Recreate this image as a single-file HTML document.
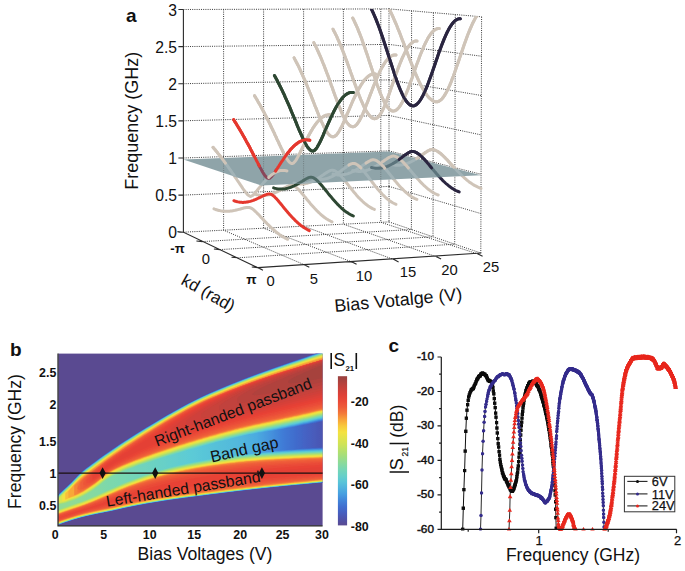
<!DOCTYPE html>
<html><head><meta charset="utf-8"><title>figure</title>
<style>html,body{margin:0;padding:0;background:#fff;}svg{display:block;}text{font-family:"Liberation Sans",sans-serif;}</style>
</head><body>
<svg width="685" height="571" viewBox="0 0 685 571">
<rect width="685" height="571" fill="#fff"/>
<g stroke="#3a3a3a" stroke-width="1.0" stroke-dasharray="1 1.2" fill="none">
<path d="M223.6 9.4L223.6 230.2M263.6 9.3L263.6 228.2M303.6 9.1L303.6 226.2M343.4 9L343.4 224.2M380.8 8.9L380.8 222.3M389 8.9L389 221.9M183.4 9.5L389 8.9M183.4 46.6L389 44.4M183.4 83.7L389 79.9M183.4 120.8L389 115.4M183.4 158L389 150.9M183.4 195.1L389 186.4M183.4 232.2L389 221.9M411.6 10.8L411.4 229.5M433.4 12.7L433 236.8M455.3 14.6L454.7 244.2M481.6 16.8L480.8 253M389 8.9L481.6 16.8M389 44.4L481.5 56.2M389 79.9L481.3 95.5M389 115.4L481.2 134.9M389 150.9L481.1 174.3M389 186.4L480.9 213.6M389 221.9L480.8 253M202.4 241.6L411.4 229.5M219.9 249.6L433 236.8M237.5 257.8L454.7 244.2M304.7 264.9L223.6 230.2M352 262L263.6 228.2M394 259.6L303.6 226.2M436.5 256.8L343.4 224.2M478 254L380.8 222.3"/>
</g>
<defs><clipPath id="cpA"><polygon points="150,400 183.4,9.5 389,8.9 481.6,16.8 520,20 520,400"/></clipPath>
<clipPath id="cpP"><polygon points="183.4,159.4 389,151.6 481,175.3 261.3,185.4"/></clipPath></defs>
<g clip-path="url(#cpA)" fill="none" stroke-width="3.0" stroke-linecap="round" stroke-linejoin="round">
<path d="M391.5 164.5 L392.5 164.7 L393.5 164.9 L394.5 165.1 L395.5 165.2 L396.5 165.2 L397.5 165.3 L398.5 165.2 L399.5 165.2 L400.6 165.1 L401.6 164.9 L402.6 164.8 L403.6 164.6 L404.6 164.3 L405.6 164 L406.6 163.7 L407.6 163.3 L408.6 162.9 L409.6 162.5 L410.6 162 L411.6 161.5 L412.6 161 L413.6 160.4 L414.6 159.8 L415.6 159.2 L416.6 158.6 L417.6 157.9 L418.7 157.3 L419.7 156.6 L420.7 155.9 L421.7 155.2 L422.7 154.4 L423.7 153.7 L424.7 153 L425.7 152.3 L426.7 151.7 L427.7 151 L428.7 150.5 L429.7 150 L430.7 149.7 L431.7 149.5 L432.7 149.5 L433.7 149.7 L434.7 150.1 L435.7 150.5 L436.8 151 L437.8 151.5 L438.8 152.2 L439.8 152.9 L440.8 153.7 L441.8 154.6 L442.8 155.5 L443.8 156.5 L444.8 157.4 L445.8 158.5 L446.8 159.5 L447.8 160.6 L448.8 161.7 L449.8 162.8 L450.8 163.9 L451.8 165 L452.8 166.1 L453.8 167.2 L454.9 168.3 L455.9 169.3 L456.9 170.4 L457.9 171.5 L458.9 172.5 L459.9 173.5 L460.9 174.5 L461.9 175.5 L462.9 176.5 L463.9 177.4 L464.9 178.3 L465.9 179.2 L466.9 180.1 L467.9 180.9 L468.9 181.7 L469.9 182.4 L470.9 183.1 L471.9 183.8 L473 184.5 L474 185.1 L475 185.7 L476 186.2 L477 186.7 L478 187.2 L479 187.6 L480 188 L481 188.4" stroke="#cfc4b8"/>
<path d="M385.5 2 L386.6 4 L387.8 6.1 L388.9 8.3 L390 10.6 L391.1 12.9 L392.3 15.4 L393.4 17.9 L394.5 20.5 L395.7 23.1 L396.8 25.8 L397.9 28.6 L399.1 31.4 L400.2 34.3 L401.3 37.2 L402.4 40.1 L403.6 43 L404.7 46 L405.8 49 L407 51.9 L408.1 54.9 L409.2 57.8 L410.3 60.7 L411.5 63.6 L412.6 66.5 L413.7 69.3 L414.9 72 L416 74.6 L417.1 77.2 L418.2 79.7 L419.4 82.1 L420.5 84.4 L421.6 86.6 L422.8 88.7 L423.9 90.6 L425 92.4 L426.2 94.1 L427.3 95.6 L428.4 97 L429.5 98.2 L430.7 99.2 L431.8 100.1 L432.9 100.8 L434.1 101.3 L435.2 101.7 L436.3 101.8 L437.4 101.8 L438.6 101.4 L439.7 100.8 L440.8 99.9 L442 98.8 L443.1 97.5 L444.2 95.9 L445.3 94.1 L446.5 92.1 L447.6 89.9 L448.7 87.5 L449.9 84.9 L451 82.2 L452.1 79.3 L453.3 76.3 L454.4 73.2 L455.5 70.1 L456.6 66.8 L457.8 63.5 L458.9 60.2 L460 56.9 L461.2 53.6 L462.3 50.2 L463.4 47 L464.5 43.7 L465.7 40.6 L466.8 37.5 L467.9 34.5 L469.1 31.6 L470.2 28.9 L471.3 26.3 L472.4 23.8 L473.6 21.5 L474.7 19.4 L475.8 17.4 L477 15.6 L478.1 14 L479.2 12.7 L480.4 11.5 L481.5 10.6 L482.6 9.8 L483.7 9.3 L484.9 9.1 L486 9" stroke="#cfc4b8"/>
<path d="M352.7 170.5 L353.7 170.7 L354.6 171 L355.6 171.1 L356.5 171.2 L357.5 171.3 L358.5 171.4 L359.4 171.4 L360.4 171.4 L361.3 171.3 L362.3 171.2 L363.3 171.1 L364.2 170.9 L365.2 170.7 L366.1 170.5 L367.1 170.2 L368.1 169.9 L369 169.5 L370 169.1 L371 168.7 L371.9 168.3 L372.9 167.8 L373.8 167.3 L374.8 166.8 L375.8 166.2 L376.7 165.7 L377.7 165.1 L378.6 164.5 L379.6 163.8 L380.6 163.2 L381.5 162.5 L382.5 161.8 L383.4 161.2 L384.4 160.5 L385.4 159.8 L386.3 159.2 L387.3 158.5 L388.2 157.9 L389.2 157.3 L390.2 156.9 L391.1 156.5 L392.1 156.2 L393 156.1 L394 156.1 L395 156.4 L395.9 156.7 L396.9 157.2 L397.9 157.7 L398.8 158.4 L399.8 159.1 L400.7 159.9 L401.7 160.8 L402.7 161.7 L403.6 162.6 L404.6 163.7 L405.5 164.7 L406.5 165.8 L407.5 166.9 L408.4 168 L409.4 169.1 L410.3 170.3 L411.3 171.4 L412.3 172.6 L413.2 173.7 L414.2 174.9 L415.1 176 L416.1 177.1 L417.1 178.2 L418 179.3 L419 180.3 L419.9 181.4 L420.9 182.4 L421.9 183.4 L422.8 184.3 L423.8 185.3 L424.8 186.2 L425.7 187 L426.7 187.9 L427.6 188.7 L428.6 189.4 L429.6 190.2 L430.5 190.9 L431.5 191.5 L432.4 192.1 L433.4 192.7 L434.4 193.3 L435.3 193.8 L436.3 194.2 L437.2 194.6 L438.2 195" stroke="#cfc4b8"/>
<path d="M352.7 18 L353.7 19.9 L354.6 21.9 L355.6 24 L356.6 26.2 L357.6 28.4 L358.5 30.8 L359.5 33.2 L360.5 35.7 L361.5 38.3 L362.4 41 L363.4 43.7 L364.4 46.5 L365.3 49.3 L366.3 52.2 L367.3 55.1 L368.3 58.1 L369.2 61 L370.2 64 L371.2 67 L372.2 70 L373.1 72.9 L374.1 75.8 L375.1 78.7 L376.1 81.6 L377 84.4 L378 87.1 L379 89.7 L379.9 92.2 L380.9 94.6 L381.9 96.9 L382.9 99 L383.8 101.1 L384.8 102.9 L385.8 104.6 L386.8 106.1 L387.7 107.4 L388.7 108.5 L389.7 109.5 L390.6 110.2 L391.6 110.7 L392.6 111 L393.6 111.1 L394.5 110.9 L395.5 110.5 L396.5 109.9 L397.5 109.1 L398.4 108.1 L399.4 106.9 L400.4 105.4 L401.4 103.8 L402.3 102.1 L403.3 100.1 L404.3 98 L405.2 95.8 L406.2 93.5 L407.2 91.1 L408.2 88.6 L409.1 86 L410.1 83.3 L411.1 80.6 L412.1 77.9 L413 75.1 L414 72.3 L415 69.6 L415.9 66.8 L416.9 64.1 L417.9 61.4 L418.9 58.8 L419.8 56.2 L420.8 53.7 L421.8 51.3 L422.8 49 L423.7 46.7 L424.7 44.6 L425.7 42.5 L426.7 40.6 L427.6 38.8 L428.6 37.1 L429.6 35.6 L430.5 34.2 L431.5 33 L432.5 31.8 L433.5 30.9 L434.4 30.1 L435.4 29.5 L436.4 29 L437.4 28.6 L438.3 28.5 L439.3 28.5" stroke="#cfc4b8"/>
<path d="M333 174 L333.9 174.3 L334.9 174.5 L335.8 174.6 L336.8 174.8 L337.7 174.9 L338.7 174.9 L339.6 175 L340.5 175 L341.5 174.9 L342.4 174.8 L343.4 174.7 L344.3 174.5 L345.3 174.3 L346.2 174.1 L347.1 173.9 L348.1 173.6 L349 173.2 L350 172.9 L350.9 172.5 L351.9 172 L352.8 171.6 L353.7 171.1 L354.7 170.6 L355.6 170.1 L356.6 169.5 L357.5 168.9 L358.5 168.3 L359.4 167.7 L360.3 167.1 L361.3 166.4 L362.2 165.8 L363.2 165.1 L364.1 164.5 L365.1 163.8 L366 163.1 L366.9 162.5 L367.9 161.9 L368.8 161.3 L369.8 160.8 L370.7 160.3 L371.7 160 L372.6 159.8 L373.5 159.8 L374.5 159.9 L375.4 160.2 L376.4 160.6 L377.3 161.2 L378.2 161.8 L379.2 162.5 L380.1 163.3 L381.1 164.2 L382 165.1 L383 166.1 L383.9 167.1 L384.8 168.2 L385.8 169.3 L386.7 170.5 L387.7 171.6 L388.6 172.8 L389.6 174 L390.5 175.1 L391.4 176.3 L392.4 177.5 L393.3 178.7 L394.3 179.8 L395.2 181 L396.2 182.1 L397.1 183.2 L398 184.3 L399 185.4 L399.9 186.4 L400.9 187.5 L401.8 188.4 L402.8 189.4 L403.7 190.3 L404.6 191.2 L405.6 192.1 L406.5 192.9 L407.5 193.7 L408.4 194.5 L409.4 195.2 L410.3 195.8 L411.2 196.5 L412.2 197.1 L413.1 197.6 L414.1 198.1 L415 198.6 L416 199 L416.9 199.4" stroke="#cfc4b8"/>
<path d="M333 29.2 L333.9 31 L334.9 32.8 L335.8 34.7 L336.8 36.7 L337.7 38.8 L338.7 40.9 L339.6 43.1 L340.6 45.3 L341.5 47.6 L342.4 50 L343.4 52.4 L344.3 54.8 L345.3 57.3 L346.2 59.9 L347.2 62.4 L348.1 65 L349 67.6 L350 70.3 L350.9 72.9 L351.9 75.6 L352.8 78.2 L353.8 80.9 L354.7 83.5 L355.7 86.1 L356.6 88.7 L357.5 91.2 L358.5 93.7 L359.4 96.1 L360.4 98.5 L361.3 100.7 L362.3 102.9 L363.2 105 L364.1 107 L365.1 108.8 L366 110.5 L367 112.1 L367.9 113.5 L368.9 114.8 L369.8 115.9 L370.8 116.8 L371.7 117.6 L372.6 118.1 L373.6 118.5 L374.5 118.7 L375.5 118.6 L376.4 118.3 L377.4 117.7 L378.3 116.8 L379.2 115.7 L380.2 114.4 L381.1 112.9 L382.1 111.2 L383 109.3 L384 107.3 L384.9 105.1 L385.9 102.8 L386.8 100.4 L387.7 97.8 L388.7 95.2 L389.6 92.6 L390.6 89.9 L391.5 87.1 L392.5 84.4 L393.4 81.7 L394.3 78.9 L395.3 76.2 L396.2 73.6 L397.2 70.9 L398.1 68.4 L399.1 65.9 L400 63.5 L401 61.1 L401.9 58.9 L402.8 56.8 L403.8 54.8 L404.7 52.9 L405.7 51.1 L406.6 49.4 L407.6 47.9 L408.5 46.5 L409.4 45.3 L410.4 44.2 L411.3 43.3 L412.3 42.5 L413.2 41.9 L414.2 41.4 L415.1 41.1 L416.1 41 L417 41" stroke="#cfc4b8"/>
<path d="M313.8 178.5 L314.7 178.8 L315.6 179 L316.6 179.2 L317.5 179.3 L318.4 179.4 L319.3 179.5 L320.3 179.5 L321.2 179.5 L322.1 179.4 L323 179.3 L324 179.2 L324.9 179 L325.8 178.8 L326.7 178.6 L327.7 178.3 L328.6 178 L329.5 177.6 L330.4 177.2 L331.3 176.8 L332.3 176.4 L333.2 175.9 L334.1 175.4 L335 174.9 L336 174.3 L336.9 173.7 L337.8 173.1 L338.7 172.5 L339.7 171.9 L340.6 171.2 L341.5 170.5 L342.4 169.8 L343.4 169.1 L344.3 168.4 L345.2 167.7 L346.1 167 L347 166.3 L348 165.7 L348.9 165.1 L349.8 164.5 L350.7 164 L351.7 163.7 L352.6 163.4 L353.5 163.4 L354.4 163.5 L355.4 163.8 L356.3 164.2 L357.2 164.7 L358.1 165.4 L359.1 166.1 L360 167 L360.9 167.9 L361.8 168.9 L362.8 169.9 L363.7 171 L364.6 172.2 L365.5 173.3 L366.4 174.5 L367.4 175.7 L368.3 176.9 L369.2 178.2 L370.1 179.4 L371.1 180.6 L372 181.8 L372.9 183 L373.8 184.2 L374.8 185.4 L375.7 186.6 L376.6 187.7 L377.5 188.9 L378.5 190 L379.4 191 L380.3 192.1 L381.2 193.1 L382.1 194.1 L383.1 195 L384 195.9 L384.9 196.8 L385.8 197.7 L386.8 198.5 L387.7 199.2 L388.6 200 L389.5 200.7 L390.5 201.3 L391.4 201.9 L392.3 202.5 L393.2 203 L394.2 203.5 L395.1 203.9 L396 204.3" stroke="#cfc4b8"/>
<path d="M313.8 42.6 L314.7 44.4 L315.6 46.2 L316.6 48.1 L317.5 50.1 L318.4 52.1 L319.3 54.2 L320.3 56.3 L321.2 58.5 L322.1 60.7 L323 63 L324 65.3 L324.9 67.7 L325.8 70.1 L326.7 72.6 L327.7 75 L328.6 77.6 L329.5 80.1 L330.4 82.6 L331.3 85.2 L332.3 87.8 L333.2 90.4 L334.1 92.9 L335 95.5 L336 98 L336.9 100.5 L337.8 102.9 L338.7 105.3 L339.7 107.7 L340.6 109.9 L341.5 112.1 L342.4 114.2 L343.4 116.1 L344.3 118 L345.2 119.7 L346.1 121.2 L347 122.6 L348 123.8 L348.9 124.8 L349.8 125.6 L350.7 126.2 L351.7 126.6 L352.6 126.8 L353.5 126.7 L354.4 126.4 L355.4 125.8 L356.3 124.9 L357.2 123.9 L358.1 122.6 L359.1 121.2 L360 119.5 L360.9 117.8 L361.8 115.8 L362.8 113.8 L363.7 111.7 L364.6 109.4 L365.5 107.1 L366.4 104.8 L367.4 102.4 L368.3 100 L369.2 97.5 L370.1 95.1 L371.1 92.7 L372 90.3 L372.9 87.9 L373.8 85.5 L374.8 83.2 L375.7 81 L376.6 78.8 L377.5 76.6 L378.5 74.6 L379.4 72.6 L380.3 70.7 L381.2 68.9 L382.1 67.2 L383.1 65.6 L384 64.1 L384.9 62.7 L385.8 61.4 L386.8 60.2 L387.7 59.1 L388.6 58.1 L389.5 57.3 L390.5 56.6 L391.4 56 L392.3 55.5 L393.2 55.2 L394.2 55 L395.1 54.9 L396 55" stroke="#cfc4b8"/>
<path d="M294 183 L294.9 183.3 L295.8 183.5 L296.7 183.7 L297.6 183.9 L298.5 184 L299.4 184.1 L300.3 184.1 L301.2 184.1 L302.1 184.1 L303 184 L303.9 183.9 L304.8 183.8 L305.7 183.6 L306.6 183.4 L307.6 183.2 L308.5 182.9 L309.4 182.6 L310.3 182.3 L311.2 181.9 L312.1 181.5 L313 181.1 L313.9 180.7 L314.8 180.2 L315.7 179.7 L316.6 179.2 L317.5 178.7 L318.4 178.1 L319.3 177.5 L320.2 176.9 L321.1 176.3 L322 175.7 L322.9 175.1 L323.8 174.5 L324.7 173.8 L325.6 173.2 L326.5 172.6 L327.4 172.1 L328.3 171.5 L329.2 171.1 L330.1 170.7 L331 170.4 L331.9 170.2 L332.8 170.3 L333.7 170.5 L334.7 170.8 L335.6 171.3 L336.5 171.9 L337.4 172.6 L338.3 173.3 L339.2 174.2 L340.1 175.1 L341 176.1 L341.9 177.1 L342.8 178.1 L343.7 179.2 L344.6 180.4 L345.5 181.5 L346.4 182.6 L347.3 183.8 L348.2 184.9 L349.1 186.1 L350 187.2 L350.9 188.4 L351.8 189.5 L352.7 190.6 L353.6 191.7 L354.5 192.8 L355.4 193.8 L356.3 194.9 L357.2 195.9 L358.1 196.9 L359 197.9 L359.9 198.8 L360.8 199.7 L361.8 200.6 L362.7 201.5 L363.6 202.3 L364.5 203.1 L365.4 203.8 L366.3 204.6 L367.2 205.2 L368.1 205.9 L369 206.5 L369.9 207.1 L370.8 207.6 L371.7 208.1 L372.6 208.6 L373.5 209 L374.4 209.4" stroke="#cfc4b8"/>
<path d="M294.1 57.9 L295 59.6 L295.9 61.3 L296.8 63.1 L297.8 64.9 L298.7 66.7 L299.6 68.6 L300.5 70.6 L301.4 72.6 L302.3 74.6 L303.2 76.7 L304.2 78.8 L305.1 80.9 L306 83.1 L306.9 85.3 L307.8 87.5 L308.7 89.8 L309.6 92.1 L310.6 94.4 L311.5 96.7 L312.4 99.1 L313.3 101.4 L314.2 103.7 L315.1 106.1 L316.1 108.4 L317 110.7 L317.9 113 L318.8 115.2 L319.7 117.5 L320.6 119.6 L321.5 121.7 L322.5 123.7 L323.4 125.6 L324.3 127.5 L325.2 129.2 L326.1 130.7 L327 132.1 L327.9 133.4 L328.9 134.5 L329.8 135.4 L330.7 136 L331.6 136.5 L332.5 136.8 L333.4 136.8 L334.3 136.5 L335.3 135.9 L336.2 135.2 L337.1 134.1 L338 132.9 L338.9 131.5 L339.8 130 L340.7 128.3 L341.7 126.5 L342.6 124.6 L343.5 122.6 L344.4 120.5 L345.3 118.5 L346.2 116.3 L347.1 114.2 L348.1 112 L349 109.9 L349.9 107.7 L350.8 105.6 L351.7 103.5 L352.6 101.4 L353.5 99.4 L354.5 97.4 L355.4 95.5 L356.3 93.6 L357.2 91.8 L358.1 90 L359 88.4 L360 86.8 L360.9 85.2 L361.8 83.8 L362.7 82.5 L363.6 81.2 L364.5 80 L365.4 79 L366.4 78 L367.3 77.1 L368.2 76.3 L369.1 75.7 L370 75.1 L370.9 74.7 L371.8 74.3 L372.8 74.1 L373.7 73.9 L374.6 73.9 L375.5 74" stroke="#cfc4b8"/>
<path d="M254.5 194 L255.4 194.3 L256.2 194.5 L257.1 194.8 L258 195 L258.9 195.1 L259.7 195.3 L260.6 195.4 L261.5 195.4 L262.3 195.5 L263.2 195.5 L264.1 195.5 L264.9 195.4 L265.8 195.3 L266.7 195.2 L267.6 195.1 L268.4 194.9 L269.3 194.7 L270.2 194.5 L271 194.2 L271.9 193.9 L272.8 193.6 L273.7 193.3 L274.5 193 L275.4 192.6 L276.3 192.2 L277.1 191.8 L278 191.4 L278.9 191 L279.8 190.5 L280.6 190 L281.5 189.6 L282.4 189.1 L283.2 188.6 L284.1 188.1 L285 187.7 L285.8 187.2 L286.7 186.7 L287.6 186.3 L288.5 186 L289.3 185.6 L290.2 185.4 L291.1 185.3 L291.9 185.3 L292.8 185.4 L293.7 185.8 L294.6 186.2 L295.4 186.8 L296.3 187.4 L297.2 188.2 L298 189 L298.9 189.9 L299.8 190.9 L300.7 191.9 L301.5 192.9 L302.4 193.9 L303.3 194.9 L304.1 196 L305 197.1 L305.9 198.1 L306.7 199.2 L307.6 200.2 L308.5 201.3 L309.4 202.3 L310.2 203.4 L311.1 204.4 L312 205.4 L312.8 206.4 L313.7 207.3 L314.6 208.3 L315.5 209.2 L316.3 210.1 L317.2 211 L318.1 211.9 L318.9 212.7 L319.8 213.5 L320.7 214.3 L321.6 215.1 L322.4 215.8 L323.3 216.5 L324.2 217.2 L325 217.8 L325.9 218.4 L326.8 219 L327.6 219.5 L328.5 220.1 L329.4 220.5 L330.3 221 L331.1 221.4 L332 221.8" stroke="#cfc4b8"/>
<path d="M254.5 95.7 L255.4 97.1 L256.2 98.5 L257.1 99.9 L257.9 101.4 L258.8 102.9 L259.7 104.4 L260.5 105.9 L261.4 107.5 L262.2 109.1 L263.1 110.7 L264 112.3 L264.8 113.9 L265.7 115.6 L266.5 117.3 L267.4 119 L268.3 120.7 L269.1 122.4 L270 124.2 L270.8 126 L271.7 127.8 L272.6 129.6 L273.4 131.4 L274.3 133.2 L275.1 135.1 L276 136.9 L276.8 138.8 L277.7 140.6 L278.6 142.4 L279.4 144.3 L280.3 146.1 L281.1 147.9 L282 149.7 L282.9 151.5 L283.7 153.2 L284.6 154.8 L285.4 156.4 L286.3 157.9 L287.2 159.3 L288 160.5 L288.9 161.6 L289.7 162.4 L290.6 163.1 L291.5 163.5 L292.3 163.6 L293.2 163.2 L294 162.6 L294.9 161.6 L295.8 160.4 L296.6 159.1 L297.5 157.6 L298.3 156 L299.2 154.4 L300.1 152.7 L300.9 150.9 L301.8 149.2 L302.6 147.4 L303.5 145.7 L304.4 144 L305.2 142.2 L306.1 140.5 L306.9 138.8 L307.8 137.2 L308.7 135.6 L309.5 134 L310.4 132.5 L311.2 131 L312.1 129.6 L312.9 128.2 L313.8 126.9 L314.7 125.6 L315.5 124.4 L316.4 123.3 L317.2 122.2 L318.1 121.2 L319 120.2 L319.8 119.4 L320.7 118.6 L321.5 117.8 L322.4 117.2 L323.3 116.6 L324.1 116.1 L325 115.7 L325.8 115.3 L326.7 115.1 L327.6 114.9 L328.4 114.8 L329.3 114.8 L330.1 114.8 L331 115" stroke="#cfc4b8"/>
<path d="M214 208.9 L214.8 209.2 L215.7 209.5 L216.5 209.8 L217.3 210 L218.1 210.3 L219 210.5 L219.8 210.6 L220.6 210.8 L221.4 210.9 L222.3 211.1 L223.1 211.2 L223.9 211.2 L224.8 211.3 L225.6 211.3 L226.4 211.3 L227.2 211.3 L228.1 211.3 L228.9 211.2 L229.7 211.2 L230.5 211.1 L231.4 211 L232.2 210.9 L233 210.7 L233.8 210.6 L234.7 210.4 L235.5 210.2 L236.3 210 L237.2 209.8 L238 209.6 L238.8 209.4 L239.6 209.2 L240.5 209 L241.3 208.7 L242.1 208.5 L242.9 208.3 L243.8 208 L244.6 207.8 L245.4 207.7 L246.3 207.5 L247.1 207.4 L247.9 207.4 L248.7 207.4 L249.6 207.5 L250.4 207.8 L251.2 208.2 L252 208.6 L252.9 209.2 L253.7 209.9 L254.5 210.6 L255.3 211.4 L256.2 212.2 L257 213 L257.8 213.9 L258.7 214.7 L259.5 215.6 L260.3 216.5 L261.1 217.4 L262 218.3 L262.8 219.1 L263.6 220 L264.4 220.9 L265.3 221.8 L266.1 222.6 L266.9 223.5 L267.8 224.3 L268.6 225.1 L269.4 225.9 L270.2 226.7 L271.1 227.5 L271.9 228.3 L272.7 229 L273.5 229.8 L274.4 230.5 L275.2 231.2 L276 231.9 L276.8 232.5 L277.7 233.2 L278.5 233.8 L279.3 234.4 L280.2 235 L281 235.6 L281.8 236.1 L282.6 236.6 L283.5 237.1 L284.3 237.6 L285.1 238.1 L285.9 238.5 L286.8 238.9 L287.6 239.3" stroke="#cfc4b8"/>
<path d="M213 147.3 L213.8 148.3 L214.7 149.3 L215.5 150.3 L216.3 151.3 L217.2 152.3 L218 153.4 L218.8 154.4 L219.7 155.5 L220.5 156.5 L221.3 157.6 L222.1 158.7 L223 159.8 L223.8 160.9 L224.6 162.1 L225.5 163.2 L226.3 164.4 L227.1 165.5 L228 166.7 L228.8 167.8 L229.6 169 L230.5 170.2 L231.3 171.4 L232.1 172.6 L233 173.8 L233.8 175.1 L234.6 176.3 L235.4 177.5 L236.3 178.7 L237.1 180 L237.9 181.2 L238.8 182.5 L239.6 183.7 L240.4 184.9 L241.3 186.2 L242.1 187.4 L242.9 188.6 L243.8 189.8 L244.6 190.9 L245.4 192 L246.3 193.1 L247.1 194.1 L247.9 194.9 L248.8 195.6 L249.6 196.1 L250.4 196.4 L251.2 196.3 L252.1 195.8 L252.9 195.2 L253.7 194.4 L254.6 193.5 L255.4 192.5 L256.2 191.5 L257.1 190.5 L257.9 189.5 L258.7 188.5 L259.6 187.4 L260.4 186.4 L261.2 185.4 L262.1 184.4 L262.9 183.5 L263.7 182.5 L264.6 181.6 L265.4 180.7 L266.2 179.8 L267 179 L267.9 178.2 L268.7 177.4 L269.5 176.6 L270.4 175.9 L271.2 175.2 L272 174.6 L272.9 174 L273.7 173.4 L274.5 172.9 L275.4 172.5 L276.2 172 L277 171.7 L277.9 171.3 L278.7 171 L279.5 170.8 L280.3 170.6 L281.2 170.5 L282 170.4 L282.8 170.4 L283.7 170.4 L284.5 170.5 L285.3 170.6 L286.2 170.8 L287 171" stroke="#cfc4b8"/>
<path d="M371.5 167.5 L372.5 167.7 L373.5 167.9 L374.5 168.1 L375.4 168.2 L376.4 168.3 L377.4 168.3 L378.4 168.3 L379.4 168.2 L380.4 168.1 L381.4 168 L382.3 167.8 L383.3 167.6 L384.3 167.3 L385.3 167.1 L386.3 166.7 L387.3 166.4 L388.3 166 L389.2 165.5 L390.2 165 L391.2 164.5 L392.2 164 L393.2 163.4 L394.2 162.9 L395.1 162.2 L396.1 161.6 L397.1 160.9 L398.1 160.2 L399.1 159.5 L400.1 158.8 L401.1 158.1 L402 157.3 L403 156.6 L404 155.8 L405 155.1 L406 154.4 L407 153.7 L408 153.1 L408.9 152.5 L409.9 152 L410.9 151.6 L411.9 151.4 L412.9 151.4 L413.9 151.6 L414.9 151.9 L415.8 152.3 L416.8 152.9 L417.8 153.5 L418.8 154.2 L419.8 155 L420.8 155.8 L421.8 156.7 L422.7 157.7 L423.7 158.7 L424.7 159.8 L425.7 160.9 L426.7 162 L427.7 163.2 L428.7 164.3 L429.6 165.5 L430.6 166.7 L431.6 167.9 L432.6 169 L433.6 170.2 L434.6 171.4 L435.6 172.5 L436.5 173.7 L437.5 174.8 L438.5 175.9 L439.5 177 L440.5 178.1 L441.5 179.1 L442.4 180.1 L443.4 181.1 L444.4 182 L445.4 183 L446.4 183.9 L447.4 184.7 L448.4 185.5 L449.3 186.3 L450.3 187 L451.3 187.7 L452.3 188.4 L453.3 189 L454.3 189.6 L455.3 190.2 L456.2 190.7 L457.2 191.1 L458.2 191.5 L459.2 191.9" stroke="#2a2540"/>
<path d="M371.5 9.3 L372.5 11.4 L373.5 13.5 L374.5 15.8 L375.5 18.2 L376.5 20.6 L377.5 23.2 L378.5 25.8 L379.5 28.5 L380.5 31.3 L381.5 34.2 L382.5 37.1 L383.5 40.1 L384.5 43.1 L385.5 46.2 L386.5 49.2 L387.5 52.4 L388.5 55.5 L389.5 58.6 L390.5 61.7 L391.5 64.8 L392.5 67.9 L393.5 70.9 L394.4 73.9 L395.4 76.8 L396.4 79.6 L397.4 82.4 L398.4 85 L399.4 87.5 L400.4 90 L401.4 92.2 L402.4 94.4 L403.4 96.4 L404.4 98.2 L405.4 99.8 L406.4 101.3 L407.4 102.5 L408.4 103.6 L409.4 104.5 L410.4 105.1 L411.4 105.6 L412.4 105.8 L413.4 105.9 L414.4 105.7 L415.4 105.2 L416.4 104.6 L417.4 103.7 L418.4 102.7 L419.4 101.4 L420.4 100 L421.4 98.3 L422.4 96.5 L423.4 94.6 L424.4 92.5 L425.4 90.2 L426.4 87.8 L427.4 85.3 L428.4 82.8 L429.4 80.1 L430.4 77.3 L431.4 74.5 L432.4 71.7 L433.4 68.8 L434.4 65.9 L435.4 63 L436.4 60.1 L437.4 57.2 L438.3 54.4 L439.3 51.6 L440.3 48.9 L441.3 46.2 L442.3 43.6 L443.3 41.1 L444.3 38.6 L445.3 36.3 L446.3 34.1 L447.3 32 L448.3 30.1 L449.3 28.3 L450.3 26.6 L451.3 25.1 L452.3 23.7 L453.3 22.5 L454.3 21.4 L455.3 20.5 L456.3 19.8 L457.3 19.3 L458.3 18.9 L459.3 18.7 L460.3 18.7" stroke="#2a2540"/>
<path d="M273.6 187.9 L274.5 188.2 L275.4 188.4 L276.3 188.6 L277.2 188.8 L278.1 188.9 L279 189 L279.9 189.1 L280.8 189.1 L281.7 189.1 L282.6 189.1 L283.5 189 L284.4 188.9 L285.3 188.8 L286.2 188.6 L287 188.4 L287.9 188.2 L288.8 187.9 L289.7 187.6 L290.6 187.3 L291.5 187 L292.4 186.6 L293.3 186.2 L294.2 185.8 L295.1 185.3 L296 184.9 L296.9 184.4 L297.8 183.9 L298.7 183.4 L299.6 182.8 L300.5 182.3 L301.4 181.7 L302.3 181.2 L303.2 180.6 L304.1 180.1 L305 179.5 L305.9 179 L306.8 178.5 L307.7 178.1 L308.6 177.7 L309.5 177.4 L310.4 177.2 L311.3 177.2 L312.2 177.4 L313.1 177.7 L313.9 178.1 L314.8 178.6 L315.7 179.3 L316.6 180 L317.5 180.9 L318.4 181.8 L319.3 182.7 L320.2 183.7 L321.1 184.7 L322 185.8 L322.9 186.9 L323.8 188 L324.7 189.1 L325.6 190.2 L326.5 191.3 L327.4 192.4 L328.3 193.6 L329.2 194.7 L330.1 195.8 L331 196.8 L331.9 197.9 L332.8 199 L333.7 200 L334.6 201 L335.5 202 L336.4 203 L337.3 203.9 L338.2 204.9 L339.1 205.8 L340 206.6 L340.8 207.5 L341.7 208.3 L342.6 209.1 L343.5 209.8 L344.4 210.6 L345.3 211.3 L346.2 211.9 L347.1 212.5 L348 213.1 L348.9 213.7 L349.8 214.2 L350.7 214.7 L351.6 215.2 L352.5 215.6 L353.4 216" stroke="#2d4732"/>
<path d="M274.4 75.5 L275.3 77.1 L276.2 78.7 L277.1 80.3 L277.9 82 L278.8 83.7 L279.7 85.5 L280.6 87.2 L281.5 89.1 L282.4 90.9 L283.3 92.8 L284.2 94.7 L285 96.6 L285.9 98.6 L286.8 100.6 L287.7 102.6 L288.6 104.6 L289.5 106.7 L290.4 108.8 L291.2 110.9 L292.1 113 L293 115.1 L293.9 117.3 L294.8 119.4 L295.7 121.6 L296.6 123.7 L297.4 125.9 L298.3 128 L299.2 130.1 L300.1 132.2 L301 134.2 L301.9 136.2 L302.8 138.2 L303.7 140 L304.5 141.8 L305.4 143.5 L306.3 145.1 L307.2 146.5 L308.1 147.8 L309 148.9 L309.9 149.7 L310.7 150.4 L311.6 150.9 L312.5 151.1 L313.4 151 L314.3 150.5 L315.2 149.8 L316.1 148.8 L317 147.5 L317.8 146.1 L318.7 144.5 L319.6 142.8 L320.5 141 L321.4 139.1 L322.3 137.1 L323.2 135.1 L324 133.1 L324.9 131 L325.8 128.9 L326.7 126.9 L327.6 124.9 L328.5 122.8 L329.4 120.8 L330.3 118.9 L331.1 117 L332 115.1 L332.9 113.3 L333.8 111.5 L334.7 109.8 L335.6 108.1 L336.5 106.6 L337.3 105.1 L338.2 103.6 L339.1 102.3 L340 101 L340.9 99.8 L341.8 98.6 L342.7 97.6 L343.5 96.7 L344.4 95.8 L345.3 95 L346.2 94.4 L347.1 93.8 L348 93.3 L348.9 92.9 L349.8 92.6 L350.6 92.4 L351.5 92.4 L352.4 92.4 L353.3 92.5" stroke="#2d4732"/>
<path d="M233.9 200.7 L234.7 201 L235.6 201.3 L236.4 201.5 L237.3 201.7 L238.1 201.9 L239 202.1 L239.8 202.2 L240.7 202.3 L241.5 202.3 L242.4 202.4 L243.2 202.4 L244.1 202.3 L244.9 202.3 L245.8 202.2 L246.6 202.1 L247.5 202 L248.3 201.8 L249.1 201.6 L250 201.4 L250.8 201.2 L251.7 200.9 L252.5 200.6 L253.4 200.3 L254.2 200 L255.1 199.7 L255.9 199.3 L256.8 198.9 L257.6 198.5 L258.5 198.1 L259.3 197.7 L260.2 197.3 L261 196.9 L261.9 196.5 L262.7 196.1 L263.6 195.7 L264.4 195.3 L265.2 194.9 L266.1 194.6 L266.9 194.3 L267.8 194.1 L268.6 193.9 L269.5 193.9 L270.3 194.1 L271.2 194.4 L272 194.8 L272.9 195.4 L273.7 196.1 L274.6 196.8 L275.4 197.7 L276.3 198.6 L277.1 199.5 L278 200.5 L278.8 201.5 L279.6 202.5 L280.5 203.5 L281.3 204.6 L282.2 205.6 L283 206.6 L283.9 207.7 L284.7 208.7 L285.6 209.7 L286.4 210.7 L287.3 211.7 L288.1 212.7 L289 213.7 L289.8 214.7 L290.7 215.6 L291.5 216.6 L292.4 217.5 L293.2 218.4 L294.1 219.2 L294.9 220.1 L295.7 220.9 L296.6 221.7 L297.4 222.5 L298.3 223.2 L299.1 224 L300 224.7 L300.8 225.4 L301.7 226 L302.5 226.6 L303.4 227.2 L304.2 227.8 L305.1 228.3 L305.9 228.8 L306.8 229.3 L307.6 229.8 L308.5 230.2 L309.3 230.6" stroke="#e5382e"/>
<path d="M233.6 119.7 L234.5 121 L235.3 122.4 L236.2 123.7 L237 125.1 L237.9 126.5 L238.7 127.9 L239.6 129.3 L240.4 130.8 L241.3 132.2 L242.2 133.7 L243 135.2 L243.9 136.7 L244.7 138.2 L245.6 139.8 L246.4 141.4 L247.3 142.9 L248.2 144.5 L249 146.1 L249.9 147.7 L250.7 149.4 L251.6 151 L252.4 152.7 L253.3 154.3 L254.1 156 L255 157.6 L255.9 159.3 L256.7 161 L257.6 162.6 L258.4 164.3 L259.3 165.9 L260.1 167.5 L261 169.1 L261.9 170.7 L262.7 172.2 L263.6 173.6 L264.4 174.9 L265.3 176 L266.1 177 L267 177.8 L267.8 178.2 L268.7 178.4 L269.6 178.2 L270.4 177.6 L271.3 176.9 L272.1 175.9 L273 174.8 L273.8 173.6 L274.7 172.4 L275.6 171.1 L276.4 169.8 L277.3 168.5 L278.1 167.1 L279 165.8 L279.8 164.5 L280.7 163.1 L281.5 161.8 L282.4 160.6 L283.3 159.3 L284.1 158 L285 156.8 L285.8 155.6 L286.7 154.4 L287.5 153.3 L288.4 152.2 L289.3 151.2 L290.1 150.1 L291 149.1 L291.8 148.2 L292.7 147.3 L293.5 146.4 L294.4 145.6 L295.2 144.9 L296.1 144.2 L297 143.5 L297.8 142.9 L298.7 142.3 L299.5 141.8 L300.4 141.4 L301.2 141 L302.1 140.6 L303 140.3 L303.8 140.1 L304.7 139.9 L305.5 139.8 L306.4 139.8 L307.2 139.8 L308.1 139.9 L308.9 140 L309.8 140.2" stroke="#e5382e"/>
</g>
<polygon points="183.4,159.4 389,151.6 481,175.3 261.3,185.4" fill="#8fa4a9"/>
<path d="M223.6 9.4L223.6 230.2M263.6 9.3L263.6 228.2M303.6 9.1L303.6 226.2M343.4 9L343.4 224.2M380.8 8.9L380.8 222.3M183.4 195.1L389 186.4" stroke="#3a3a3a" stroke-width="1.0" stroke-dasharray="1 1.2" fill="none" opacity="0.35" clip-path="url(#cpP)"/>
<g clip-path="url(#cpP)" fill="none" stroke-width="3.0" stroke-linecap="round" stroke-linejoin="round">
<path d="M391.5 164.5 L392.5 164.7 L393.5 164.9 L394.5 165.1 L395.5 165.2 L396.5 165.2 L397.5 165.3 L398.5 165.2 L399.5 165.2 L400.6 165.1 L401.6 164.9 L402.6 164.8 L403.6 164.6 L404.6 164.3 L405.6 164 L406.6 163.7 L407.6 163.3 L408.6 162.9 L409.6 162.5 L410.6 162 L411.6 161.5 L412.6 161 L413.6 160.4 L414.6 159.8 L415.6 159.2 L416.6 158.6 L417.6 157.9" stroke="#a2b3b7"/>
<path d="M452.8 166.1 L453.8 167.2 L454.9 168.3 L455.9 169.3 L456.9 170.4 L457.9 171.5 L458.9 172.5 L459.9 173.5 L460.9 174.5 L461.9 175.5 L462.9 176.5 L463.9 177.4 L464.9 178.3 L465.9 179.2 L466.9 180.1 L467.9 180.9 L468.9 181.7 L469.9 182.4 L470.9 183.1 L471.9 183.8 L473 184.5 L474 185.1 L475 185.7 L476 186.2 L477 186.7 L478 187.2 L479 187.6 L480 188 L481 188.4" stroke="#a2b3b7"/>
<path d="M352.7 170.5 L353.7 170.7 L354.6 171 L355.6 171.1 L356.5 171.2 L357.5 171.3 L358.5 171.4 L359.4 171.4 L360.4 171.4 L361.3 171.3 L362.3 171.2 L363.3 171.1 L364.2 170.9 L365.2 170.7 L366.1 170.5 L367.1 170.2 L368.1 169.9 L369 169.5 L370 169.1 L371 168.7 L371.9 168.3 L372.9 167.8 L373.8 167.3 L374.8 166.8 L375.8 166.2 L376.7 165.7 L377.7 165.1 L378.6 164.5 L379.6 163.8 L380.6 163.2 L381.5 162.5 L382.5 161.8 L383.4 161.2" stroke="#a2b3b7"/>
<path d="M407.5 166.9 L408.4 168 L409.4 169.1 L410.3 170.3 L411.3 171.4 L412.3 172.6 L413.2 173.7 L414.2 174.9 L415.1 176 L416.1 177.1 L417.1 178.2 L418 179.3 L419 180.3 L419.9 181.4 L420.9 182.4 L421.9 183.4 L422.8 184.3 L423.8 185.3 L424.8 186.2 L425.7 187 L426.7 187.9 L427.6 188.7 L428.6 189.4 L429.6 190.2 L430.5 190.9 L431.5 191.5 L432.4 192.1 L433.4 192.7 L434.4 193.3 L435.3 193.8 L436.3 194.2 L437.2 194.6 L438.2 195" stroke="#a2b3b7"/>
<path d="M333 174 L333.9 174.3 L334.9 174.5 L335.8 174.6 L336.8 174.8 L337.7 174.9 L338.7 174.9 L339.6 175 L340.5 175 L341.5 174.9 L342.4 174.8 L343.4 174.7 L344.3 174.5 L345.3 174.3 L346.2 174.1 L347.1 173.9 L348.1 173.6 L349 173.2 L350 172.9 L350.9 172.5 L351.9 172 L352.8 171.6 L353.7 171.1 L354.7 170.6 L355.6 170.1 L356.6 169.5 L357.5 168.9 L358.5 168.3 L359.4 167.7 L360.3 167.1 L361.3 166.4 L362.2 165.8 L363.2 165.1 L364.1 164.5 L365.1 163.8 L366 163.1 L366.9 162.5" stroke="#a2b3b7"/>
<path d="M383.9 167.1 L384.8 168.2 L385.8 169.3 L386.7 170.5 L387.7 171.6 L388.6 172.8 L389.6 174 L390.5 175.1 L391.4 176.3 L392.4 177.5 L393.3 178.7 L394.3 179.8 L395.2 181 L396.2 182.1 L397.1 183.2 L398 184.3 L399 185.4 L399.9 186.4 L400.9 187.5 L401.8 188.4 L402.8 189.4 L403.7 190.3 L404.6 191.2 L405.6 192.1 L406.5 192.9 L407.5 193.7 L408.4 194.5 L409.4 195.2 L410.3 195.8 L411.2 196.5 L412.2 197.1 L413.1 197.6 L414.1 198.1 L415 198.6 L416 199 L416.9 199.4" stroke="#a2b3b7"/>
<path d="M313.8 178.5 L314.7 178.8 L315.6 179 L316.6 179.2 L317.5 179.3 L318.4 179.4 L319.3 179.5 L320.3 179.5 L321.2 179.5 L322.1 179.4 L323 179.3 L324 179.2 L324.9 179 L325.8 178.8 L326.7 178.6 L327.7 178.3 L328.6 178 L329.5 177.6 L330.4 177.2 L331.3 176.8 L332.3 176.4 L333.2 175.9 L334.1 175.4 L335 174.9 L336 174.3 L336.9 173.7 L337.8 173.1 L338.7 172.5 L339.7 171.9 L340.6 171.2 L341.5 170.5 L342.4 169.8 L343.4 169.1 L344.3 168.4 L345.2 167.7 L346.1 167 L347 166.3 L348 165.7 L348.9 165.1 L349.8 164.5" stroke="#a2b3b7"/>
<path d="M360 167 L360.9 167.9 L361.8 168.9 L362.8 169.9 L363.7 171 L364.6 172.2 L365.5 173.3 L366.4 174.5 L367.4 175.7 L368.3 176.9 L369.2 178.2 L370.1 179.4 L371.1 180.6 L372 181.8 L372.9 183 L373.8 184.2 L374.8 185.4 L375.7 186.6 L376.6 187.7 L377.5 188.9 L378.5 190 L379.4 191 L380.3 192.1 L381.2 193.1 L382.1 194.1 L383.1 195 L384 195.9 L384.9 196.8 L385.8 197.7 L386.8 198.5 L387.7 199.2 L388.6 200 L389.5 200.7 L390.5 201.3 L391.4 201.9 L392.3 202.5 L393.2 203 L394.2 203.5 L395.1 203.9 L396 204.3" stroke="#a2b3b7"/>
<path d="M294 183 L294.9 183.3 L295.8 183.5 L296.7 183.7 L297.6 183.9 L298.5 184 L299.4 184.1 L300.3 184.1 L301.2 184.1 L302.1 184.1 L303 184 L303.9 183.9 L304.8 183.8 L305.7 183.6 L306.6 183.4 L307.6 183.2 L308.5 182.9 L309.4 182.6 L310.3 182.3 L311.2 181.9 L312.1 181.5 L313 181.1 L313.9 180.7 L314.8 180.2 L315.7 179.7 L316.6 179.2 L317.5 178.7 L318.4 178.1 L319.3 177.5 L320.2 176.9 L321.1 176.3 L322 175.7 L322.9 175.1 L323.8 174.5 L324.7 173.8 L325.6 173.2 L326.5 172.6 L327.4 172.1 L328.3 171.5 L329.2 171.1 L330.1 170.7 L331 170.4 L331.9 170.2 L332.8 170.3 L333.7 170.5 L334.7 170.8 L335.6 171.3 L336.5 171.9 L337.4 172.6 L338.3 173.3 L339.2 174.2 L340.1 175.1 L341 176.1 L341.9 177.1 L342.8 178.1 L343.7 179.2 L344.6 180.4 L345.5 181.5 L346.4 182.6 L347.3 183.8 L348.2 184.9 L349.1 186.1 L350 187.2 L350.9 188.4 L351.8 189.5 L352.7 190.6 L353.6 191.7 L354.5 192.8 L355.4 193.8 L356.3 194.9 L357.2 195.9 L358.1 196.9 L359 197.9 L359.9 198.8 L360.8 199.7 L361.8 200.6 L362.7 201.5 L363.6 202.3 L364.5 203.1 L365.4 203.8 L366.3 204.6 L367.2 205.2 L368.1 205.9 L369 206.5 L369.9 207.1 L370.8 207.6 L371.7 208.1 L372.6 208.6 L373.5 209 L374.4 209.4" stroke="#a2b3b7"/>
<path d="M254.5 194 L255.4 194.3 L256.2 194.5 L257.1 194.8 L258 195 L258.9 195.1 L259.7 195.3 L260.6 195.4 L261.5 195.4 L262.3 195.5 L263.2 195.5 L264.1 195.5 L264.9 195.4 L265.8 195.3 L266.7 195.2 L267.6 195.1 L268.4 194.9 L269.3 194.7 L270.2 194.5 L271 194.2 L271.9 193.9 L272.8 193.6 L273.7 193.3 L274.5 193 L275.4 192.6 L276.3 192.2 L277.1 191.8 L278 191.4 L278.9 191 L279.8 190.5 L280.6 190 L281.5 189.6 L282.4 189.1 L283.2 188.6 L284.1 188.1 L285 187.7 L285.8 187.2 L286.7 186.7 L287.6 186.3 L288.5 186 L289.3 185.6 L290.2 185.4 L291.1 185.3 L291.9 185.3 L292.8 185.4 L293.7 185.8 L294.6 186.2 L295.4 186.8 L296.3 187.4 L297.2 188.2 L298 189 L298.9 189.9 L299.8 190.9 L300.7 191.9 L301.5 192.9 L302.4 193.9 L303.3 194.9 L304.1 196 L305 197.1 L305.9 198.1 L306.7 199.2 L307.6 200.2 L308.5 201.3 L309.4 202.3 L310.2 203.4 L311.1 204.4 L312 205.4 L312.8 206.4 L313.7 207.3 L314.6 208.3 L315.5 209.2 L316.3 210.1 L317.2 211 L318.1 211.9 L318.9 212.7 L319.8 213.5 L320.7 214.3 L321.6 215.1 L322.4 215.8 L323.3 216.5 L324.2 217.2 L325 217.8 L325.9 218.4 L326.8 219 L327.6 219.5 L328.5 220.1 L329.4 220.5 L330.3 221 L331.1 221.4 L332 221.8" stroke="#a2b3b7"/>
<path d="M214 208.9 L214.8 209.2 L215.7 209.5 L216.5 209.8 L217.3 210 L218.1 210.3 L219 210.5 L219.8 210.6 L220.6 210.8 L221.4 210.9 L222.3 211.1 L223.1 211.2 L223.9 211.2 L224.8 211.3 L225.6 211.3 L226.4 211.3 L227.2 211.3 L228.1 211.3 L228.9 211.2 L229.7 211.2 L230.5 211.1 L231.4 211 L232.2 210.9 L233 210.7 L233.8 210.6 L234.7 210.4 L235.5 210.2 L236.3 210 L237.2 209.8 L238 209.6 L238.8 209.4 L239.6 209.2 L240.5 209 L241.3 208.7 L242.1 208.5 L242.9 208.3 L243.8 208 L244.6 207.8 L245.4 207.7 L246.3 207.5 L247.1 207.4 L247.9 207.4 L248.7 207.4 L249.6 207.5 L250.4 207.8 L251.2 208.2 L252 208.6 L252.9 209.2 L253.7 209.9 L254.5 210.6 L255.3 211.4 L256.2 212.2 L257 213 L257.8 213.9 L258.7 214.7 L259.5 215.6 L260.3 216.5 L261.1 217.4 L262 218.3 L262.8 219.1 L263.6 220 L264.4 220.9 L265.3 221.8 L266.1 222.6 L266.9 223.5 L267.8 224.3 L268.6 225.1 L269.4 225.9 L270.2 226.7 L271.1 227.5 L271.9 228.3 L272.7 229 L273.5 229.8 L274.4 230.5 L275.2 231.2 L276 231.9 L276.8 232.5 L277.7 233.2 L278.5 233.8 L279.3 234.4 L280.2 235 L281 235.6 L281.8 236.1 L282.6 236.6 L283.5 237.1 L284.3 237.6 L285.1 238.1 L285.9 238.5 L286.8 238.9 L287.6 239.3" stroke="#a2b3b7"/>
<path d="M224.6 162.1 L225.5 163.2 L226.3 164.4 L227.1 165.5 L228 166.7 L228.8 167.8 L229.6 169 L230.5 170.2 L231.3 171.4 L232.1 172.6 L233 173.8 L233.8 175.1 L234.6 176.3 L235.4 177.5 L236.3 178.7 L237.1 180 L237.9 181.2 L238.8 182.5 L239.6 183.7 L240.4 184.9 L241.3 186.2 L242.1 187.4 L242.9 188.6 L243.8 189.8 L244.6 190.9 L245.4 192 L246.3 193.1 L247.1 194.1 L247.9 194.9 L248.8 195.6 L249.6 196.1 L250.4 196.4 L251.2 196.3 L252.1 195.8 L252.9 195.2 L253.7 194.4 L254.6 193.5 L255.4 192.5 L256.2 191.5 L257.1 190.5 L257.9 189.5 L258.7 188.5 L259.6 187.4 L260.4 186.4 L261.2 185.4 L262.1 184.4 L262.9 183.5 L263.7 182.5 L264.6 181.6 L265.4 180.7 L266.2 179.8 L267 179 L267.9 178.2 L268.7 177.4 L269.5 176.6" stroke="#a2b3b7"/>
<path d="M371.5 167.5 L372.5 167.7 L373.5 167.9 L374.5 168.1 L375.4 168.2 L376.4 168.3 L377.4 168.3 L378.4 168.3 L379.4 168.2 L380.4 168.1 L381.4 168 L382.3 167.8 L383.3 167.6 L384.3 167.3 L385.3 167.1 L386.3 166.7 L387.3 166.4 L388.3 166 L389.2 165.5 L390.2 165 L391.2 164.5 L392.2 164 L393.2 163.4 L394.2 162.9 L395.1 162.2 L396.1 161.6 L397.1 160.9 L398.1 160.2 L399.1 159.5 L400.1 158.8" stroke="#5c747c"/>
<path d="M430.6 166.7 L431.6 167.9 L432.6 169 L433.6 170.2 L434.6 171.4 L435.6 172.5 L436.5 173.7 L437.5 174.8 L438.5 175.9 L439.5 177 L440.5 178.1 L441.5 179.1 L442.4 180.1 L443.4 181.1 L444.4 182 L445.4 183 L446.4 183.9 L447.4 184.7 L448.4 185.5 L449.3 186.3 L450.3 187 L451.3 187.7 L452.3 188.4 L453.3 189 L454.3 189.6 L455.3 190.2 L456.2 190.7 L457.2 191.1 L458.2 191.5 L459.2 191.9" stroke="#5c747c"/>
<path d="M273.6 187.9 L274.5 188.2 L275.4 188.4 L276.3 188.6 L277.2 188.8 L278.1 188.9 L279 189 L279.9 189.1 L280.8 189.1 L281.7 189.1 L282.6 189.1 L283.5 189 L284.4 188.9 L285.3 188.8 L286.2 188.6 L287 188.4 L287.9 188.2 L288.8 187.9 L289.7 187.6 L290.6 187.3 L291.5 187 L292.4 186.6 L293.3 186.2 L294.2 185.8 L295.1 185.3 L296 184.9 L296.9 184.4 L297.8 183.9 L298.7 183.4 L299.6 182.8 L300.5 182.3 L301.4 181.7 L302.3 181.2 L303.2 180.6 L304.1 180.1 L305 179.5 L305.9 179 L306.8 178.5 L307.7 178.1 L308.6 177.7 L309.5 177.4 L310.4 177.2 L311.3 177.2 L312.2 177.4 L313.1 177.7 L313.9 178.1 L314.8 178.6 L315.7 179.3 L316.6 180 L317.5 180.9 L318.4 181.8 L319.3 182.7 L320.2 183.7 L321.1 184.7 L322 185.8 L322.9 186.9 L323.8 188 L324.7 189.1 L325.6 190.2 L326.5 191.3 L327.4 192.4 L328.3 193.6 L329.2 194.7 L330.1 195.8 L331 196.8 L331.9 197.9 L332.8 199 L333.7 200 L334.6 201 L335.5 202 L336.4 203 L337.3 203.9 L338.2 204.9 L339.1 205.8 L340 206.6 L340.8 207.5 L341.7 208.3 L342.6 209.1 L343.5 209.8 L344.4 210.6 L345.3 211.3 L346.2 211.9 L347.1 212.5 L348 213.1 L348.9 213.7 L349.8 214.2 L350.7 214.7 L351.6 215.2 L352.5 215.6 L353.4 216" stroke="#4e6a66"/>
<path d="M233.9 200.7 L234.7 201 L235.6 201.3 L236.4 201.5 L237.3 201.7 L238.1 201.9 L239 202.1 L239.8 202.2 L240.7 202.3 L241.5 202.3 L242.4 202.4 L243.2 202.4 L244.1 202.3 L244.9 202.3 L245.8 202.2 L246.6 202.1 L247.5 202 L248.3 201.8 L249.1 201.6 L250 201.4 L250.8 201.2 L251.7 200.9 L252.5 200.6 L253.4 200.3 L254.2 200 L255.1 199.7 L255.9 199.3 L256.8 198.9 L257.6 198.5 L258.5 198.1 L259.3 197.7 L260.2 197.3 L261 196.9 L261.9 196.5 L262.7 196.1 L263.6 195.7 L264.4 195.3 L265.2 194.9 L266.1 194.6 L266.9 194.3 L267.8 194.1 L268.6 193.9 L269.5 193.9 L270.3 194.1 L271.2 194.4 L272 194.8 L272.9 195.4 L273.7 196.1 L274.6 196.8 L275.4 197.7 L276.3 198.6 L277.1 199.5 L278 200.5 L278.8 201.5 L279.6 202.5 L280.5 203.5 L281.3 204.6 L282.2 205.6 L283 206.6 L283.9 207.7 L284.7 208.7 L285.6 209.7 L286.4 210.7 L287.3 211.7 L288.1 212.7 L289 213.7 L289.8 214.7 L290.7 215.6 L291.5 216.6 L292.4 217.5 L293.2 218.4 L294.1 219.2 L294.9 220.1 L295.7 220.9 L296.6 221.7 L297.4 222.5 L298.3 223.2 L299.1 224 L300 224.7 L300.8 225.4 L301.7 226 L302.5 226.6 L303.4 227.2 L304.2 227.8 L305.1 228.3 L305.9 228.8 L306.8 229.3 L307.6 229.8 L308.5 230.2 L309.3 230.6" stroke="#8a4558"/>
<path d="M258.4 164.3 L259.3 165.9 L260.1 167.5 L261 169.1 L261.9 170.7 L262.7 172.2 L263.6 173.6 L264.4 174.9 L265.3 176 L266.1 177 L267 177.8 L267.8 178.2 L268.7 178.4 L269.6 178.2 L270.4 177.6 L271.3 176.9 L272.1 175.9 L273 174.8 L273.8 173.6 L274.7 172.4 L275.6 171.1 L276.4 169.8" stroke="#8a4558"/>
</g>
<g clip-path="url(#cpA)" fill="none" stroke-width="3.0" stroke-linecap="round" stroke-linejoin="round">
<path d="M416.6 158.6 L417.6 157.9 L418.7 157.3 L419.7 156.6 L420.7 155.9 L421.7 155.2 L422.7 154.4 L423.7 153.7 L424.7 153 L425.7 152.3 L426.7 151.7 L427.7 151 L428.7 150.5 L429.7 150 L430.7 149.7 L431.7 149.5 L432.7 149.5 L433.7 149.7 L434.7 150.1 L435.7 150.5 L436.8 151 L437.8 151.5 L438.8 152.2 L439.8 152.9 L440.8 153.7 L441.8 154.6 L442.8 155.5 L443.8 156.5 L444.8 157.4 L445.8 158.5 L446.8 159.5 L447.8 160.6 L448.8 161.7 L449.8 162.8 L450.8 163.9 L451.8 165 L452.8 166.1 L453.8 167.2" stroke="#cfc4b8"/>
<path d="M385.5 2 L386.6 4 L387.8 6.1 L388.9 8.3 L390 10.6 L391.1 12.9 L392.3 15.4 L393.4 17.9 L394.5 20.5 L395.7 23.1 L396.8 25.8 L397.9 28.6 L399.1 31.4 L400.2 34.3 L401.3 37.2 L402.4 40.1 L403.6 43 L404.7 46 L405.8 49 L407 51.9 L408.1 54.9 L409.2 57.8 L410.3 60.7 L411.5 63.6 L412.6 66.5 L413.7 69.3 L414.9 72 L416 74.6 L417.1 77.2 L418.2 79.7 L419.4 82.1 L420.5 84.4 L421.6 86.6 L422.8 88.7 L423.9 90.6 L425 92.4 L426.2 94.1 L427.3 95.6 L428.4 97 L429.5 98.2 L430.7 99.2 L431.8 100.1 L432.9 100.8 L434.1 101.3 L435.2 101.7 L436.3 101.8 L437.4 101.8 L438.6 101.4 L439.7 100.8 L440.8 99.9 L442 98.8 L443.1 97.5 L444.2 95.9 L445.3 94.1 L446.5 92.1 L447.6 89.9 L448.7 87.5 L449.9 84.9 L451 82.2 L452.1 79.3 L453.3 76.3 L454.4 73.2 L455.5 70.1 L456.6 66.8 L457.8 63.5 L458.9 60.2 L460 56.9 L461.2 53.6 L462.3 50.2 L463.4 47 L464.5 43.7 L465.7 40.6 L466.8 37.5 L467.9 34.5 L469.1 31.6 L470.2 28.9 L471.3 26.3 L472.4 23.8 L473.6 21.5 L474.7 19.4 L475.8 17.4 L477 15.6 L478.1 14 L479.2 12.7 L480.4 11.5 L481.5 10.6 L482.6 9.8 L483.7 9.3 L484.9 9.1 L486 9" stroke="#cfc4b8"/>
<path d="M382.5 161.8 L383.4 161.2 L384.4 160.5 L385.4 159.8 L386.3 159.2 L387.3 158.5 L388.2 157.9 L389.2 157.3 L390.2 156.9 L391.1 156.5 L392.1 156.2 L393 156.1 L394 156.1 L395 156.4 L395.9 156.7 L396.9 157.2 L397.9 157.7 L398.8 158.4 L399.8 159.1 L400.7 159.9 L401.7 160.8 L402.7 161.7 L403.6 162.6 L404.6 163.7 L405.5 164.7 L406.5 165.8 L407.5 166.9 L408.4 168" stroke="#cfc4b8"/>
<path d="M352.7 18 L353.7 19.9 L354.6 21.9 L355.6 24 L356.6 26.2 L357.6 28.4 L358.5 30.8 L359.5 33.2 L360.5 35.7 L361.5 38.3 L362.4 41 L363.4 43.7 L364.4 46.5 L365.3 49.3 L366.3 52.2 L367.3 55.1 L368.3 58.1 L369.2 61 L370.2 64 L371.2 67 L372.2 70 L373.1 72.9 L374.1 75.8 L375.1 78.7 L376.1 81.6 L377 84.4 L378 87.1 L379 89.7 L379.9 92.2 L380.9 94.6 L381.9 96.9 L382.9 99 L383.8 101.1 L384.8 102.9 L385.8 104.6 L386.8 106.1 L387.7 107.4 L388.7 108.5 L389.7 109.5 L390.6 110.2 L391.6 110.7 L392.6 111 L393.6 111.1 L394.5 110.9 L395.5 110.5 L396.5 109.9 L397.5 109.1 L398.4 108.1 L399.4 106.9 L400.4 105.4 L401.4 103.8 L402.3 102.1 L403.3 100.1 L404.3 98 L405.2 95.8 L406.2 93.5 L407.2 91.1 L408.2 88.6 L409.1 86 L410.1 83.3 L411.1 80.6 L412.1 77.9 L413 75.1 L414 72.3 L415 69.6 L415.9 66.8 L416.9 64.1 L417.9 61.4 L418.9 58.8 L419.8 56.2 L420.8 53.7 L421.8 51.3 L422.8 49 L423.7 46.7 L424.7 44.6 L425.7 42.5 L426.7 40.6 L427.6 38.8 L428.6 37.1 L429.6 35.6 L430.5 34.2 L431.5 33 L432.5 31.8 L433.5 30.9 L434.4 30.1 L435.4 29.5 L436.4 29 L437.4 28.6 L438.3 28.5 L439.3 28.5" stroke="#cfc4b8"/>
<path d="M366 163.1 L366.9 162.5 L367.9 161.9 L368.8 161.3 L369.8 160.8 L370.7 160.3 L371.7 160 L372.6 159.8 L373.5 159.8 L374.5 159.9 L375.4 160.2 L376.4 160.6 L377.3 161.2 L378.2 161.8 L379.2 162.5 L380.1 163.3 L381.1 164.2 L382 165.1 L383 166.1 L383.9 167.1 L384.8 168.2" stroke="#cfc4b8"/>
<path d="M333 29.2 L333.9 31 L334.9 32.8 L335.8 34.7 L336.8 36.7 L337.7 38.8 L338.7 40.9 L339.6 43.1 L340.6 45.3 L341.5 47.6 L342.4 50 L343.4 52.4 L344.3 54.8 L345.3 57.3 L346.2 59.9 L347.2 62.4 L348.1 65 L349 67.6 L350 70.3 L350.9 72.9 L351.9 75.6 L352.8 78.2 L353.8 80.9 L354.7 83.5 L355.7 86.1 L356.6 88.7 L357.5 91.2 L358.5 93.7 L359.4 96.1 L360.4 98.5 L361.3 100.7 L362.3 102.9 L363.2 105 L364.1 107 L365.1 108.8 L366 110.5 L367 112.1 L367.9 113.5 L368.9 114.8 L369.8 115.9 L370.8 116.8 L371.7 117.6 L372.6 118.1 L373.6 118.5 L374.5 118.7 L375.5 118.6 L376.4 118.3 L377.4 117.7 L378.3 116.8 L379.2 115.7 L380.2 114.4 L381.1 112.9 L382.1 111.2 L383 109.3 L384 107.3 L384.9 105.1 L385.9 102.8 L386.8 100.4 L387.7 97.8 L388.7 95.2 L389.6 92.6 L390.6 89.9 L391.5 87.1 L392.5 84.4 L393.4 81.7 L394.3 78.9 L395.3 76.2 L396.2 73.6 L397.2 70.9 L398.1 68.4 L399.1 65.9 L400 63.5 L401 61.1 L401.9 58.9 L402.8 56.8 L403.8 54.8 L404.7 52.9 L405.7 51.1 L406.6 49.4 L407.6 47.9 L408.5 46.5 L409.4 45.3 L410.4 44.2 L411.3 43.3 L412.3 42.5 L413.2 41.9 L414.2 41.4 L415.1 41.1 L416.1 41 L417 41" stroke="#cfc4b8"/>
<path d="M348.9 165.1 L349.8 164.5 L350.7 164 L351.7 163.7 L352.6 163.4 L353.5 163.4 L354.4 163.5 L355.4 163.8 L356.3 164.2 L357.2 164.7 L358.1 165.4 L359.1 166.1 L360 167 L360.9 167.9" stroke="#cfc4b8"/>
<path d="M313.8 42.6 L314.7 44.4 L315.6 46.2 L316.6 48.1 L317.5 50.1 L318.4 52.1 L319.3 54.2 L320.3 56.3 L321.2 58.5 L322.1 60.7 L323 63 L324 65.3 L324.9 67.7 L325.8 70.1 L326.7 72.6 L327.7 75 L328.6 77.6 L329.5 80.1 L330.4 82.6 L331.3 85.2 L332.3 87.8 L333.2 90.4 L334.1 92.9 L335 95.5 L336 98 L336.9 100.5 L337.8 102.9 L338.7 105.3 L339.7 107.7 L340.6 109.9 L341.5 112.1 L342.4 114.2 L343.4 116.1 L344.3 118 L345.2 119.7 L346.1 121.2 L347 122.6 L348 123.8 L348.9 124.8 L349.8 125.6 L350.7 126.2 L351.7 126.6 L352.6 126.8 L353.5 126.7 L354.4 126.4 L355.4 125.8 L356.3 124.9 L357.2 123.9 L358.1 122.6 L359.1 121.2 L360 119.5 L360.9 117.8 L361.8 115.8 L362.8 113.8 L363.7 111.7 L364.6 109.4 L365.5 107.1 L366.4 104.8 L367.4 102.4 L368.3 100 L369.2 97.5 L370.1 95.1 L371.1 92.7 L372 90.3 L372.9 87.9 L373.8 85.5 L374.8 83.2 L375.7 81 L376.6 78.8 L377.5 76.6 L378.5 74.6 L379.4 72.6 L380.3 70.7 L381.2 68.9 L382.1 67.2 L383.1 65.6 L384 64.1 L384.9 62.7 L385.8 61.4 L386.8 60.2 L387.7 59.1 L388.6 58.1 L389.5 57.3 L390.5 56.6 L391.4 56 L392.3 55.5 L393.2 55.2 L394.2 55 L395.1 54.9 L396 55" stroke="#cfc4b8"/>
<path d="M294.1 57.9 L295 59.6 L295.9 61.3 L296.8 63.1 L297.8 64.9 L298.7 66.7 L299.6 68.6 L300.5 70.6 L301.4 72.6 L302.3 74.6 L303.2 76.7 L304.2 78.8 L305.1 80.9 L306 83.1 L306.9 85.3 L307.8 87.5 L308.7 89.8 L309.6 92.1 L310.6 94.4 L311.5 96.7 L312.4 99.1 L313.3 101.4 L314.2 103.7 L315.1 106.1 L316.1 108.4 L317 110.7 L317.9 113 L318.8 115.2 L319.7 117.5 L320.6 119.6 L321.5 121.7 L322.5 123.7 L323.4 125.6 L324.3 127.5 L325.2 129.2 L326.1 130.7 L327 132.1 L327.9 133.4 L328.9 134.5 L329.8 135.4 L330.7 136 L331.6 136.5 L332.5 136.8 L333.4 136.8 L334.3 136.5 L335.3 135.9 L336.2 135.2 L337.1 134.1 L338 132.9 L338.9 131.5 L339.8 130 L340.7 128.3 L341.7 126.5 L342.6 124.6 L343.5 122.6 L344.4 120.5 L345.3 118.5 L346.2 116.3 L347.1 114.2 L348.1 112 L349 109.9 L349.9 107.7 L350.8 105.6 L351.7 103.5 L352.6 101.4 L353.5 99.4 L354.5 97.4 L355.4 95.5 L356.3 93.6 L357.2 91.8 L358.1 90 L359 88.4 L360 86.8 L360.9 85.2 L361.8 83.8 L362.7 82.5 L363.6 81.2 L364.5 80 L365.4 79 L366.4 78 L367.3 77.1 L368.2 76.3 L369.1 75.7 L370 75.1 L370.9 74.7 L371.8 74.3 L372.8 74.1 L373.7 73.9 L374.6 73.9 L375.5 74" stroke="#cfc4b8"/>
<path d="M254.5 95.7 L255.4 97.1 L256.2 98.5 L257.1 99.9 L257.9 101.4 L258.8 102.9 L259.7 104.4 L260.5 105.9 L261.4 107.5 L262.2 109.1 L263.1 110.7 L264 112.3 L264.8 113.9 L265.7 115.6 L266.5 117.3 L267.4 119 L268.3 120.7 L269.1 122.4 L270 124.2 L270.8 126 L271.7 127.8 L272.6 129.6 L273.4 131.4 L274.3 133.2 L275.1 135.1 L276 136.9 L276.8 138.8 L277.7 140.6 L278.6 142.4 L279.4 144.3 L280.3 146.1 L281.1 147.9 L282 149.7 L282.9 151.5 L283.7 153.2 L284.6 154.8 L285.4 156.4 L286.3 157.9 L287.2 159.3 L288 160.5 L288.9 161.6 L289.7 162.4 L290.6 163.1 L291.5 163.5 L292.3 163.6 L293.2 163.2 L294 162.6 L294.9 161.6 L295.8 160.4 L296.6 159.1 L297.5 157.6 L298.3 156 L299.2 154.4 L300.1 152.7 L300.9 150.9 L301.8 149.2 L302.6 147.4 L303.5 145.7 L304.4 144 L305.2 142.2 L306.1 140.5 L306.9 138.8 L307.8 137.2 L308.7 135.6 L309.5 134 L310.4 132.5 L311.2 131 L312.1 129.6 L312.9 128.2 L313.8 126.9 L314.7 125.6 L315.5 124.4 L316.4 123.3 L317.2 122.2 L318.1 121.2 L319 120.2 L319.8 119.4 L320.7 118.6 L321.5 117.8 L322.4 117.2 L323.3 116.6 L324.1 116.1 L325 115.7 L325.8 115.3 L326.7 115.1 L327.6 114.9 L328.4 114.8 L329.3 114.8 L330.1 114.8 L331 115" stroke="#cfc4b8"/>
<path d="M213 147.3 L213.8 148.3 L214.7 149.3 L215.5 150.3 L216.3 151.3 L217.2 152.3 L218 153.4 L218.8 154.4 L219.7 155.5 L220.5 156.5 L221.3 157.6 L222.1 158.7 L223 159.8 L223.8 160.9 L224.6 162.1 L225.5 163.2" stroke="#cfc4b8"/>
<path d="M268.7 177.4 L269.5 176.6 L270.4 175.9 L271.2 175.2 L272 174.6 L272.9 174 L273.7 173.4 L274.5 172.9 L275.4 172.5 L276.2 172 L277 171.7 L277.9 171.3 L278.7 171 L279.5 170.8 L280.3 170.6 L281.2 170.5 L282 170.4 L282.8 170.4 L283.7 170.4 L284.5 170.5 L285.3 170.6 L286.2 170.8 L287 171" stroke="#cfc4b8"/>
<path d="M399.1 159.5 L400.1 158.8 L401.1 158.1 L402 157.3 L403 156.6 L404 155.8 L405 155.1 L406 154.4 L407 153.7 L408 153.1 L408.9 152.5 L409.9 152 L410.9 151.6 L411.9 151.4 L412.9 151.4 L413.9 151.6 L414.9 151.9 L415.8 152.3 L416.8 152.9 L417.8 153.5 L418.8 154.2 L419.8 155 L420.8 155.8 L421.8 156.7 L422.7 157.7 L423.7 158.7 L424.7 159.8 L425.7 160.9 L426.7 162 L427.7 163.2 L428.7 164.3 L429.6 165.5 L430.6 166.7 L431.6 167.9" stroke="#2a2540"/>
<path d="M371.5 9.3 L372.5 11.4 L373.5 13.5 L374.5 15.8 L375.5 18.2 L376.5 20.6 L377.5 23.2 L378.5 25.8 L379.5 28.5 L380.5 31.3 L381.5 34.2 L382.5 37.1 L383.5 40.1 L384.5 43.1 L385.5 46.2 L386.5 49.2 L387.5 52.4 L388.5 55.5 L389.5 58.6 L390.5 61.7 L391.5 64.8 L392.5 67.9 L393.5 70.9 L394.4 73.9 L395.4 76.8 L396.4 79.6 L397.4 82.4 L398.4 85 L399.4 87.5 L400.4 90 L401.4 92.2 L402.4 94.4 L403.4 96.4 L404.4 98.2 L405.4 99.8 L406.4 101.3 L407.4 102.5 L408.4 103.6 L409.4 104.5 L410.4 105.1 L411.4 105.6 L412.4 105.8 L413.4 105.9 L414.4 105.7 L415.4 105.2 L416.4 104.6 L417.4 103.7 L418.4 102.7 L419.4 101.4 L420.4 100 L421.4 98.3 L422.4 96.5 L423.4 94.6 L424.4 92.5 L425.4 90.2 L426.4 87.8 L427.4 85.3 L428.4 82.8 L429.4 80.1 L430.4 77.3 L431.4 74.5 L432.4 71.7 L433.4 68.8 L434.4 65.9 L435.4 63 L436.4 60.1 L437.4 57.2 L438.3 54.4 L439.3 51.6 L440.3 48.9 L441.3 46.2 L442.3 43.6 L443.3 41.1 L444.3 38.6 L445.3 36.3 L446.3 34.1 L447.3 32 L448.3 30.1 L449.3 28.3 L450.3 26.6 L451.3 25.1 L452.3 23.7 L453.3 22.5 L454.3 21.4 L455.3 20.5 L456.3 19.8 L457.3 19.3 L458.3 18.9 L459.3 18.7 L460.3 18.7" stroke="#2a2540"/>
<path d="M274.4 75.5 L275.3 77.1 L276.2 78.7 L277.1 80.3 L277.9 82 L278.8 83.7 L279.7 85.5 L280.6 87.2 L281.5 89.1 L282.4 90.9 L283.3 92.8 L284.2 94.7 L285 96.6 L285.9 98.6 L286.8 100.6 L287.7 102.6 L288.6 104.6 L289.5 106.7 L290.4 108.8 L291.2 110.9 L292.1 113 L293 115.1 L293.9 117.3 L294.8 119.4 L295.7 121.6 L296.6 123.7 L297.4 125.9 L298.3 128 L299.2 130.1 L300.1 132.2 L301 134.2 L301.9 136.2 L302.8 138.2 L303.7 140 L304.5 141.8 L305.4 143.5 L306.3 145.1 L307.2 146.5 L308.1 147.8 L309 148.9 L309.9 149.7 L310.7 150.4 L311.6 150.9 L312.5 151.1 L313.4 151 L314.3 150.5 L315.2 149.8 L316.1 148.8 L317 147.5 L317.8 146.1 L318.7 144.5 L319.6 142.8 L320.5 141 L321.4 139.1 L322.3 137.1 L323.2 135.1 L324 133.1 L324.9 131 L325.8 128.9 L326.7 126.9 L327.6 124.9 L328.5 122.8 L329.4 120.8 L330.3 118.9 L331.1 117 L332 115.1 L332.9 113.3 L333.8 111.5 L334.7 109.8 L335.6 108.1 L336.5 106.6 L337.3 105.1 L338.2 103.6 L339.1 102.3 L340 101 L340.9 99.8 L341.8 98.6 L342.7 97.6 L343.5 96.7 L344.4 95.8 L345.3 95 L346.2 94.4 L347.1 93.8 L348 93.3 L348.9 92.9 L349.8 92.6 L350.6 92.4 L351.5 92.4 L352.4 92.4 L353.3 92.5" stroke="#2d4732"/>
<path d="M233.6 119.7 L234.5 121 L235.3 122.4 L236.2 123.7 L237 125.1 L237.9 126.5 L238.7 127.9 L239.6 129.3 L240.4 130.8 L241.3 132.2 L242.2 133.7 L243 135.2 L243.9 136.7 L244.7 138.2 L245.6 139.8 L246.4 141.4 L247.3 142.9 L248.2 144.5 L249 146.1 L249.9 147.7 L250.7 149.4 L251.6 151 L252.4 152.7 L253.3 154.3 L254.1 156 L255 157.6 L255.9 159.3 L256.7 161 L257.6 162.6 L258.4 164.3 L259.3 165.9" stroke="#e5382e"/>
<path d="M275.6 171.1 L276.4 169.8 L277.3 168.5 L278.1 167.1 L279 165.8 L279.8 164.5 L280.7 163.1 L281.5 161.8 L282.4 160.6 L283.3 159.3 L284.1 158 L285 156.8 L285.8 155.6 L286.7 154.4 L287.5 153.3 L288.4 152.2 L289.3 151.2 L290.1 150.1 L291 149.1 L291.8 148.2 L292.7 147.3 L293.5 146.4 L294.4 145.6 L295.2 144.9 L296.1 144.2 L297 143.5 L297.8 142.9 L298.7 142.3 L299.5 141.8 L300.4 141.4 L301.2 141 L302.1 140.6 L303 140.3 L303.8 140.1 L304.7 139.9 L305.5 139.8 L306.4 139.8 L307.2 139.8 L308.1 139.9 L308.9 140 L309.8 140.2" stroke="#e5382e"/>
</g>
<path d="M183.4 9.5L183.4 232.2L263 270.2M257.8 267.6L481.3 253M178.4 9.5L183.4 9.5M178.4 46.6L183.4 46.6M178.4 83.7L183.4 83.7M178.4 120.9L183.4 120.9M178.4 158L183.4 158M178.4 195.1L183.4 195.1M178.4 232.2L183.4 232.2M177.4 231.6L183.4 232.2M196.4 241L202.4 241.6M213.9 249L219.9 249.6M231.5 257.2L237.5 257.8M251.8 267L257.8 267.6M258 267.6L262.6 269.9M304.7 264.9L309.3 267.2M352 262L356.6 264.3M394 259.6L398.6 261.9M436.5 256.8L441.1 259.1M478 254L482.6 256.3" stroke="#2a2a2a" stroke-width="1.1" fill="none"/>
<text x="126" y="21.6" font-family="Liberation Sans, sans-serif" fill="#111" font-size="19" font-weight="bold">a</text>
<text x="177.0" y="15.7" font-family="Liberation Sans, sans-serif" fill="#111" font-size="15.7" text-anchor="end">3</text>
<text x="177.0" y="52.8" font-family="Liberation Sans, sans-serif" fill="#111" font-size="15.7" text-anchor="end">2.5</text>
<text x="177.0" y="89.9" font-family="Liberation Sans, sans-serif" fill="#111" font-size="15.7" text-anchor="end">2</text>
<text x="177.0" y="127.1" font-family="Liberation Sans, sans-serif" fill="#111" font-size="15.7" text-anchor="end">1.5</text>
<text x="177.0" y="164.2" font-family="Liberation Sans, sans-serif" fill="#111" font-size="15.7" text-anchor="end">1</text>
<text x="177.0" y="201.3" font-family="Liberation Sans, sans-serif" fill="#111" font-size="15.7" text-anchor="end">0.5</text>
<text x="177.0" y="238.4" font-family="Liberation Sans, sans-serif" fill="#111" font-size="15.7" text-anchor="end">0</text>
<text transform="translate(138.0 120.8) rotate(-90)" font-family="Liberation Sans, sans-serif" fill="#111" font-size="18" text-anchor="middle">Frequency (GHz)</text>
<text x="270.7" y="286.3" font-family="Liberation Sans, sans-serif" fill="#111" font-size="14.8" text-anchor="middle">0</text>
<text x="313.9" y="283.9" font-family="Liberation Sans, sans-serif" fill="#111" font-size="14.8" text-anchor="middle">5</text>
<text x="363.9" y="280.7" font-family="Liberation Sans, sans-serif" fill="#111" font-size="14.8" text-anchor="middle">10</text>
<text x="408" y="277.3" font-family="Liberation Sans, sans-serif" fill="#111" font-size="14.8" text-anchor="middle">15</text>
<text x="449.5" y="274.9" font-family="Liberation Sans, sans-serif" fill="#111" font-size="14.8" text-anchor="middle">20</text>
<text x="490.9" y="271.9" font-family="Liberation Sans, sans-serif" fill="#111" font-size="14.8" text-anchor="middle">25</text>
<text x="177.5" y="252.6" font-family="Liberation Sans, sans-serif" fill="#111" font-size="13" font-weight="bold" text-anchor="middle">-π</text>
<text x="205.9" y="264.2" font-family="Liberation Sans, sans-serif" fill="#111" font-size="14.8" text-anchor="middle">0</text>
<text x="251.5" y="283.6" font-family="Liberation Sans, sans-serif" fill="#111" font-size="13.5" font-weight="bold" text-anchor="middle">π</text>
<text transform="translate(205.5 298) rotate(29.4)" font-family="Liberation Sans, sans-serif" fill="#111" font-size="17" text-anchor="middle">kd (rad)</text>
<text transform="translate(398.8 306) rotate(-5.4)" font-family="Liberation Sans, sans-serif" fill="#111" font-size="17.9" text-anchor="middle">Bias Votalge (V)</text>
<defs><clipPath id="cpB"><rect x="58.3" y="353.6" width="264.3" height="172"/></clipPath>
<filter id="blB" x="-2%" y="-2%" width="104%" height="104%"><feGaussianBlur stdDeviation="0.7"/></filter>
<linearGradient id="cbg" x1="0" y1="1" x2="0" y2="0">
<stop offset="0.000" stop-color="#5a4a91"/>
<stop offset="0.042" stop-color="#4f52a9"/>
<stop offset="0.083" stop-color="#465ebf"/>
<stop offset="0.125" stop-color="#406ecf"/>
<stop offset="0.167" stop-color="#4184d9"/>
<stop offset="0.208" stop-color="#469de0"/>
<stop offset="0.250" stop-color="#4fb2de"/>
<stop offset="0.292" stop-color="#59c5d8"/>
<stop offset="0.333" stop-color="#67d0c8"/>
<stop offset="0.375" stop-color="#76d6b5"/>
<stop offset="0.417" stop-color="#8ada9c"/>
<stop offset="0.458" stop-color="#9fdd81"/>
<stop offset="0.500" stop-color="#b6e06b"/>
<stop offset="0.542" stop-color="#cee357"/>
<stop offset="0.583" stop-color="#e1e34b"/>
<stop offset="0.625" stop-color="#f4e240"/>
<stop offset="0.667" stop-color="#f8c83b"/>
<stop offset="0.708" stop-color="#f8a438"/>
<stop offset="0.750" stop-color="#f37a39"/>
<stop offset="0.792" stop-color="#ee5b39"/>
<stop offset="0.833" stop-color="#ea4937"/>
<stop offset="0.875" stop-color="#de4037"/>
<stop offset="0.917" stop-color="#c9413a"/>
<stop offset="0.958" stop-color="#b1423d"/>
<stop offset="1.000" stop-color="#984240"/>
</linearGradient>
<linearGradient id="gapg" gradientUnits="userSpaceOnUse" x1="58.3" y1="0" x2="322.6" y2="0">
<stop offset="0.000" stop-color="#90db95"/>
<stop offset="0.050" stop-color="#90db95"/>
<stop offset="0.100" stop-color="#89da9d"/>
<stop offset="0.150" stop-color="#83d9a4"/>
<stop offset="0.200" stop-color="#7cd8ad"/>
<stop offset="0.250" stop-color="#77d7b4"/>
<stop offset="0.300" stop-color="#72d4bb"/>
<stop offset="0.350" stop-color="#6dd2c1"/>
<stop offset="0.400" stop-color="#67d0c8"/>
<stop offset="0.450" stop-color="#62cdcf"/>
<stop offset="0.500" stop-color="#5ccbd6"/>
<stop offset="0.550" stop-color="#59c6d8"/>
<stop offset="0.600" stop-color="#56c0d9"/>
<stop offset="0.650" stop-color="#53bbdb"/>
<stop offset="0.700" stop-color="#51b5dd"/>
<stop offset="0.750" stop-color="#4babe0"/>
<stop offset="0.800" stop-color="#4594dd"/>
<stop offset="0.850" stop-color="#407bd6"/>
<stop offset="0.900" stop-color="#416bcc"/>
<stop offset="0.950" stop-color="#465fc0"/>
<stop offset="1.000" stop-color="#4c55b1"/>
</linearGradient></defs>
<rect x="58.3" y="353.6" width="264.3" height="172" fill="#5a4a91"/>
<g clip-path="url(#cpB)"><g filter="url(#blB)">
<polygon points="56.3,503.6 59.3,502.1 62.3,500.6 65.3,499.2 68.4,497.8 71.4,496.4 74.4,495.1 77.4,493.7 80.4,492.3 83.4,490.7 86.4,488.9 89.5,486.9 92.5,484.8 95.5,482.7 98.5,480.3 101.5,477.8 104.5,475.4 107.5,473.1 110.6,471.2 113.6,469.5 116.6,468 119.6,466.6 122.6,465.3 125.6,464 128.7,462.7 131.7,461.5 134.7,460.3 137.7,459.2 140.7,458.1 143.7,457 146.7,456 149.8,454.9 152.8,453.8 155.8,452.8 158.8,451.7 161.8,450.7 164.8,449.7 167.8,448.7 170.9,447.7 173.9,446.8 176.9,445.8 179.9,444.8 182.9,443.9 185.9,442.9 188.9,442 192,441.1 195,440.2 198,439.3 201,438.4 204,437.5 207,436.7 210,435.8 213.1,434.9 216.1,434.1 219.1,433.3 222.1,432.5 225.1,431.7 228.1,430.9 231.1,430.1 234.2,429.3 237.2,428.6 240.2,427.8 243.2,427.1 246.2,426.4 249.2,425.7 252.2,425 255.3,424.3 258.3,423.7 261.3,423 264.3,422.4 267.3,421.7 270.3,421.1 273.4,420.5 276.4,419.8 279.4,419.1 282.4,418.5 285.4,417.8 288.4,417.2 291.4,416.5 294.5,415.8 297.5,415.2 300.5,414.5 303.5,413.8 306.5,413.1 309.5,412.5 312.5,411.8 315.6,411.1 318.6,410.4 321.6,409.7 324.6,409 324.6,457.7 321.6,457.8 318.6,457.9 315.6,458 312.5,458.1 309.5,458.2 306.5,458.3 303.5,458.5 300.5,458.6 297.5,458.7 294.5,458.8 291.4,459 288.4,459.1 285.4,459.3 282.4,459.4 279.4,459.6 276.4,459.7 273.4,459.9 270.3,460.1 267.3,460.3 264.3,460.4 261.3,460.6 258.3,460.9 255.3,461.1 252.2,461.3 249.2,461.6 246.2,461.8 243.2,462.1 240.2,462.4 237.2,462.8 234.2,463.1 231.1,463.4 228.1,463.8 225.1,464.2 222.1,464.6 219.1,465 216.1,465.4 213.1,465.8 210,466.3 207,466.8 204,467.2 201,467.7 198,468.2 195,468.8 192,469.3 188.9,469.9 185.9,470.5 182.9,471.1 179.9,471.7 176.9,472.4 173.9,473.1 170.9,473.8 167.8,474.5 164.8,475.3 161.8,476.1 158.8,476.9 155.8,477.8 152.8,478.7 149.8,479.6 146.7,480.5 143.7,481.5 140.7,482.5 137.7,483.5 134.7,484.6 131.7,485.6 128.7,486.8 125.6,487.9 122.6,489.1 119.6,490.4 116.6,491.7 113.6,493 110.6,494.3 107.5,495.6 104.5,496.9 101.5,498.2 98.5,499.5 95.5,500.8 92.5,502 89.5,503.2 86.4,504.4 83.4,505.5 80.4,506.6 77.4,507.6 74.4,508.5 71.4,509.5 68.4,510.6 65.3,511.6 62.3,512.6 59.3,513.7 56.3,514.8" fill="url(#gapg)"/>
<polygon points="56.3,496.3 59.3,493.6 62.3,490.9 65.3,488 68.4,485.2 71.4,482.3 74.4,479.2 77.4,476 80.4,473.1 83.4,470.4 86.4,468 89.5,465.8 92.5,463.5 95.5,461.3 98.5,459 101.5,456.9 104.5,454.7 107.5,452.6 110.6,450.5 113.6,448.5 116.6,446.4 119.6,444.4 122.6,442.4 125.6,440.5 128.7,438.5 131.7,436.6 134.7,434.7 137.7,432.8 140.7,431 143.7,429.1 146.7,427.3 149.8,425.5 152.8,423.7 155.8,421.9 158.8,420.1 161.8,418.3 164.8,416.5 167.8,414.8 170.9,413 173.9,411.3 176.9,409.7 179.9,408 182.9,406.4 185.9,404.8 188.9,403.2 192,401.6 195,400.1 198,398.6 201,397.1 204,395.7 207,394.3 210,393 213.1,391.7 216.1,390.4 219.1,389.1 222.1,387.8 225.1,386.6 228.1,385.3 231.1,384.1 234.2,382.9 237.2,381.6 240.2,380.4 243.2,379.2 246.2,378.1 249.2,376.9 252.2,375.8 255.3,374.6 258.3,373.5 261.3,372.4 264.3,371.3 267.3,370.3 270.3,369.2 273.4,368.1 276.4,367.1 279.4,366 282.4,365 285.4,363.9 288.4,362.9 291.4,361.9 294.5,360.8 297.5,359.8 300.5,358.8 303.5,357.7 306.5,356.7 309.5,355.7 312.5,354.6 315.6,353.6 318.6,352.5 321.6,351.5 324.6,350.4 324.6,420.3 321.6,421 318.6,421.5 315.6,422 312.5,422.5 309.5,423 306.5,423.5 303.5,424 300.5,424.5 297.5,425 294.5,425.5 291.4,426 288.4,426.4 285.4,426.9 282.4,427.3 279.4,427.7 276.4,428.1 273.4,428.5 270.3,428.9 267.3,429.3 264.3,429.6 261.3,430 258.3,430.4 255.3,430.8 252.2,431.2 249.2,431.8 246.2,432.5 243.2,433.1 240.2,433.8 237.2,434.5 234.2,435.2 231.1,435.9 228.1,436.6 225.1,437.3 222.1,438 219.1,438.8 216.1,439.5 213.1,440.3 210,441.1 207,441.9 204,442.7 201,443.5 198,444.3 195,445.1 192,445.9 188.9,446.8 185.9,447.6 182.9,448.4 179.9,449.3 176.9,450.2 173.9,451 170.9,451.9 167.8,452.8 164.8,453.7 161.8,454.6 158.8,455.5 155.8,456.4 152.8,457.4 149.8,458.3 146.7,459.3 143.7,460.3 140.7,461.3 137.7,462.3 134.7,463.3 131.7,464.4 128.7,465.5 125.6,466.7 122.6,467.9 119.6,469.1 116.6,470.4 113.6,471.8 110.6,473.4 107.5,475.2 104.5,477.4 101.5,479.8 98.5,482.2 95.5,484.4 92.5,486.5 89.5,488.5 86.4,490.4 83.4,492.1 80.4,493.7 77.4,495 74.4,496.3 71.4,497.1 68.4,498.3 65.3,499.5 62.3,500.6 59.3,502.1 56.3,503.6" fill="#4f52a9"/>
<polygon points="56.3,513.8 59.3,512.7 62.3,511.7 65.3,510.6 68.4,509.6 71.4,508.5 74.4,507.5 77.4,506.4 80.4,505.4 83.4,504.2 86.4,503 89.5,501.8 92.5,500.5 95.5,499.2 98.5,497.9 101.5,496.5 104.5,495.1 107.5,493.7 110.6,492.3 113.6,491 116.6,489.6 119.6,488.2 122.6,486.9 125.6,485.6 128.7,484.3 131.7,483.1 134.7,482 137.7,480.8 140.7,479.7 143.7,478.6 146.7,477.6 149.8,476.6 152.8,475.6 155.8,474.6 158.8,473.7 161.8,472.8 164.8,471.9 167.8,471 170.9,470.2 173.9,469.4 176.9,468.6 179.9,467.9 182.9,467.1 185.9,466.5 188.9,465.8 192,465.1 195,464.5 198,463.9 201,463.4 204,462.8 207,462.3 210,461.7 213.1,461.2 216.1,460.7 219.1,460.2 222.1,459.8 225.1,459.3 228.1,458.9 231.1,458.5 234.2,458 237.2,457.6 240.2,457.3 243.2,456.9 246.2,456.5 249.2,456.2 252.2,455.9 255.3,455.4 258.3,455 261.3,454.6 264.3,454.1 267.3,453.7 270.3,453.3 273.4,452.9 276.4,452.5 279.4,452.2 282.4,451.8 285.4,451.4 288.4,451.1 291.4,450.8 294.5,450.5 297.5,450.2 300.5,449.9 303.5,449.6 306.5,449.3 309.5,449.1 312.5,448.8 315.6,448.5 318.6,448.3 321.6,448 324.6,447.9 324.6,482.2 321.6,482.5 318.6,482.8 315.6,483.1 312.5,483.4 309.5,483.6 306.5,483.9 303.5,484.2 300.5,484.5 297.5,484.8 294.5,485.1 291.4,485.3 288.4,485.6 285.4,485.9 282.4,486.2 279.4,486.5 276.4,486.8 273.4,487.1 270.3,487.4 267.3,487.7 264.3,488.1 261.3,488.4 258.3,488.7 255.3,489.1 252.2,489.4 249.2,489.7 246.2,490.1 243.2,490.4 240.2,490.8 237.2,491.1 234.2,491.5 231.1,491.9 228.1,492.3 225.1,492.6 222.1,493 219.1,493.4 216.1,493.8 213.1,494.1 210,494.5 207,494.9 204,495.3 201,495.7 198,496.1 195,496.5 192,496.9 188.9,497.3 185.9,497.7 182.9,498.1 179.9,498.5 176.9,498.9 173.9,499.3 170.9,499.7 167.8,500.2 164.8,500.6 161.8,501.1 158.8,501.6 155.8,502.1 152.8,502.6 149.8,503.1 146.7,503.6 143.7,504.2 140.7,504.7 137.7,505.3 134.7,505.9 131.7,506.5 128.7,507.1 125.6,507.7 122.6,508.4 119.6,509.1 116.6,509.8 113.6,510.5 110.6,511.1 107.5,511.7 104.5,512.3 101.5,512.9 98.5,513.5 95.5,514.1 92.5,514.8 89.5,515.4 86.4,516.1 83.4,516.9 80.4,517.7 77.4,518.5 74.4,519.4 71.4,520.3 68.4,521.3 65.3,522.3 62.3,523.3 59.3,524.4 56.3,525.6" fill="#4f52a9"/>
<polygon points="56.3,496.4 59.3,493.8 62.3,491 65.3,488.2 68.4,485.3 71.4,482.4 74.4,479.3 77.4,476.2 80.4,473.2 83.4,470.6 86.4,468.2 89.5,465.9 92.5,463.7 95.5,461.4 98.5,459.2 101.5,457 104.5,454.9 107.5,452.8 110.6,450.7 113.6,448.6 116.6,446.6 119.6,444.6 122.6,442.6 125.6,440.6 128.7,438.6 131.7,436.7 134.7,434.8 137.7,432.9 140.7,431.1 143.7,429.2 146.7,427.4 149.8,425.6 152.8,423.8 155.8,422 158.8,420.2 161.8,418.4 164.8,416.6 167.8,414.9 170.9,413.2 173.9,411.5 176.9,409.8 179.9,408.1 182.9,406.5 185.9,404.9 188.9,403.3 192,401.7 195,400.2 198,398.7 201,397.2 204,395.8 207,394.5 210,393.1 213.1,391.8 216.1,390.5 219.1,389.2 222.1,387.9 225.1,386.7 228.1,385.4 231.1,384.2 234.2,383 237.2,381.8 240.2,380.6 243.2,379.4 246.2,378.2 249.2,377 252.2,375.9 255.3,374.8 258.3,373.7 261.3,372.6 264.3,371.5 267.3,370.4 270.3,369.3 273.4,368.2 276.4,367.2 279.4,366.1 282.4,365.1 285.4,364.1 288.4,363 291.4,362 294.5,361 297.5,360 300.5,358.9 303.5,357.9 306.5,356.9 309.5,355.8 312.5,354.8 315.6,353.7 318.6,352.7 321.6,351.6 324.6,350.6 324.6,421.2 321.6,421.2 318.6,421.7 315.6,422.3 312.5,422.8 309.5,423.3 306.5,423.8 303.5,424.3 300.5,424.8 297.5,425.2 294.5,425.7 291.4,426.2 288.4,426.7 285.4,427.1 282.4,427.5 279.4,427.9 276.4,428.3 273.4,428.7 270.3,429.1 267.3,429.5 264.3,429.9 261.3,430.3 258.3,430.7 255.3,431.1 252.2,431.5 249.2,432.1 246.2,432.7 243.2,433.4 240.2,434.1 237.2,434.7 234.2,435.4 231.1,436.1 228.1,436.8 225.1,437.5 222.1,438.3 219.1,439 216.1,439.8 213.1,440.5 210,441.3 207,442.1 204,442.9 201,443.7 198,444.5 195,445.4 192,446.2 188.9,447 185.9,447.9 182.9,448.7 179.9,449.6 176.9,450.4 173.9,451.3 170.9,452.2 167.8,453.1 164.8,454 161.8,454.9 158.8,455.8 155.8,456.7 152.8,457.6 149.8,458.6 146.7,459.6 143.7,460.5 140.7,461.5 137.7,462.5 134.7,463.6 131.7,464.6 128.7,465.8 125.6,466.9 122.6,468.1 119.6,469.3 116.6,470.7 113.6,472.1 110.6,473.6 107.5,475.5 104.5,477.7 101.5,480 98.5,482.4 95.5,484.7 92.5,486.7 89.5,488.7 86.4,490.6 83.4,492.4 80.4,493.9 77.4,495.2 74.4,496.5 71.4,497.4 68.4,498.5 65.3,499.7 62.3,500.6 59.3,502.1 56.3,503.6" fill="#4858b9"/>
<polygon points="56.3,513.6 59.3,512.5 62.3,511.5 65.3,510.4 68.4,509.4 71.4,508.3 74.4,507.3 77.4,506.2 80.4,505.1 83.4,504 86.4,502.8 89.5,501.6 92.5,500.3 95.5,499 98.5,497.7 101.5,496.3 104.5,494.9 107.5,493.5 110.6,492.1 113.6,490.7 116.6,489.4 119.6,488 122.6,486.7 125.6,485.4 128.7,484.1 131.7,482.9 134.7,481.8 137.7,480.6 140.7,479.5 143.7,478.4 146.7,477.4 149.8,476.4 152.8,475.4 155.8,474.4 158.8,473.5 161.8,472.5 164.8,471.6 167.8,470.8 170.9,469.9 173.9,469.1 176.9,468.4 179.9,467.6 182.9,466.9 185.9,466.2 188.9,465.6 192,464.9 195,464.3 198,463.7 201,463.1 204,462.6 207,462 210,461.5 213.1,461 216.1,460.5 219.1,460 222.1,459.5 225.1,459.1 228.1,458.7 231.1,458.2 234.2,457.8 237.2,457.4 240.2,457 243.2,456.7 246.2,456.3 249.2,456 252.2,455.7 255.3,455.2 258.3,454.8 261.3,454.3 264.3,453.9 267.3,453.5 270.3,453.1 273.4,452.7 276.4,452.3 279.4,451.9 282.4,451.6 285.4,451.2 288.4,450.8 291.4,450.5 294.5,450.2 297.5,450 300.5,449.7 303.5,449.4 306.5,449.1 309.5,448.8 312.5,448.6 315.6,448.3 318.6,448 321.6,447.8 324.6,447.1 324.6,482.2 321.6,482.5 318.6,482.7 315.6,483 312.5,483.3 309.5,483.6 306.5,483.9 303.5,484.2 300.5,484.4 297.5,484.7 294.5,485 291.4,485.3 288.4,485.6 285.4,485.9 282.4,486.2 279.4,486.4 276.4,486.7 273.4,487.1 270.3,487.4 267.3,487.7 264.3,488 261.3,488.3 258.3,488.7 255.3,489 252.2,489.3 249.2,489.7 246.2,490 243.2,490.4 240.2,490.7 237.2,491.1 234.2,491.5 231.1,491.8 228.1,492.2 225.1,492.6 222.1,492.9 219.1,493.3 216.1,493.7 213.1,494.1 210,494.5 207,494.9 204,495.3 201,495.6 198,496 195,496.4 192,496.8 188.9,497.2 185.9,497.6 182.9,498 179.9,498.4 176.9,498.8 173.9,499.2 170.9,499.7 167.8,500.1 164.8,500.6 161.8,501 158.8,501.5 155.8,502 152.8,502.5 149.8,503 146.7,503.5 143.7,504.1 140.7,504.7 137.7,505.2 134.7,505.8 131.7,506.4 128.7,507 125.6,507.7 122.6,508.3 119.6,509 116.6,509.7 113.6,510.4 110.6,511.1 107.5,511.7 104.5,512.3 101.5,512.9 98.5,513.4 95.5,514.1 92.5,514.7 89.5,515.4 86.4,516.1 83.4,516.8 80.4,517.6 77.4,518.4 74.4,519.3 71.4,520.2 68.4,521.2 65.3,522.2 62.3,523.3 59.3,524.4 56.3,525.5" fill="#4858b9"/>
<polygon points="56.3,496.6 59.3,493.9 62.3,491.1 65.3,488.3 68.4,485.5 71.4,482.6 74.4,479.5 77.4,476.3 80.4,473.4 83.4,470.7 86.4,468.3 89.5,466 92.5,463.8 95.5,461.6 98.5,459.3 101.5,457.2 104.5,455 107.5,452.9 110.6,450.8 113.6,448.8 116.6,446.7 119.6,444.7 122.6,442.7 125.6,440.7 128.7,438.8 131.7,436.9 134.7,435 137.7,433.1 140.7,431.2 143.7,429.4 146.7,427.5 149.8,425.7 152.8,423.9 155.8,422.1 158.8,420.3 161.8,418.5 164.8,416.7 167.8,415 170.9,413.3 173.9,411.6 176.9,409.9 179.9,408.3 182.9,406.6 185.9,405 188.9,403.4 192,401.8 195,400.3 198,398.8 201,397.4 204,396 207,394.6 210,393.2 213.1,391.9 216.1,390.6 219.1,389.3 222.1,388.1 225.1,386.8 228.1,385.6 231.1,384.3 234.2,383.1 237.2,381.9 240.2,380.7 243.2,379.5 246.2,378.3 249.2,377.2 252.2,376 255.3,374.9 258.3,373.8 261.3,372.7 264.3,371.6 267.3,370.5 270.3,369.4 273.4,368.4 276.4,367.3 279.4,366.3 282.4,365.2 285.4,364.2 288.4,363.2 291.4,362.2 294.5,361.1 297.5,360.1 300.5,359.1 303.5,358.1 306.5,357 309.5,356 312.5,354.9 315.6,353.9 318.6,352.8 321.6,351.8 324.6,350.7 324.6,420.7 321.6,421.4 318.6,422.1 315.6,422.9 312.5,423.6 309.5,423.5 306.5,424 303.5,424.5 300.5,425 297.5,425.5 294.5,426 291.4,426.5 288.4,426.9 285.4,427.4 282.4,427.8 279.4,428.2 276.4,428.6 273.4,429 270.3,429.4 267.3,429.8 264.3,430.2 261.3,430.5 258.3,430.9 255.3,431.3 252.2,431.7 249.2,432.4 246.2,433 243.2,433.7 240.2,434.3 237.2,435 234.2,435.7 231.1,436.4 228.1,437.1 225.1,437.8 222.1,438.5 219.1,439.3 216.1,440 213.1,440.8 210,441.6 207,442.4 204,443.2 201,444 198,444.8 195,445.6 192,446.5 188.9,447.3 185.9,448.1 182.9,449 179.9,449.8 176.9,450.7 173.9,451.6 170.9,452.4 167.8,453.3 164.8,454.2 161.8,455.1 158.8,456 155.8,457 152.8,457.9 149.8,458.9 146.7,459.8 143.7,460.8 140.7,461.8 137.7,462.8 134.7,463.8 131.7,464.9 128.7,466 125.6,467.2 122.6,468.4 119.6,469.6 116.6,470.9 113.6,472.3 110.6,473.9 107.5,475.7 104.5,477.9 101.5,480.3 98.5,482.7 95.5,484.9 92.5,487 89.5,489 86.4,490.9 83.4,492.6 80.4,494.1 77.4,495.5 74.4,496.7 71.4,497.6 68.4,498.7 65.3,499.9 62.3,500.6 59.3,502.1 56.3,503.6" fill="#4463c4"/>
<polygon points="56.3,513.4 59.3,512.3 62.3,511.3 65.3,510.2 68.4,509.2 71.4,508.1 74.4,507.1 77.4,506 80.4,504.9 83.4,503.8 86.4,502.6 89.5,501.4 92.5,500.1 95.5,498.8 98.5,497.5 101.5,496.1 104.5,494.7 107.5,493.3 110.6,491.9 113.6,490.5 116.6,489.1 119.6,487.8 122.6,486.4 125.6,485.1 128.7,483.9 131.7,482.7 134.7,481.5 137.7,480.4 140.7,479.3 143.7,478.2 146.7,477.2 149.8,476.1 152.8,475.2 155.8,474.2 158.8,473.2 161.8,472.3 164.8,471.4 167.8,470.5 170.9,469.7 173.9,468.9 176.9,468.2 179.9,467.4 182.9,466.7 185.9,466 188.9,465.3 192,464.7 195,464.1 198,463.5 201,462.9 204,462.4 207,461.8 210,461.3 213.1,460.8 216.1,460.3 219.1,459.8 222.1,459.3 225.1,458.9 228.1,458.4 231.1,458 234.2,457.6 237.2,457.2 240.2,456.8 243.2,456.4 246.2,456.1 249.2,455.8 252.2,455.5 255.3,455 258.3,454.6 261.3,454.1 264.3,453.7 267.3,453.3 270.3,452.9 273.4,452.5 276.4,452.1 279.4,451.7 282.4,451.3 285.4,451 288.4,450.6 291.4,450.3 294.5,450 297.5,449.7 300.5,449.4 303.5,449.2 306.5,448.9 309.5,448.6 312.5,447.9 315.6,447.8 318.6,447.7 321.6,447.6 324.6,447.5 324.6,482.1 321.6,482.4 318.6,482.7 315.6,483 312.5,483.2 309.5,483.5 306.5,483.8 303.5,484.1 300.5,484.4 297.5,484.7 294.5,484.9 291.4,485.2 288.4,485.5 285.4,485.8 282.4,486.1 279.4,486.4 276.4,486.7 273.4,487 270.3,487.3 267.3,487.6 264.3,487.9 261.3,488.3 258.3,488.6 255.3,488.9 252.2,489.3 249.2,489.6 246.2,490 243.2,490.3 240.2,490.7 237.2,491 234.2,491.4 231.1,491.8 228.1,492.1 225.1,492.5 222.1,492.9 219.1,493.3 216.1,493.6 213.1,494 210,494.4 207,494.8 204,495.2 201,495.6 198,496 195,496.4 192,496.8 188.9,497.1 185.9,497.5 182.9,497.9 179.9,498.3 176.9,498.7 173.9,499.2 170.9,499.6 167.8,500 164.8,500.5 161.8,501 158.8,501.4 155.8,501.9 152.8,502.4 149.8,503 146.7,503.5 143.7,504 140.7,504.6 137.7,505.2 134.7,505.8 131.7,506.4 128.7,507 125.6,507.6 122.6,508.3 119.6,509 116.6,509.6 113.6,510.3 110.6,511 107.5,511.6 104.5,512.2 101.5,512.8 98.5,513.4 95.5,514 92.5,514.7 89.5,515.3 86.4,516 83.4,516.7 80.4,517.5 77.4,518.4 74.4,519.3 71.4,520.2 68.4,521.1 65.3,522.1 62.3,523.2 59.3,524.3 56.3,525.4" fill="#4463c4"/>
<polygon points="56.3,496.8 59.3,494.1 62.3,491.3 65.3,488.5 68.4,485.6 71.4,482.7 74.4,479.6 77.4,476.5 80.4,473.5 83.4,470.9 86.4,468.5 89.5,466.2 92.5,464 95.5,461.7 98.5,459.5 101.5,457.3 104.5,455.2 107.5,453.1 110.6,451 113.6,448.9 116.6,446.9 119.6,444.8 122.6,442.8 125.6,440.9 128.7,438.9 131.7,437 134.7,435.1 137.7,433.2 140.7,431.4 143.7,429.5 146.7,427.7 149.8,425.9 152.8,424 155.8,422.2 158.8,420.4 161.8,418.6 164.8,416.9 167.8,415.1 170.9,413.4 173.9,411.7 176.9,410 179.9,408.4 182.9,406.7 185.9,405.1 188.9,403.5 192,401.9 195,400.4 198,398.9 201,397.5 204,396.1 207,394.7 210,393.3 213.1,392 216.1,390.7 219.1,389.4 222.1,388.2 225.1,386.9 228.1,385.7 231.1,384.4 234.2,383.2 237.2,382 240.2,380.8 243.2,379.6 246.2,378.5 249.2,377.3 252.2,376.2 255.3,375 258.3,373.9 261.3,372.8 264.3,371.7 267.3,370.7 270.3,369.6 273.4,368.5 276.4,367.5 279.4,366.4 282.4,365.4 285.4,364.4 288.4,363.3 291.4,362.3 294.5,361.3 297.5,360.3 300.5,359.2 303.5,358.2 306.5,357.2 309.5,356.1 312.5,355.1 315.6,354.1 318.6,353 321.6,352 324.6,350.9 324.6,420.2 321.6,420.9 318.6,421.6 315.6,422.4 312.5,423.1 309.5,423.7 306.5,424.4 303.5,425.1 300.5,425.8 297.5,425.7 294.5,426.2 291.4,426.7 288.4,427.2 285.4,427.6 282.4,428 279.4,428.4 276.4,428.8 273.4,429.3 270.3,429.6 267.3,430 264.3,430.4 261.3,430.8 258.3,431.2 255.3,431.6 252.2,432 249.2,432.6 246.2,433.3 243.2,433.9 240.2,434.6 237.2,435.2 234.2,435.9 231.1,436.6 228.1,437.3 225.1,438.1 222.1,438.8 219.1,439.5 216.1,440.3 213.1,441.1 210,441.8 207,442.6 204,443.4 201,444.2 198,445.1 195,445.9 192,446.7 188.9,447.6 185.9,448.4 182.9,449.2 179.9,450.1 176.9,450.9 173.9,451.8 170.9,452.7 167.8,453.6 164.8,454.5 161.8,455.4 158.8,456.3 155.8,457.2 152.8,458.2 149.8,459.1 146.7,460.1 143.7,461.1 140.7,462 137.7,463 134.7,464.1 131.7,465.2 128.7,466.3 125.6,467.4 122.6,468.6 119.6,469.9 116.6,471.2 113.6,472.6 110.6,474.1 107.5,476 104.5,478.2 101.5,480.5 98.5,482.9 95.5,485.2 92.5,487.2 89.5,489.2 86.4,491.1 83.4,492.9 80.4,494.4 77.4,495.7 74.4,496.9 71.4,497.8 68.4,499 65.3,500.2 62.3,500.8 59.3,502.1 56.3,503.6" fill="#406ecf"/>
<polygon points="56.3,513.2 59.3,512.1 62.3,511.1 65.3,510 68.4,509 71.4,507.9 74.4,506.9 77.4,505.8 80.4,504.7 83.4,503.6 86.4,502.4 89.5,501.2 92.5,499.9 95.5,498.6 98.5,497.3 101.5,495.9 104.5,494.5 107.5,493.1 110.6,491.7 113.6,490.3 116.6,488.9 119.6,487.6 122.6,486.2 125.6,484.9 128.7,483.7 131.7,482.5 134.7,481.3 137.7,480.2 140.7,479.1 143.7,478 146.7,476.9 149.8,475.9 152.8,474.9 155.8,474 158.8,473 161.8,472.1 164.8,471.2 167.8,470.3 170.9,469.5 173.9,468.7 176.9,467.9 179.9,467.2 182.9,466.5 185.9,465.8 188.9,465.1 192,464.5 195,463.9 198,463.3 201,462.7 204,462.1 207,461.6 210,461.1 213.1,460.5 216.1,460 219.1,459.6 222.1,459.1 225.1,458.7 228.1,458.2 231.1,457.8 234.2,457.4 237.2,457 240.2,456.6 243.2,456.2 246.2,455.9 249.2,455.5 252.2,455.2 255.3,454.8 258.3,454.3 261.3,453.9 264.3,453.5 267.3,453.1 270.3,452.7 273.4,452.3 276.4,451.9 279.4,451.5 282.4,451.1 285.4,450.7 288.4,450.4 291.4,450.1 294.5,449.8 297.5,449.5 300.5,448.7 303.5,448.6 306.5,448.5 309.5,448.4 312.5,448.3 315.6,448.2 318.6,448.1 321.6,448 324.6,448 324.6,482.1 321.6,482.3 318.6,482.6 315.6,482.9 312.5,483.2 309.5,483.5 306.5,483.7 303.5,484 300.5,484.3 297.5,484.6 294.5,484.9 291.4,485.2 288.4,485.5 285.4,485.7 282.4,486 279.4,486.3 276.4,486.6 273.4,486.9 270.3,487.2 267.3,487.6 264.3,487.9 261.3,488.2 258.3,488.5 255.3,488.9 252.2,489.2 249.2,489.6 246.2,489.9 243.2,490.2 240.2,490.6 237.2,491 234.2,491.3 231.1,491.7 228.1,492.1 225.1,492.4 222.1,492.8 219.1,493.2 216.1,493.6 213.1,494 210,494.3 207,494.7 204,495.1 201,495.5 198,495.9 195,496.3 192,496.7 188.9,497.1 185.9,497.5 182.9,497.9 179.9,498.3 176.9,498.7 173.9,499.1 170.9,499.5 167.8,500 164.8,500.4 161.8,500.9 158.8,501.4 155.8,501.9 152.8,502.4 149.8,502.9 146.7,503.4 143.7,504 140.7,504.5 137.7,505.1 134.7,505.7 131.7,506.3 128.7,506.9 125.6,507.5 122.6,508.2 119.6,508.9 116.6,509.6 113.6,510.3 110.6,510.9 107.5,511.5 104.5,512.1 101.5,512.7 98.5,513.3 95.5,513.9 92.5,514.6 89.5,515.3 86.4,515.9 83.4,516.7 80.4,517.5 77.4,518.3 74.4,519.2 71.4,520.1 68.4,521.1 65.3,522.1 62.3,523.1 59.3,524.2 56.3,525.4" fill="#406ecf"/>
<polygon points="56.3,496.9 59.3,494.3 62.3,491.5 65.3,488.6 68.4,485.8 71.4,482.9 74.4,479.8 77.4,476.6 80.4,473.7 83.4,471 86.4,468.6 89.5,466.4 92.5,464.1 95.5,461.9 98.5,459.6 101.5,457.5 104.5,455.3 107.5,453.2 110.6,451.1 113.6,449.1 116.6,447 119.6,445 122.6,443 125.6,441 128.7,439.1 131.7,437.1 134.7,435.2 137.7,433.4 140.7,431.5 143.7,429.6 146.7,427.8 149.8,426 152.8,424.2 155.8,422.4 158.8,420.6 161.8,418.8 164.8,417 167.8,415.2 170.9,413.5 173.9,411.8 176.9,410.2 179.9,408.5 182.9,406.9 185.9,405.2 188.9,403.6 192,402.1 195,400.5 198,399 201,397.6 204,396.2 207,394.8 210,393.5 213.1,392.1 216.1,390.8 219.1,389.6 222.1,388.3 225.1,387 228.1,385.8 231.1,384.6 234.2,383.3 237.2,382.1 240.2,380.9 243.2,379.8 246.2,378.6 249.2,377.4 252.2,376.3 255.3,375.2 258.3,374.1 261.3,373 264.3,371.9 267.3,370.8 270.3,369.7 273.4,368.7 276.4,367.6 279.4,366.6 282.4,365.5 285.4,364.5 288.4,363.5 291.4,362.5 294.5,361.5 297.5,360.4 300.5,359.4 303.5,358.4 306.5,357.3 309.5,356.3 312.5,355.3 315.6,354.2 318.6,353.2 321.6,352.2 324.6,351.1 324.6,419.7 321.6,420.4 318.6,421.1 315.6,421.8 312.5,422.5 309.5,423.2 306.5,423.9 303.5,424.6 300.5,425.3 297.5,426 294.5,426.7 291.4,427.4 288.4,428 285.4,427.9 282.4,428.3 279.4,428.7 276.4,429.1 273.4,429.5 270.3,429.9 267.3,430.3 264.3,430.7 261.3,431.1 258.3,431.4 255.3,431.8 252.2,432.3 249.2,432.9 246.2,433.5 243.2,434.2 240.2,434.8 237.2,435.5 234.2,436.2 231.1,436.9 228.1,437.6 225.1,438.3 222.1,439 219.1,439.8 216.1,440.5 213.1,441.3 210,442.1 207,442.9 204,443.7 201,444.5 198,445.3 195,446.1 192,447 188.9,447.8 185.9,448.6 182.9,449.5 179.9,450.3 176.9,451.2 173.9,452.1 170.9,453 167.8,453.9 164.8,454.8 161.8,455.7 158.8,456.6 155.8,457.5 152.8,458.4 149.8,459.4 146.7,460.3 143.7,461.3 140.7,462.3 137.7,463.3 134.7,464.3 131.7,465.4 128.7,466.5 125.6,467.7 122.6,468.9 119.6,470.1 116.6,471.4 113.6,472.8 110.6,474.4 107.5,476.2 104.5,478.4 101.5,480.8 98.5,483.2 95.5,485.4 92.5,487.4 89.5,489.4 86.4,491.3 83.4,493.1 80.4,494.6 77.4,495.9 74.4,497.2 71.4,498.1 68.4,499.2 65.3,500.4 62.3,501 59.3,502.1 56.3,503.6" fill="#407bd6"/>
<polygon points="56.3,513 59.3,511.9 62.3,510.9 65.3,509.8 68.4,508.7 71.4,507.7 74.4,506.7 77.4,505.6 80.4,504.5 83.4,503.4 86.4,502.2 89.5,501 92.5,499.7 95.5,498.4 98.5,497 101.5,495.7 104.5,494.2 107.5,492.8 110.6,491.5 113.6,490.1 116.6,488.7 119.6,487.3 122.6,486 125.6,484.7 128.7,483.5 131.7,482.3 134.7,481.1 137.7,479.9 140.7,478.8 143.7,477.7 146.7,476.7 149.8,475.7 152.8,474.7 155.8,473.7 158.8,472.8 161.8,471.9 164.8,471 167.8,470.1 170.9,469.3 173.9,468.5 176.9,467.7 179.9,467 182.9,466.2 185.9,465.6 188.9,464.9 192,464.2 195,463.6 198,463 201,462.5 204,461.9 207,461.4 210,460.8 213.1,460.3 216.1,459.8 219.1,459.3 222.1,458.9 225.1,458.4 228.1,458 231.1,457.6 234.2,457.2 237.2,456.8 240.2,456.4 243.2,456 246.2,455.7 249.2,455.3 252.2,455 255.3,454.6 258.3,454.1 261.3,453.7 264.3,453.3 267.3,452.8 270.3,452.4 273.4,452 276.4,451.7 279.4,451.3 282.4,450.9 285.4,450.5 288.4,449.7 291.4,449.5 294.5,449.4 297.5,449.3 300.5,449.2 303.5,449.1 306.5,449 309.5,448.8 312.5,448.7 315.6,448.7 318.6,448.6 321.6,448.5 324.6,448.4 324.6,482 321.6,482.3 318.6,482.6 315.6,482.8 312.5,483.1 309.5,483.4 306.5,483.7 303.5,484 300.5,484.3 297.5,484.5 294.5,484.8 291.4,485.1 288.4,485.4 285.4,485.7 282.4,486 279.4,486.3 276.4,486.6 273.4,486.9 270.3,487.2 267.3,487.5 264.3,487.8 261.3,488.2 258.3,488.5 255.3,488.8 252.2,489.2 249.2,489.5 246.2,489.8 243.2,490.2 240.2,490.5 237.2,490.9 234.2,491.3 231.1,491.6 228.1,492 225.1,492.4 222.1,492.8 219.1,493.1 216.1,493.5 213.1,493.9 210,494.3 207,494.7 204,495.1 201,495.5 198,495.8 195,496.2 192,496.6 188.9,497 185.9,497.4 182.9,497.8 179.9,498.2 176.9,498.6 173.9,499 170.9,499.5 167.8,499.9 164.8,500.4 161.8,500.8 158.8,501.3 155.8,501.8 152.8,502.3 149.8,502.8 146.7,503.3 143.7,503.9 140.7,504.5 137.7,505 134.7,505.6 131.7,506.2 128.7,506.8 125.6,507.5 122.6,508.1 119.6,508.8 116.6,509.5 113.6,510.2 110.6,510.9 107.5,511.5 104.5,512.1 101.5,512.7 98.5,513.2 95.5,513.9 92.5,514.5 89.5,515.2 86.4,515.9 83.4,516.6 80.4,517.4 77.4,518.2 74.4,519.1 71.4,520 68.4,521 65.3,522 62.3,523.1 59.3,524.2 56.3,525.3" fill="#407bd6"/>
<polygon points="56.3,497.1 59.3,494.4 62.3,491.6 65.3,488.8 68.4,485.9 71.4,483 74.4,479.9 77.4,476.8 80.4,473.8 83.4,471.2 86.4,468.8 89.5,466.5 92.5,464.3 95.5,462 98.5,459.8 101.5,457.6 104.5,455.5 107.5,453.4 110.6,451.3 113.6,449.2 116.6,447.2 119.6,445.1 122.6,443.1 125.6,441.2 128.7,439.2 131.7,437.3 134.7,435.4 137.7,433.5 140.7,431.6 143.7,429.8 146.7,427.9 149.8,426.1 152.8,424.3 155.8,422.5 158.8,420.7 161.8,418.9 164.8,417.1 167.8,415.4 170.9,413.7 173.9,412 176.9,410.3 179.9,408.6 182.9,407 185.9,405.4 188.9,403.8 192,402.2 195,400.7 198,399.2 201,397.7 204,396.3 207,394.9 210,393.6 213.1,392.3 216.1,391 219.1,389.7 222.1,388.4 225.1,387.2 228.1,385.9 231.1,384.7 234.2,383.5 237.2,382.3 240.2,381.1 243.2,379.9 246.2,378.7 249.2,377.6 252.2,376.4 255.3,375.3 258.3,374.2 261.3,373.1 264.3,372 267.3,370.9 270.3,369.9 273.4,368.8 276.4,367.8 279.4,366.7 282.4,365.7 285.4,364.7 288.4,363.7 291.4,362.6 294.5,361.6 297.5,360.6 300.5,359.6 303.5,358.5 306.5,357.5 309.5,356.5 312.5,355.4 315.6,354.4 318.6,353.4 321.6,352.3 324.6,351.3 324.6,419.2 321.6,419.9 318.6,420.6 315.6,421.3 312.5,422 309.5,422.7 306.5,423.4 303.5,424.1 300.5,424.8 297.5,425.5 294.5,426.2 291.4,426.9 288.4,427.5 285.4,428.2 282.4,428.9 279.4,429.5 276.4,429.4 273.4,429.8 270.3,430.2 267.3,430.5 264.3,430.9 261.3,431.3 258.3,431.7 255.3,432.1 252.2,432.5 249.2,433.1 246.2,433.8 243.2,434.4 240.2,435.1 237.2,435.8 234.2,436.4 231.1,437.1 228.1,437.9 225.1,438.6 222.1,439.3 219.1,440 216.1,440.8 213.1,441.6 210,442.4 207,443.1 204,443.9 201,444.8 198,445.6 195,446.4 192,447.2 188.9,448.1 185.9,448.9 182.9,449.8 179.9,450.6 176.9,451.5 173.9,452.3 170.9,453.2 167.8,454.1 164.8,455 161.8,455.9 158.8,456.8 155.8,457.7 152.8,458.7 149.8,459.6 146.7,460.6 143.7,461.6 140.7,462.6 137.7,463.6 134.7,464.6 131.7,465.7 128.7,466.8 125.6,467.9 122.6,469.1 119.6,470.4 116.6,471.7 113.6,473.1 110.6,474.7 107.5,476.5 104.5,478.7 101.5,481 98.5,483.4 95.5,485.6 92.5,487.7 89.5,489.7 86.4,491.6 83.4,493.3 80.4,494.9 77.4,496.2 74.4,497.4 71.4,498.3 68.4,499.4 65.3,500.6 62.3,501.3 59.3,502.1 56.3,503.6" fill="#438cdb"/>
<polygon points="56.3,512.8 59.3,511.7 62.3,510.7 65.3,509.6 68.4,508.5 71.4,507.5 74.4,506.5 77.4,505.4 80.4,504.3 83.4,503.2 86.4,502 89.5,500.7 92.5,499.5 95.5,498.2 98.5,496.8 101.5,495.4 104.5,494 107.5,492.6 110.6,491.2 113.6,489.9 116.6,488.5 119.6,487.1 122.6,485.8 125.6,484.5 128.7,483.2 131.7,482 134.7,480.9 137.7,479.7 140.7,478.6 143.7,477.5 146.7,476.5 149.8,475.5 152.8,474.5 155.8,473.5 158.8,472.6 161.8,471.6 164.8,470.7 167.8,469.9 170.9,469 173.9,468.2 176.9,467.5 179.9,466.7 182.9,466 185.9,465.3 188.9,464.7 192,464 195,463.4 198,462.8 201,462.2 204,461.7 207,461.1 210,460.6 213.1,460.1 216.1,459.6 219.1,459.1 222.1,458.7 225.1,458.2 228.1,457.8 231.1,457.3 234.2,456.9 237.2,456.5 240.2,456.2 243.2,455.8 246.2,455.4 249.2,455.1 252.2,454.8 255.3,454.3 258.3,453.9 261.3,453.5 264.3,453 267.3,452.6 270.3,452.2 273.4,451.8 276.4,451.4 279.4,450.5 282.4,450.4 285.4,450.2 288.4,450.1 291.4,450 294.5,449.9 297.5,449.7 300.5,449.6 303.5,449.5 306.5,449.4 309.5,449.3 312.5,449.2 315.6,449.1 318.6,449 321.6,448.9 324.6,448.8 324.6,481.9 321.6,482.2 318.6,482.5 315.6,482.8 312.5,483.1 309.5,483.3 306.5,483.6 303.5,483.9 300.5,484.2 297.5,484.5 294.5,484.8 291.4,485 288.4,485.3 285.4,485.6 282.4,485.9 279.4,486.2 276.4,486.5 273.4,486.8 270.3,487.1 267.3,487.4 264.3,487.8 261.3,488.1 258.3,488.4 255.3,488.8 252.2,489.1 249.2,489.4 246.2,489.8 243.2,490.1 240.2,490.5 237.2,490.8 234.2,491.2 231.1,491.6 228.1,491.9 225.1,492.3 222.1,492.7 219.1,493.1 216.1,493.4 213.1,493.8 210,494.2 207,494.6 204,495 201,495.4 198,495.8 195,496.2 192,496.5 188.9,496.9 185.9,497.3 182.9,497.7 179.9,498.1 176.9,498.5 173.9,499 170.9,499.4 167.8,499.8 164.8,500.3 161.8,500.8 158.8,501.2 155.8,501.7 152.8,502.2 149.8,502.7 146.7,503.3 143.7,503.8 140.7,504.4 137.7,505 134.7,505.6 131.7,506.2 128.7,506.8 125.6,507.4 122.6,508.1 119.6,508.8 116.6,509.4 113.6,510.1 110.6,510.8 107.5,511.4 104.5,512 101.5,512.6 98.5,513.2 95.5,513.8 92.5,514.4 89.5,515.1 86.4,515.8 83.4,516.5 80.4,517.3 77.4,518.2 74.4,519 71.4,520 68.4,520.9 65.3,521.9 62.3,523 59.3,524.1 56.3,525.2" fill="#438cdb"/>
<polygon points="56.3,497.3 59.3,494.6 62.3,491.8 65.3,488.9 68.4,486.1 71.4,483.2 74.4,480.1 77.4,476.9 80.4,474 83.4,471.4 86.4,469 89.5,466.7 92.5,464.4 95.5,462.2 98.5,460 101.5,457.8 104.5,455.6 107.5,453.5 110.6,451.4 113.6,449.4 116.6,447.3 119.6,445.3 122.6,443.3 125.6,441.3 128.7,439.4 131.7,437.4 134.7,435.5 137.7,433.6 140.7,431.8 143.7,429.9 146.7,428.1 149.8,426.3 152.8,424.4 155.8,422.6 158.8,420.8 161.8,419 164.8,417.3 167.8,415.5 170.9,413.8 173.9,412.1 176.9,410.4 179.9,408.7 182.9,407.1 185.9,405.5 188.9,403.9 192,402.3 195,400.8 198,399.3 201,397.8 204,396.4 207,395.1 210,393.7 213.1,392.4 216.1,391.1 219.1,389.8 222.1,388.6 225.1,387.3 228.1,386.1 231.1,384.8 234.2,383.6 237.2,382.4 240.2,381.2 243.2,380 246.2,378.9 249.2,377.7 252.2,376.6 255.3,375.5 258.3,374.3 261.3,373.3 264.3,372.2 267.3,371.1 270.3,370 273.4,369 276.4,367.9 279.4,366.9 282.4,365.9 285.4,364.8 288.4,363.8 291.4,362.8 294.5,361.8 297.5,360.8 300.5,359.7 303.5,358.7 306.5,357.7 309.5,356.7 312.5,355.6 315.6,354.6 318.6,353.6 321.6,352.5 324.6,351.5 324.6,418.7 321.6,419.4 318.6,420.1 315.6,420.8 312.5,421.5 309.5,422.2 306.5,422.9 303.5,423.6 300.5,424.3 297.5,425 294.5,425.7 291.4,426.3 288.4,427 285.4,427.7 282.4,428.4 279.4,429 276.4,429.7 273.4,430.4 270.3,431 267.3,430.8 264.3,431.2 261.3,431.6 258.3,432 255.3,432.4 252.2,432.8 249.2,433.4 246.2,434 243.2,434.7 240.2,435.3 237.2,436 234.2,436.7 231.1,437.4 228.1,438.1 225.1,438.8 222.1,439.6 219.1,440.3 216.1,441.1 213.1,441.8 210,442.6 207,443.4 204,444.2 201,445 198,445.8 195,446.7 192,447.5 188.9,448.3 185.9,449.2 182.9,450 179.9,450.9 176.9,451.7 173.9,452.6 170.9,453.5 167.8,454.4 164.8,455.3 161.8,456.2 158.8,457.1 155.8,458 152.8,458.9 149.8,459.9 146.7,460.9 143.7,461.8 140.7,462.8 137.7,463.8 134.7,464.8 131.7,465.9 128.7,467 125.6,468.2 122.6,469.4 119.6,470.6 116.6,471.9 113.6,473.3 110.6,474.9 107.5,476.7 104.5,478.9 101.5,481.3 98.5,483.7 95.5,485.9 92.5,487.9 89.5,489.9 86.4,491.8 83.4,493.6 80.4,495.1 77.4,496.4 74.4,497.6 71.4,498.5 68.4,499.7 65.3,500.8 62.3,501.5 59.3,502.1 56.3,503.6" fill="#469de0"/>
<polygon points="56.3,512.6 59.3,511.5 62.3,510.5 65.3,509.4 68.4,508.3 71.4,507.3 74.4,506.2 77.4,505.2 80.4,504.1 83.4,503 86.4,501.8 89.5,500.5 92.5,499.3 95.5,498 98.5,496.6 101.5,495.2 104.5,493.8 107.5,492.4 110.6,491 113.6,489.6 116.6,488.3 119.6,486.9 122.6,485.6 125.6,484.3 128.7,483 131.7,481.8 134.7,480.6 137.7,479.5 140.7,478.4 143.7,477.3 146.7,476.3 149.8,475.2 152.8,474.3 155.8,473.3 158.8,472.3 161.8,471.4 164.8,470.5 167.8,469.6 170.9,468.8 173.9,468 176.9,467.2 179.9,466.5 182.9,465.8 185.9,465.1 188.9,464.4 192,463.8 195,463.2 198,462.6 201,462 204,461.5 207,460.9 210,460.4 213.1,459.9 216.1,459.4 219.1,458.9 222.1,458.4 225.1,458 228.1,457.5 231.1,457.1 234.2,456.7 237.2,456.3 240.2,455.9 243.2,455.6 246.2,455.2 249.2,454.9 252.2,454.6 255.3,454.1 258.3,453.7 261.3,453.2 264.3,452.8 267.3,452.4 270.3,451.5 273.4,451.3 276.4,451.1 279.4,451 282.4,450.8 285.4,450.7 288.4,450.5 291.4,450.4 294.5,450.3 297.5,450.2 300.5,450.1 303.5,449.9 306.5,449.8 309.5,449.7 312.5,449.6 315.6,449.5 318.6,449.4 321.6,449.3 324.6,449.3 324.6,481.9 321.6,482.1 318.6,482.4 315.6,482.7 312.5,483 309.5,483.3 306.5,483.6 303.5,483.8 300.5,484.1 297.5,484.4 294.5,484.7 291.4,485 288.4,485.3 285.4,485.6 282.4,485.8 279.4,486.1 276.4,486.4 273.4,486.7 270.3,487.1 267.3,487.4 264.3,487.7 261.3,488 258.3,488.4 255.3,488.7 252.2,489 249.2,489.4 246.2,489.7 243.2,490.1 240.2,490.4 237.2,490.8 234.2,491.1 231.1,491.5 228.1,491.9 225.1,492.2 222.1,492.6 219.1,493 216.1,493.4 213.1,493.8 210,494.1 207,494.5 204,494.9 201,495.3 198,495.7 195,496.1 192,496.5 188.9,496.9 185.9,497.3 182.9,497.7 179.9,498.1 176.9,498.5 173.9,498.9 170.9,499.3 167.8,499.8 164.8,500.2 161.8,500.7 158.8,501.2 155.8,501.7 152.8,502.2 149.8,502.7 146.7,503.2 143.7,503.7 140.7,504.3 137.7,504.9 134.7,505.5 131.7,506.1 128.7,506.7 125.6,507.3 122.6,508 119.6,508.7 116.6,509.4 113.6,510.1 110.6,510.7 107.5,511.3 104.5,511.9 101.5,512.5 98.5,513.1 95.5,513.7 92.5,514.4 89.5,515 86.4,515.7 83.4,516.5 80.4,517.2 77.4,518.1 74.4,519 71.4,519.9 68.4,520.9 65.3,521.9 62.3,522.9 59.3,524 56.3,525.1" fill="#469de0"/>
<polygon points="56.3,497.4 59.3,494.8 62.3,491.9 65.3,489.1 68.4,486.3 71.4,483.4 74.4,480.2 77.4,477.1 80.4,474.1 83.4,471.5 86.4,469.1 89.5,466.8 92.5,464.6 95.5,462.4 98.5,460.1 101.5,458 104.5,455.8 107.5,453.7 110.6,451.6 113.6,449.5 116.6,447.5 119.6,445.4 122.6,443.4 125.6,441.5 128.7,439.5 131.7,437.6 134.7,435.7 137.7,433.8 140.7,431.9 143.7,430.1 146.7,428.2 149.8,426.4 152.8,424.6 155.8,422.8 158.8,421 161.8,419.2 164.8,417.4 167.8,415.6 170.9,413.9 173.9,412.2 176.9,410.5 179.9,408.9 182.9,407.2 185.9,405.6 188.9,404 192,402.4 195,400.9 198,399.4 201,398 204,396.6 207,395.2 210,393.9 213.1,392.5 216.1,391.2 219.1,390 222.1,388.7 225.1,387.4 228.1,386.2 231.1,385 234.2,383.7 237.2,382.5 240.2,381.4 243.2,380.2 246.2,379 249.2,377.9 252.2,376.7 255.3,375.6 258.3,374.5 261.3,373.4 264.3,372.3 267.3,371.2 270.3,370.2 273.4,369.1 276.4,368.1 279.4,367 282.4,366 285.4,365 288.4,364 291.4,363 294.5,362 297.5,360.9 300.5,359.9 303.5,358.9 306.5,357.9 309.5,356.8 312.5,355.8 315.6,354.8 318.6,353.8 321.6,352.7 324.6,351.7 324.6,418.2 321.6,418.9 318.6,419.6 315.6,420.3 312.5,421 309.5,421.7 306.5,422.4 303.5,423.1 300.5,423.8 297.5,424.5 294.5,425.2 291.4,425.8 288.4,426.5 285.4,427.2 282.4,427.9 279.4,428.5 276.4,429.2 273.4,429.9 270.3,430.5 267.3,431.2 264.3,431.8 261.3,432.4 258.3,432.2 255.3,432.6 252.2,433 249.2,433.6 246.2,434.3 243.2,434.9 240.2,435.6 237.2,436.3 234.2,437 231.1,437.7 228.1,438.4 225.1,439.1 222.1,439.8 219.1,440.6 216.1,441.3 213.1,442.1 210,442.9 207,443.7 204,444.5 201,445.3 198,446.1 195,446.9 192,447.8 188.9,448.6 185.9,449.4 182.9,450.3 179.9,451.1 176.9,452 173.9,452.9 170.9,453.8 167.8,454.6 164.8,455.5 161.8,456.4 158.8,457.3 155.8,458.3 152.8,459.2 149.8,460.2 146.7,461.1 143.7,462.1 140.7,463.1 137.7,464.1 134.7,465.1 131.7,466.2 128.7,467.3 125.6,468.5 122.6,469.6 119.6,470.9 116.6,472.2 113.6,473.6 110.6,475.2 107.5,477 104.5,479.2 101.5,481.5 98.5,483.9 95.5,486.1 92.5,488.2 89.5,490.2 86.4,492.1 83.4,493.8 80.4,495.3 77.4,496.6 74.4,497.9 71.4,498.7 68.4,499.9 65.3,501.1 62.3,501.7 59.3,502.2 56.3,503.6" fill="#4babe0"/>
<polygon points="56.3,512.4 59.3,511.3 62.3,510.3 65.3,509.2 68.4,508.1 71.4,507.1 74.4,506 77.4,505 80.4,503.9 83.4,502.7 86.4,501.6 89.5,500.3 92.5,499 95.5,497.7 98.5,496.4 101.5,495 104.5,493.6 107.5,492.2 110.6,490.8 113.6,489.4 116.6,488 119.6,486.7 122.6,485.3 125.6,484 128.7,482.8 131.7,481.6 134.7,480.4 137.7,479.3 140.7,478.2 143.7,477.1 146.7,476 149.8,475 152.8,474 155.8,473.1 158.8,472.1 161.8,471.2 164.8,470.3 167.8,469.4 170.9,468.6 173.9,467.8 176.9,467 179.9,466.3 182.9,465.6 185.9,464.9 188.9,464.2 192,463.6 195,463 198,462.4 201,461.8 204,461.2 207,460.7 210,460.2 213.1,459.6 216.1,459.1 219.1,458.7 222.1,458.2 225.1,457.8 228.1,457.3 231.1,456.9 234.2,456.5 237.2,456.1 240.2,455.7 243.2,455.3 246.2,455 249.2,454.7 252.2,454.3 255.3,453.9 258.3,453.4 261.3,452.5 264.3,452.3 267.3,452.1 270.3,451.9 273.4,451.7 276.4,451.6 279.4,451.4 282.4,451.3 285.4,451.1 288.4,451 291.4,450.9 294.5,450.7 297.5,450.6 300.5,450.5 303.5,450.4 306.5,450.3 309.5,450.2 312.5,450.1 315.6,450 318.6,449.9 321.6,449.8 324.6,449.7 324.6,481.8 321.6,482.1 318.6,482.4 315.6,482.6 312.5,482.9 309.5,483.2 306.5,483.5 303.5,483.8 300.5,484.1 297.5,484.3 294.5,484.6 291.4,484.9 288.4,485.2 285.4,485.5 282.4,485.8 279.4,486.1 276.4,486.4 273.4,486.7 270.3,487 267.3,487.3 264.3,487.6 261.3,488 258.3,488.3 255.3,488.6 252.2,489 249.2,489.3 246.2,489.6 243.2,490 240.2,490.3 237.2,490.7 234.2,491.1 231.1,491.4 228.1,491.8 225.1,492.2 222.1,492.5 219.1,492.9 216.1,493.3 213.1,493.7 210,494.1 207,494.5 204,494.9 201,495.2 198,495.6 195,496 192,496.4 188.9,496.8 185.9,497.2 182.9,497.6 179.9,498 176.9,498.4 173.9,498.8 170.9,499.3 167.8,499.7 164.8,500.1 161.8,500.6 158.8,501.1 155.8,501.6 152.8,502.1 149.8,502.6 146.7,503.1 143.7,503.7 140.7,504.2 137.7,504.8 134.7,505.4 131.7,506 128.7,506.6 125.6,507.3 122.6,507.9 119.6,508.6 116.6,509.3 113.6,510 110.6,510.6 107.5,511.3 104.5,511.9 101.5,512.4 98.5,513 95.5,513.7 92.5,514.3 89.5,515 86.4,515.7 83.4,516.4 80.4,517.2 77.4,518 74.4,518.9 71.4,519.8 68.4,520.8 65.3,521.8 62.3,522.8 59.3,523.9 56.3,525.1" fill="#4babe0"/>
<polygon points="56.3,497.6 59.3,495 62.3,492.1 65.3,489.3 68.4,486.4 71.4,483.5 74.4,480.4 77.4,477.3 80.4,474.3 83.4,471.7 86.4,469.3 89.5,467 92.5,464.8 95.5,462.5 98.5,460.3 101.5,458.1 104.5,456 107.5,453.9 110.6,451.8 113.6,449.7 116.6,447.6 119.6,445.6 122.6,443.6 125.6,441.6 128.7,439.7 131.7,437.7 134.7,435.8 137.7,433.9 140.7,432.1 143.7,430.2 146.7,428.4 149.8,426.5 152.8,424.7 155.8,422.9 158.8,421.1 161.8,419.3 164.8,417.5 167.8,415.8 170.9,414.1 173.9,412.4 176.9,410.7 179.9,409 182.9,407.4 185.9,405.7 188.9,404.1 192,402.6 195,401 198,399.6 201,398.1 204,396.7 207,395.3 210,394 213.1,392.7 216.1,391.4 219.1,390.1 222.1,388.8 225.1,387.6 228.1,386.3 231.1,385.1 234.2,383.9 237.2,382.7 240.2,381.5 243.2,380.3 246.2,379.2 249.2,378 252.2,376.9 255.3,375.8 258.3,374.6 261.3,373.6 264.3,372.5 267.3,371.4 270.3,370.3 273.4,369.3 276.4,368.2 279.4,367.2 282.4,366.2 285.4,365.2 288.4,364.1 291.4,363.1 294.5,362.1 297.5,361.1 300.5,360.1 303.5,359.1 306.5,358.1 309.5,357 312.5,356 315.6,355 318.6,354 321.6,352.9 324.6,351.9 324.6,417.7 321.6,418.4 318.6,419.1 315.6,419.8 312.5,420.5 309.5,421.2 306.5,421.9 303.5,422.6 300.5,423.3 297.5,424 294.5,424.7 291.4,425.3 288.4,426 285.4,426.7 282.4,427.3 279.4,428 276.4,428.7 273.4,429.3 270.3,430 267.3,430.6 264.3,431.3 261.3,431.9 258.3,432.6 255.3,433.3 252.2,433.9 249.2,433.9 246.2,434.5 243.2,435.2 240.2,435.9 237.2,436.5 234.2,437.2 231.1,437.9 228.1,438.6 225.1,439.3 222.1,440.1 219.1,440.8 216.1,441.6 213.1,442.4 210,443.1 207,443.9 204,444.7 201,445.5 198,446.4 195,447.2 192,448 188.9,448.9 185.9,449.7 182.9,450.5 179.9,451.4 176.9,452.3 173.9,453.1 170.9,454 167.8,454.9 164.8,455.8 161.8,456.7 158.8,457.6 155.8,458.5 152.8,459.5 149.8,460.4 146.7,461.4 143.7,462.3 140.7,463.3 137.7,464.3 134.7,465.4 131.7,466.4 128.7,467.6 125.6,468.7 122.6,469.9 119.6,471.1 116.6,472.4 113.6,473.8 110.6,475.4 107.5,477.2 104.5,479.4 101.5,481.8 98.5,484.2 95.5,486.4 92.5,488.4 89.5,490.4 86.4,492.3 83.4,494 80.4,495.6 77.4,496.9 74.4,498.1 71.4,499 68.4,500.1 65.3,501.3 62.3,501.9 59.3,502.4 56.3,503.6" fill="#52b8dc"/>
<polygon points="56.3,512.2 59.3,511.1 62.3,510.1 65.3,509 68.4,507.9 71.4,506.9 74.4,505.8 77.4,504.8 80.4,503.7 83.4,502.5 86.4,501.3 89.5,500.1 92.5,498.8 95.5,497.5 98.5,496.2 101.5,494.8 104.5,493.4 107.5,492 110.6,490.6 113.6,489.2 116.6,487.8 119.6,486.5 122.6,485.1 125.6,483.8 128.7,482.6 131.7,481.4 134.7,480.2 137.7,479.1 140.7,477.9 143.7,476.9 146.7,475.8 149.8,474.8 152.8,473.8 155.8,472.8 158.8,471.9 161.8,470.9 164.8,470 167.8,469.2 170.9,468.4 173.9,467.6 176.9,466.8 179.9,466.1 182.9,465.3 185.9,464.6 188.9,464 192,463.3 195,462.7 198,462.1 201,461.6 204,461 207,460.5 210,459.9 213.1,459.4 216.1,458.9 219.1,458.4 222.1,458 225.1,457.5 228.1,457.1 231.1,456.7 234.2,456.3 237.2,455.9 240.2,455.5 243.2,455.1 246.2,454.8 249.2,454.4 252.2,453.6 255.3,453.3 258.3,453.1 261.3,452.9 264.3,452.7 267.3,452.5 270.3,452.4 273.4,452.2 276.4,452 279.4,451.9 282.4,451.7 285.4,451.6 288.4,451.4 291.4,451.3 294.5,451.2 297.5,451 300.5,450.9 303.5,450.8 306.5,450.7 309.5,450.6 312.5,450.5 315.6,450.4 318.6,450.3 321.6,450.2 324.6,450.1 324.6,481.7 321.6,482 318.6,482.3 315.6,482.6 312.5,482.9 309.5,483.1 306.5,483.4 303.5,483.7 300.5,484 297.5,484.3 294.5,484.6 291.4,484.8 288.4,485.1 285.4,485.4 282.4,485.7 279.4,486 276.4,486.3 273.4,486.6 270.3,486.9 267.3,487.2 264.3,487.6 261.3,487.9 258.3,488.2 255.3,488.6 252.2,488.9 249.2,489.2 246.2,489.6 243.2,489.9 240.2,490.3 237.2,490.6 234.2,491 231.1,491.4 228.1,491.7 225.1,492.1 222.1,492.5 219.1,492.9 216.1,493.2 213.1,493.6 210,494 207,494.4 204,494.8 201,495.2 198,495.6 195,495.9 192,496.3 188.9,496.7 185.9,497.1 182.9,497.5 179.9,497.9 176.9,498.3 173.9,498.7 170.9,499.2 167.8,499.6 164.8,500.1 161.8,500.5 158.8,501 155.8,501.5 152.8,502 149.8,502.5 146.7,503.1 143.7,503.6 140.7,504.2 137.7,504.7 134.7,505.3 131.7,505.9 128.7,506.5 125.6,507.2 122.6,507.8 119.6,508.5 116.6,509.2 113.6,509.9 110.6,510.6 107.5,511.2 104.5,511.8 101.5,512.4 98.5,513 95.5,513.6 92.5,514.2 89.5,514.9 86.4,515.6 83.4,516.3 80.4,517.1 77.4,517.9 74.4,518.8 71.4,519.8 68.4,520.7 65.3,521.7 62.3,522.8 59.3,523.9 56.3,525" fill="#52b8dc"/>
<polygon points="56.3,497.8 59.3,495.2 62.3,492.3 65.3,489.4 68.4,486.6 71.4,483.7 74.4,480.6 77.4,477.5 80.4,474.5 83.4,471.9 86.4,469.5 89.5,467.2 92.5,465 95.5,462.7 98.5,460.5 101.5,458.3 104.5,456.1 107.5,454 110.6,451.9 113.6,449.9 116.6,447.8 119.6,445.8 122.6,443.8 125.6,441.8 128.7,439.8 131.7,437.9 134.7,436 137.7,434.1 140.7,432.2 143.7,430.4 146.7,428.5 149.8,426.7 152.8,424.9 155.8,423.1 158.8,421.3 161.8,419.5 164.8,417.7 167.8,415.9 170.9,414.2 173.9,412.5 176.9,410.8 179.9,409.2 182.9,407.5 185.9,405.9 188.9,404.3 192,402.7 195,401.2 198,399.7 201,398.2 204,396.8 207,395.5 210,394.1 213.1,392.8 216.1,391.5 219.1,390.2 222.1,389 225.1,387.7 228.1,386.5 231.1,385.2 234.2,384 237.2,382.8 240.2,381.6 243.2,380.5 246.2,379.3 249.2,378.2 252.2,377 255.3,375.9 258.3,374.8 261.3,373.7 264.3,372.6 267.3,371.6 270.3,370.5 273.4,369.4 276.4,368.4 279.4,367.4 282.4,366.3 285.4,365.3 288.4,364.3 291.4,363.3 294.5,362.3 297.5,361.3 300.5,360.3 303.5,359.3 306.5,358.2 309.5,357.2 312.5,356.2 315.6,355.2 318.6,354.2 321.6,353.1 324.6,352.1 324.6,417.2 321.6,417.9 318.6,418.6 315.6,419.3 312.5,420 309.5,420.7 306.5,421.4 303.5,422.1 300.5,422.8 297.5,423.5 294.5,424.2 291.4,424.8 288.4,425.5 285.4,426.2 282.4,426.8 279.4,427.5 276.4,428.2 273.4,428.8 270.3,429.5 267.3,430.1 264.3,430.8 261.3,431.4 258.3,432.1 255.3,432.7 252.2,433.4 249.2,434.1 246.2,434.8 243.2,435.6 240.2,436.3 237.2,437.1 234.2,437.8 231.1,438.6 228.1,439.4 225.1,440.2 222.1,441 219.1,441.1 216.1,441.8 213.1,442.6 210,443.4 207,444.2 204,445 201,445.8 198,446.6 195,447.4 192,448.3 188.9,449.1 185.9,450 182.9,450.8 179.9,451.7 176.9,452.5 173.9,453.4 170.9,454.3 167.8,455.2 164.8,456.1 161.8,457 158.8,457.9 155.8,458.8 152.8,459.7 149.8,460.7 146.7,461.6 143.7,462.6 140.7,463.6 137.7,464.6 134.7,465.6 131.7,466.7 128.7,467.8 125.6,469 122.6,470.1 119.6,471.4 116.6,472.7 113.6,474.1 110.6,475.7 107.5,477.5 104.5,479.7 101.5,482 98.5,484.4 95.5,486.6 92.5,488.7 89.5,490.6 86.4,492.5 83.4,494.3 80.4,495.8 77.4,497.1 74.4,498.3 71.4,499.2 68.4,500.3 65.3,501.5 62.3,502.2 59.3,502.6 56.3,503.8" fill="#59c5d8"/>
<polygon points="56.3,512 59.3,510.9 62.3,509.8 65.3,508.8 68.4,507.7 71.4,506.7 74.4,505.6 77.4,504.6 80.4,503.5 83.4,502.3 86.4,501.1 89.5,499.9 92.5,498.6 95.5,497.3 98.5,496 101.5,494.6 104.5,493.2 107.5,491.7 110.6,490.4 113.6,489 116.6,487.6 119.6,486.2 122.6,484.9 125.6,483.6 128.7,482.4 131.7,481.2 134.7,480 137.7,478.8 140.7,477.7 143.7,476.6 146.7,475.6 149.8,474.6 152.8,473.6 155.8,472.6 158.8,471.6 161.8,470.7 164.8,469.8 167.8,469 170.9,468.1 173.9,467.3 176.9,466.6 179.9,465.8 182.9,465.1 185.9,464.4 188.9,463.8 192,463.1 195,462.5 198,461.9 201,461.3 204,460.8 207,460.2 210,459.7 213.1,459.2 216.1,458.7 219.1,458.2 222.1,457.2 225.1,456.8 228.1,456.4 231.1,456.1 234.2,455.7 237.2,455.4 240.2,455.1 243.2,454.8 246.2,454.5 249.2,454.2 252.2,454 255.3,453.8 258.3,453.6 261.3,453.4 264.3,453.2 267.3,453 270.3,452.8 273.4,452.6 276.4,452.5 279.4,452.3 282.4,452.1 285.4,452 288.4,451.9 291.4,451.7 294.5,451.6 297.5,451.5 300.5,451.4 303.5,451.2 306.5,451.1 309.5,451 312.5,450.9 315.6,450.8 318.6,450.7 321.6,450.6 324.6,450.6 324.6,481.7 321.6,481.9 318.6,482.2 315.6,482.5 312.5,482.8 309.5,483.1 306.5,483.4 303.5,483.6 300.5,483.9 297.5,484.2 294.5,484.5 291.4,484.8 288.4,485.1 285.4,485.3 282.4,485.6 279.4,485.9 276.4,486.2 273.4,486.5 270.3,486.8 267.3,487.2 264.3,487.5 261.3,487.8 258.3,488.1 255.3,488.5 252.2,488.8 249.2,489.2 246.2,489.5 243.2,489.8 240.2,490.2 237.2,490.6 234.2,490.9 231.1,491.3 228.1,491.7 225.1,492 222.1,492.4 219.1,492.8 216.1,493.2 213.1,493.5 210,493.9 207,494.3 204,494.7 201,495.1 198,495.5 195,495.9 192,496.3 188.9,496.6 185.9,497 182.9,497.4 179.9,497.8 176.9,498.2 173.9,498.7 170.9,499.1 167.8,499.5 164.8,500 161.8,500.5 158.8,500.9 155.8,501.4 152.8,501.9 149.8,502.4 146.7,503 143.7,503.5 140.7,504.1 137.7,504.7 134.7,505.3 131.7,505.9 128.7,506.5 125.6,507.1 122.6,507.8 119.6,508.5 116.6,509.1 113.6,509.8 110.6,510.5 107.5,511.1 104.5,511.7 101.5,512.3 98.5,512.9 95.5,513.5 92.5,514.1 89.5,514.8 86.4,515.5 83.4,516.2 80.4,517 77.4,517.9 74.4,518.8 71.4,519.7 68.4,520.6 65.3,521.6 62.3,522.7 59.3,523.8 56.3,524.9" fill="#59c5d8"/>
<polygon points="56.3,498 59.3,495.4 62.3,492.5 65.3,489.6 68.4,486.8 71.4,483.9 74.4,480.8 77.4,477.6 80.4,474.7 83.4,472.1 86.4,469.7 89.5,467.4 92.5,465.1 95.5,462.9 98.5,460.7 101.5,458.5 104.5,456.3 107.5,454.2 110.6,452.1 113.6,450 116.6,448 119.6,445.9 122.6,443.9 125.6,442 128.7,440 131.7,438.1 134.7,436.2 137.7,434.3 140.7,432.4 143.7,430.5 146.7,428.7 149.8,426.9 152.8,425 155.8,423.2 158.8,421.4 161.8,419.6 164.8,417.8 167.8,416.1 170.9,414.3 173.9,412.6 176.9,411 179.9,409.3 182.9,407.7 185.9,406 188.9,404.4 192,402.9 195,401.3 198,399.8 201,398.4 204,397 207,395.6 210,394.3 213.1,392.9 216.1,391.7 219.1,390.4 222.1,389.1 225.1,387.9 228.1,386.6 231.1,385.4 234.2,384.2 237.2,383 240.2,381.8 243.2,380.6 246.2,379.5 249.2,378.3 252.2,377.2 255.3,376.1 258.3,375 261.3,373.9 264.3,372.8 267.3,371.7 270.3,370.7 273.4,369.6 276.4,368.6 279.4,367.5 282.4,366.5 285.4,365.5 288.4,364.5 291.4,363.5 294.5,362.5 297.5,361.5 300.5,360.5 303.5,359.5 306.5,358.4 309.5,357.4 312.5,356.4 315.6,355.4 318.6,354.4 321.6,353.3 324.6,352.3 324.6,416.7 321.6,417.4 318.6,418.1 315.6,418.8 312.5,419.5 309.5,420.2 306.5,420.9 303.5,421.6 300.5,422.3 297.5,423 294.5,423.7 291.4,424.3 288.4,425 285.4,425.7 282.4,426.3 279.4,427 276.4,427.7 273.4,428.3 270.3,429 267.3,429.6 264.3,430.3 261.3,430.9 258.3,431.6 255.3,432.2 252.2,432.9 249.2,433.6 246.2,434.3 243.2,435.1 240.2,435.8 237.2,436.5 234.2,437.3 231.1,438.1 228.1,438.9 225.1,439.7 222.1,440.5 219.1,441.3 216.1,442.1 213.1,443 210,443.8 207,444.7 204,445.6 201,446.5 198,447.4 195,448.3 192,449.2 188.9,449.4 185.9,450.2 182.9,451.1 179.9,451.9 176.9,452.8 173.9,453.7 170.9,454.5 167.8,455.4 164.8,456.3 161.8,457.2 158.8,458.1 155.8,459 152.8,460 149.8,460.9 146.7,461.9 143.7,462.9 140.7,463.8 137.7,464.8 134.7,465.9 131.7,466.9 128.7,468.1 125.6,469.2 122.6,470.4 119.6,471.6 116.6,472.9 113.6,474.3 110.6,475.9 107.5,477.7 104.5,479.9 101.5,482.3 98.5,484.7 95.5,486.9 92.5,488.9 89.5,490.9 86.4,492.8 83.4,494.5 80.4,496 77.4,497.3 74.4,498.6 71.4,499.4 68.4,500.6 65.3,501.7 62.3,502.4 59.3,502.9 56.3,504" fill="#61cdd0"/>
<polygon points="56.3,511.8 59.3,510.7 62.3,509.6 65.3,508.6 68.4,507.5 71.4,506.5 74.4,505.4 77.4,504.4 80.4,503.3 83.4,502.1 86.4,500.9 89.5,499.7 92.5,498.4 95.5,497.1 98.5,495.7 101.5,494.3 104.5,492.9 107.5,491.5 110.6,490.1 113.6,488.8 116.6,487.4 119.6,486 122.6,484.7 125.6,483.4 128.7,482.1 131.7,480.9 134.7,479.8 137.7,478.6 140.7,477.5 143.7,476.4 146.7,475.4 149.8,474.3 152.8,473.4 155.8,472.4 158.8,471.4 161.8,470.5 164.8,469.6 167.8,468.7 170.9,467.9 173.9,467.1 176.9,466.3 179.9,465.6 182.9,464.9 185.9,464.2 188.9,463.5 192,462.3 195,461.8 198,461.3 201,460.8 204,460.3 207,459.8 210,459.3 213.1,458.9 216.1,458.5 219.1,458 222.1,457.6 225.1,457.3 228.1,456.9 231.1,456.5 234.2,456.2 237.2,455.9 240.2,455.5 243.2,455.2 246.2,454.9 249.2,454.7 252.2,454.4 255.3,454.2 258.3,454 261.3,453.8 264.3,453.6 267.3,453.4 270.3,453.2 273.4,453.1 276.4,452.9 279.4,452.7 282.4,452.6 285.4,452.4 288.4,452.3 291.4,452.2 294.5,452 297.5,451.9 300.5,451.8 303.5,451.7 306.5,451.6 309.5,451.5 312.5,451.4 315.6,451.3 318.6,451.2 321.6,451.1 324.6,451 324.6,481.6 321.6,481.9 318.6,482.1 315.6,482.4 312.5,482.7 309.5,483 306.5,483.3 303.5,483.6 300.5,483.8 297.5,484.1 294.5,484.4 291.4,484.7 288.4,485 285.4,485.3 282.4,485.6 279.4,485.9 276.4,486.2 273.4,486.5 270.3,486.8 267.3,487.1 264.3,487.4 261.3,487.7 258.3,488.1 255.3,488.4 252.2,488.7 249.2,489.1 246.2,489.4 243.2,489.8 240.2,490.1 237.2,490.5 234.2,490.9 231.1,491.2 228.1,491.6 225.1,492 222.1,492.3 219.1,492.7 216.1,493.1 213.1,493.5 210,493.9 207,494.2 204,494.6 201,495 198,495.4 195,495.8 192,496.2 188.9,496.6 185.9,497 182.9,497.3 179.9,497.7 176.9,498.2 173.9,498.6 170.9,499 167.8,499.5 164.8,499.9 161.8,500.4 158.8,500.9 155.8,501.4 152.8,501.9 149.8,502.4 146.7,502.9 143.7,503.4 140.7,504 137.7,504.6 134.7,505.2 131.7,505.8 128.7,506.4 125.6,507 122.6,507.7 119.6,508.4 116.6,509.1 113.6,509.7 110.6,510.4 107.5,511 104.5,511.6 101.5,512.2 98.5,512.8 95.5,513.4 92.5,514.1 89.5,514.7 86.4,515.4 83.4,516.2 80.4,516.9 77.4,517.8 74.4,518.7 71.4,519.6 68.4,520.5 65.3,521.6 62.3,522.6 59.3,523.7 56.3,524.8" fill="#61cdd0"/>
<polygon points="56.3,498.3 59.3,495.6 62.3,492.7 65.3,489.8 68.4,487 71.4,484.1 74.4,480.9 77.4,477.8 80.4,474.9 83.4,472.3 86.4,469.8 89.5,467.6 92.5,465.3 95.5,463.1 98.5,460.9 101.5,458.7 104.5,456.5 107.5,454.4 110.6,452.3 113.6,450.2 116.6,448.2 119.6,446.1 122.6,444.1 125.6,442.1 128.7,440.2 131.7,438.2 134.7,436.3 137.7,434.4 140.7,432.6 143.7,430.7 146.7,428.8 149.8,427 152.8,425.2 155.8,423.4 158.8,421.6 161.8,419.8 164.8,418 167.8,416.2 170.9,414.5 173.9,412.8 176.9,411.1 179.9,409.5 182.9,407.8 185.9,406.2 188.9,404.6 192,403 195,401.5 198,400 201,398.5 204,397.1 207,395.8 210,394.4 213.1,393.1 216.1,391.8 219.1,390.5 222.1,389.3 225.1,388 228.1,386.8 231.1,385.6 234.2,384.3 237.2,383.1 240.2,382 243.2,380.8 246.2,379.6 249.2,378.5 252.2,377.4 255.3,376.2 258.3,375.1 261.3,374 264.3,373 267.3,371.9 270.3,370.8 273.4,369.8 276.4,368.8 279.4,367.7 282.4,366.7 285.4,365.7 288.4,364.7 291.4,363.7 294.5,362.7 297.5,361.7 300.5,360.7 303.5,359.7 306.5,358.6 309.5,357.6 312.5,356.6 315.6,355.6 318.6,354.6 321.6,353.6 324.6,352.5 324.6,416.2 321.6,416.9 318.6,417.6 315.6,418.3 312.5,419 309.5,419.7 306.5,420.4 303.5,421.1 300.5,421.8 297.5,422.5 294.5,423.1 291.4,423.8 288.4,424.5 285.4,425.2 282.4,425.8 279.4,426.5 276.4,427.2 273.4,427.8 270.3,428.5 267.3,429.1 264.3,429.8 261.3,430.4 258.3,431.1 255.3,431.7 252.2,432.4 249.2,433.1 246.2,433.8 243.2,434.5 240.2,435.3 237.2,436 234.2,436.8 231.1,437.6 228.1,438.4 225.1,439.1 222.1,440 219.1,440.8 216.1,441.6 213.1,442.5 210,443.3 207,444.2 204,445.1 201,445.9 198,446.8 195,447.7 192,448.7 188.9,449.6 185.9,450.5 182.9,451.5 179.9,452.4 176.9,453.4 173.9,454.4 170.9,455.4 167.8,456.3 164.8,456.6 161.8,457.5 158.8,458.4 155.8,459.3 152.8,460.2 149.8,461.2 146.7,462.2 143.7,463.1 140.7,464.1 137.7,465.1 134.7,466.1 131.7,467.2 128.7,468.3 125.6,469.5 122.6,470.7 119.6,471.9 116.6,473.2 113.6,474.6 110.6,476.2 107.5,478 104.5,480.2 101.5,482.5 98.5,484.9 95.5,487.1 92.5,489.1 89.5,491.1 86.4,493 83.4,494.8 80.4,496.3 77.4,497.6 74.4,498.8 71.4,499.7 68.4,500.8 65.3,502 62.3,502.6 59.3,503.1 56.3,504.2" fill="#6bd2c3"/>
<polygon points="56.3,511.6 59.3,510.5 62.3,509.4 65.3,508.4 68.4,507.3 71.4,506.3 74.4,505.2 77.4,504.2 80.4,503.1 83.4,501.9 86.4,500.7 89.5,499.5 92.5,498.2 95.5,496.9 98.5,495.5 101.5,494.1 104.5,492.7 107.5,491.3 110.6,489.9 113.6,488.5 116.6,487.2 119.6,485.8 122.6,484.4 125.6,483.1 128.7,481.9 131.7,480.7 134.7,479.5 137.7,478.4 140.7,477.3 143.7,476.2 146.7,475.1 149.8,474.1 152.8,473.1 155.8,472.2 158.8,471.2 161.8,470.3 164.8,469.4 167.8,467.9 170.9,467.2 173.9,466.5 176.9,465.8 179.9,465.2 182.9,464.5 185.9,463.9 188.9,463.3 192,462.8 195,462.2 198,461.7 201,461.2 204,460.7 207,460.2 210,459.8 213.1,459.3 216.1,458.9 219.1,458.5 222.1,458.1 225.1,457.7 228.1,457.3 231.1,457 234.2,456.6 237.2,456.3 240.2,456 243.2,455.7 246.2,455.4 249.2,455.1 252.2,454.9 255.3,454.7 258.3,454.4 261.3,454.2 264.3,454 267.3,453.9 270.3,453.7 273.4,453.5 276.4,453.3 279.4,453.2 282.4,453 285.4,452.9 288.4,452.7 291.4,452.6 294.5,452.5 297.5,452.4 300.5,452.2 303.5,452.1 306.5,452 309.5,451.9 312.5,451.8 315.6,451.7 318.6,451.6 321.6,451.5 324.6,451.4 324.6,481.5 321.6,481.8 318.6,482.1 315.6,482.4 312.5,482.6 309.5,482.9 306.5,483.2 303.5,483.5 300.5,483.8 297.5,484.1 294.5,484.3 291.4,484.6 288.4,484.9 285.4,485.2 282.4,485.5 279.4,485.8 276.4,486.1 273.4,486.4 270.3,486.7 267.3,487 264.3,487.3 261.3,487.7 258.3,488 255.3,488.3 252.2,488.7 249.2,489 246.2,489.3 243.2,489.7 240.2,490.1 237.2,490.4 234.2,490.8 231.1,491.1 228.1,491.5 225.1,491.9 222.1,492.3 219.1,492.6 216.1,493 213.1,493.4 210,493.8 207,494.2 204,494.5 201,494.9 198,495.3 195,495.7 192,496.1 188.9,496.5 185.9,496.9 182.9,497.3 179.9,497.7 176.9,498.1 173.9,498.5 170.9,498.9 167.8,499.4 164.8,499.8 161.8,500.3 158.8,500.8 155.8,501.3 152.8,501.8 149.8,502.3 146.7,502.8 143.7,503.4 140.7,503.9 137.7,504.5 134.7,505.1 131.7,505.7 128.7,506.3 125.6,506.9 122.6,507.6 119.6,508.3 116.6,509 113.6,509.7 110.6,510.3 107.5,510.9 104.5,511.5 101.5,512.1 98.5,512.7 95.5,513.3 92.5,514 89.5,514.7 86.4,515.3 83.4,516.1 80.4,516.9 77.4,517.7 74.4,518.6 71.4,519.5 68.4,520.5 65.3,521.5 62.3,522.5 59.3,523.6 56.3,524.7" fill="#6bd2c3"/>
<polygon points="56.3,498.5 59.3,495.8 62.3,492.9 65.3,490 68.4,487.2 71.4,484.3 74.4,481.1 77.4,478 80.4,475.1 83.4,472.4 86.4,470 89.5,467.8 92.5,465.5 95.5,463.3 98.5,461 101.5,458.9 104.5,456.7 107.5,454.6 110.6,452.5 113.6,450.4 116.6,448.3 119.6,446.3 122.6,444.3 125.6,442.3 128.7,440.4 131.7,438.4 134.7,436.5 137.7,434.6 140.7,432.7 143.7,430.9 146.7,429 149.8,427.2 152.8,425.4 155.8,423.5 158.8,421.7 161.8,419.9 164.8,418.1 167.8,416.4 170.9,414.7 173.9,412.9 176.9,411.3 179.9,409.6 182.9,408 185.9,406.3 188.9,404.7 192,403.2 195,401.6 198,400.1 201,398.7 204,397.3 207,395.9 210,394.6 213.1,393.2 216.1,392 219.1,390.7 222.1,389.4 225.1,388.2 228.1,386.9 231.1,385.7 234.2,384.5 237.2,383.3 240.2,382.1 243.2,380.9 246.2,379.8 249.2,378.6 252.2,377.5 255.3,376.4 258.3,375.3 261.3,374.2 264.3,373.1 267.3,372.1 270.3,371 273.4,370 276.4,368.9 279.4,367.9 282.4,366.9 285.4,365.9 288.4,364.9 291.4,363.9 294.5,362.9 297.5,361.9 300.5,360.9 303.5,359.9 306.5,358.9 309.5,357.8 312.5,356.8 315.6,355.8 318.6,354.8 321.6,353.8 324.6,352.8 324.6,415.7 321.6,416.4 318.6,417.1 315.6,417.8 312.5,418.5 309.5,419.2 306.5,419.9 303.5,420.6 300.5,421.3 297.5,422 294.5,422.6 291.4,423.3 288.4,424 285.4,424.7 282.4,425.3 279.4,426 276.4,426.7 273.4,427.3 270.3,428 267.3,428.6 264.3,429.3 261.3,429.9 258.3,430.6 255.3,431.2 252.2,431.9 249.2,432.6 246.2,433.3 243.2,434 240.2,434.8 237.2,435.5 234.2,436.3 231.1,437.1 228.1,437.8 225.1,438.6 222.1,439.4 219.1,440.3 216.1,441.1 213.1,441.9 210,442.8 207,443.7 204,444.5 201,445.4 198,446.3 195,447.2 192,448.1 188.9,449.1 185.9,450 182.9,450.9 179.9,451.9 176.9,452.9 173.9,453.8 170.9,454.8 167.8,455.8 164.8,456.8 161.8,457.8 158.8,458.8 155.8,459.8 152.8,460.9 149.8,461.9 146.7,463 143.7,464 140.7,464.4 137.7,465.4 134.7,466.4 131.7,467.5 128.7,468.6 125.6,469.7 122.6,470.9 119.6,472.1 116.6,473.4 113.6,474.9 110.6,476.4 107.5,478.2 104.5,480.4 101.5,482.8 98.5,485.2 95.5,487.4 92.5,489.4 89.5,491.4 86.4,493.3 83.4,495 80.4,496.5 77.4,497.8 74.4,499 71.4,499.9 68.4,501 65.3,502.2 62.3,502.8 59.3,503.3 56.3,504.4" fill="#75d6b6"/>
<polygon points="56.3,511.4 59.3,510.3 62.3,509.2 65.3,508.2 68.4,507.1 71.4,506.1 74.4,505 77.4,503.9 80.4,502.9 83.4,501.7 86.4,500.5 89.5,499.3 92.5,498 95.5,496.7 98.5,495.3 101.5,493.9 104.5,492.5 107.5,491.1 110.6,489.7 113.6,488.3 116.6,486.9 119.6,485.6 122.6,484.2 125.6,482.9 128.7,481.7 131.7,480.5 134.7,479.3 137.7,478.2 140.7,477 143.7,475.4 146.7,474.4 149.8,473.5 152.8,472.6 155.8,471.7 158.8,470.8 161.8,470 164.8,469.2 167.8,468.4 170.9,467.6 173.9,466.9 176.9,466.3 179.9,465.6 182.9,465 185.9,464.4 188.9,463.8 192,463.2 195,462.7 198,462.2 201,461.7 204,461.2 207,460.7 210,460.2 213.1,459.8 216.1,459.3 219.1,458.9 222.1,458.5 225.1,458.2 228.1,457.8 231.1,457.4 234.2,457.1 237.2,456.7 240.2,456.4 243.2,456.1 246.2,455.8 249.2,455.6 252.2,455.3 255.3,455.1 258.3,454.9 261.3,454.7 264.3,454.5 267.3,454.3 270.3,454.1 273.4,453.9 276.4,453.8 279.4,453.6 282.4,453.5 285.4,453.3 288.4,453.2 291.4,453 294.5,452.9 297.5,452.8 300.5,452.7 303.5,452.6 306.5,452.4 309.5,452.3 312.5,452.2 315.6,452.1 318.6,452 321.6,452 324.6,451.9 324.6,481.4 321.6,481.7 318.6,482 315.6,482.3 312.5,482.6 309.5,482.8 306.5,483.1 303.5,483.4 300.5,483.7 297.5,484 294.5,484.3 291.4,484.5 288.4,484.8 285.4,485.1 282.4,485.4 279.4,485.7 276.4,486 273.4,486.3 270.3,486.6 267.3,486.9 264.3,487.3 261.3,487.6 258.3,487.9 255.3,488.3 252.2,488.6 249.2,488.9 246.2,489.3 243.2,489.6 240.2,490 237.2,490.3 234.2,490.7 231.1,491.1 228.1,491.4 225.1,491.8 222.1,492.2 219.1,492.5 216.1,492.9 213.1,493.3 210,493.7 207,494.1 204,494.5 201,494.9 198,495.2 195,495.6 192,496 188.9,496.4 185.9,496.8 182.9,497.2 179.9,497.6 176.9,498 173.9,498.4 170.9,498.8 167.8,499.3 164.8,499.7 161.8,500.2 158.8,500.7 155.8,501.2 152.8,501.7 149.8,502.2 146.7,502.7 143.7,503.3 140.7,503.8 137.7,504.4 134.7,505 131.7,505.6 128.7,506.2 125.6,506.9 122.6,507.5 119.6,508.2 116.6,508.9 113.6,509.6 110.6,510.2 107.5,510.9 104.5,511.5 101.5,512 98.5,512.6 95.5,513.3 92.5,513.9 89.5,514.6 86.4,515.3 83.4,516 80.4,516.8 77.4,517.6 74.4,518.5 71.4,519.4 68.4,520.4 65.3,521.4 62.3,522.4 59.3,523.5 56.3,524.7" fill="#75d6b6"/>
<polygon points="56.3,498.8 59.3,496.1 62.3,493.1 65.3,490.2 68.4,487.4 71.4,484.5 74.4,481.3 77.4,478.2 80.4,475.3 83.4,472.6 86.4,470.2 89.5,468 92.5,465.7 95.5,463.5 98.5,461.2 101.5,459.1 104.5,456.9 107.5,454.8 110.6,452.7 113.6,450.6 116.6,448.5 119.6,446.5 122.6,444.5 125.6,442.5 128.7,440.5 131.7,438.6 134.7,436.7 137.7,434.8 140.7,432.9 143.7,431 146.7,429.2 149.8,427.4 152.8,425.5 155.8,423.7 158.8,421.9 161.8,420.1 164.8,418.3 167.8,416.6 170.9,414.8 173.9,413.1 176.9,411.4 179.9,409.8 182.9,408.1 185.9,406.5 188.9,404.9 192,403.3 195,401.8 198,400.3 201,398.8 204,397.4 207,396.1 210,394.7 213.1,393.4 216.1,392.1 219.1,390.8 222.1,389.6 225.1,388.3 228.1,387.1 231.1,385.9 234.2,384.7 237.2,383.5 240.2,382.3 243.2,381.1 246.2,380 249.2,378.8 252.2,377.7 255.3,376.6 258.3,375.5 261.3,374.4 264.3,373.3 267.3,372.3 270.3,371.2 273.4,370.2 276.4,369.1 279.4,368.1 282.4,367.1 285.4,366.1 288.4,365.1 291.4,364.1 294.5,363.1 297.5,362.1 300.5,361.1 303.5,360.1 306.5,359.1 309.5,358.1 312.5,357.1 315.6,356 318.6,355 321.6,354 324.6,353 324.6,415.2 321.6,415.9 318.6,416.6 315.6,417.3 312.5,418 309.5,418.7 306.5,419.4 303.5,420.1 300.5,420.8 297.5,421.5 294.5,422.1 291.4,422.8 288.4,423.5 285.4,424.2 282.4,424.8 279.4,425.5 276.4,426.1 273.4,426.8 270.3,427.5 267.3,428.1 264.3,428.7 261.3,429.4 258.3,430 255.3,430.7 252.2,431.4 249.2,432.1 246.2,432.8 243.2,433.5 240.2,434.3 237.2,435 234.2,435.8 231.1,436.5 228.1,437.3 225.1,438.1 222.1,438.9 219.1,439.7 216.1,440.6 213.1,441.4 210,442.3 207,443.1 204,444 201,444.9 198,445.8 195,446.7 192,447.6 188.9,448.5 185.9,449.5 182.9,450.4 179.9,451.4 176.9,452.3 173.9,453.3 170.9,454.3 167.8,455.3 164.8,456.3 161.8,457.3 158.8,458.3 155.8,459.3 152.8,460.3 149.8,461.4 146.7,462.4 143.7,463.5 140.7,464.6 137.7,465.6 134.7,466.8 131.7,467.9 128.7,469.1 125.6,470.4 122.6,471.6 119.6,472.9 116.6,474.3 113.6,475.1 110.6,476.7 107.5,478.5 104.5,480.7 101.5,483 98.5,485.4 95.5,487.6 92.5,489.6 89.5,491.6 86.4,493.5 83.4,495.2 80.4,496.7 77.4,498 74.4,499.3 71.4,500.1 68.4,501.3 65.3,502.4 62.3,503.1 59.3,503.5 56.3,504.7" fill="#81d9a7"/>
<polygon points="56.3,511.2 59.3,510.1 62.3,509 65.3,508 68.4,506.9 71.4,505.9 74.4,504.8 77.4,503.7 80.4,502.6 83.4,501.5 86.4,500.3 89.5,499 92.5,497.8 95.5,496.5 98.5,495.1 101.5,493.7 104.5,492.3 107.5,490.9 110.6,489.5 113.6,488.1 116.6,486.2 119.6,484.9 122.6,483.6 125.6,482.4 128.7,481.2 131.7,480.1 134.7,479 137.7,477.9 140.7,476.9 143.7,475.9 146.7,474.9 149.8,474 152.8,473 155.8,472.1 158.8,471.3 161.8,470.4 164.8,469.6 167.8,468.8 170.9,468.1 173.9,467.4 176.9,466.7 179.9,466.1 182.9,465.4 185.9,464.8 188.9,464.2 192,463.7 195,463.1 198,462.6 201,462.1 204,461.6 207,461.1 210,460.7 213.1,460.2 216.1,459.8 219.1,459.4 222.1,459 225.1,458.6 228.1,458.2 231.1,457.9 234.2,457.5 237.2,457.2 240.2,456.9 243.2,456.6 246.2,456.3 249.2,456 252.2,455.8 255.3,455.5 258.3,455.3 261.3,455.1 264.3,454.9 267.3,454.7 270.3,454.6 273.4,454.4 276.4,454.2 279.4,454.1 282.4,453.9 285.4,453.8 288.4,453.6 291.4,453.5 294.5,453.4 297.5,453.2 300.5,453.1 303.5,453 306.5,452.9 309.5,452.8 312.5,452.7 315.6,452.6 318.6,452.5 321.6,452.4 324.6,452.3 324.6,481.4 321.6,481.6 318.6,481.9 315.6,482.2 312.5,482.5 309.5,482.8 306.5,483 303.5,483.3 300.5,483.6 297.5,483.9 294.5,484.2 291.4,484.5 288.4,484.8 285.4,485 282.4,485.3 279.4,485.6 276.4,485.9 273.4,486.2 270.3,486.5 267.3,486.9 264.3,487.2 261.3,487.5 258.3,487.8 255.3,488.2 252.2,488.5 249.2,488.8 246.2,489.2 243.2,489.5 240.2,489.9 237.2,490.2 234.2,490.6 231.1,491 228.1,491.3 225.1,491.7 222.1,492.1 219.1,492.5 216.1,492.8 213.1,493.2 210,493.6 207,494 204,494.4 201,494.8 198,495.2 195,495.5 192,495.9 188.9,496.3 185.9,496.7 182.9,497.1 179.9,497.5 176.9,497.9 173.9,498.3 170.9,498.8 167.8,499.2 164.8,499.7 161.8,500.1 158.8,500.6 155.8,501.1 152.8,501.6 149.8,502.1 146.7,502.6 143.7,503.2 140.7,503.7 137.7,504.3 134.7,504.9 131.7,505.5 128.7,506.1 125.6,506.8 122.6,507.4 119.6,508.1 116.6,508.8 113.6,509.5 110.6,510.1 107.5,510.8 104.5,511.4 101.5,511.9 98.5,512.5 95.5,513.2 92.5,513.8 89.5,514.5 86.4,515.2 83.4,515.9 80.4,516.7 77.4,517.5 74.4,518.4 71.4,519.3 68.4,520.3 65.3,521.3 62.3,522.3 59.3,523.4 56.3,524.6" fill="#81d9a7"/>
<polygon points="56.3,499 59.3,496.4 62.3,493.3 65.3,490.4 68.4,487.6 71.4,484.7 74.4,481.5 77.4,478.4 80.4,475.5 83.4,472.9 86.4,470.5 89.5,468.2 92.5,465.9 95.5,463.7 98.5,461.5 101.5,459.3 104.5,457.1 107.5,455 110.6,452.9 113.6,450.8 116.6,448.7 119.6,446.7 122.6,444.7 125.6,442.7 128.7,440.7 131.7,438.8 134.7,436.9 137.7,435 140.7,433.1 143.7,431.2 146.7,429.4 149.8,427.5 152.8,425.7 155.8,423.9 158.8,422.1 161.8,420.3 164.8,418.5 167.8,416.7 170.9,415 173.9,413.3 176.9,411.6 179.9,409.9 182.9,408.3 185.9,406.7 188.9,405 192,403.5 195,401.9 198,400.5 201,399 204,397.6 207,396.2 210,394.9 213.1,393.6 216.1,392.3 219.1,391 222.1,389.7 225.1,388.5 228.1,387.3 231.1,386 234.2,384.8 237.2,383.6 240.2,382.5 243.2,381.3 246.2,380.1 249.2,379 252.2,377.9 255.3,376.8 258.3,375.7 261.3,374.6 264.3,373.5 267.3,372.5 270.3,371.4 273.4,370.4 276.4,369.3 279.4,368.3 282.4,367.3 285.4,366.3 288.4,365.3 291.4,364.3 294.5,363.3 297.5,362.3 300.5,361.3 303.5,360.3 306.5,359.3 309.5,358.3 312.5,357.3 315.6,356.3 318.6,355.3 321.6,354.3 324.6,353.3 324.6,414.7 321.6,415.4 318.6,416.1 315.6,416.8 312.5,417.5 309.5,418.2 306.5,418.9 303.5,419.6 300.5,420.3 297.5,421 294.5,421.6 291.4,422.3 288.4,423 285.4,423.6 282.4,424.3 279.4,425 276.4,425.6 273.4,426.3 270.3,426.9 267.3,427.6 264.3,428.2 261.3,428.9 258.3,429.5 255.3,430.2 252.2,430.9 249.2,431.6 246.2,432.3 243.2,433 240.2,433.7 237.2,434.5 234.2,435.3 231.1,436 228.1,436.8 225.1,437.6 222.1,438.4 219.1,439.2 216.1,440.1 213.1,440.9 210,441.8 207,442.6 204,443.5 201,444.4 198,445.3 195,446.2 192,447.1 188.9,448 185.9,449 182.9,449.9 179.9,450.9 176.9,451.8 173.9,452.8 170.9,453.8 167.8,454.8 164.8,455.8 161.8,456.8 158.8,457.8 155.8,458.8 152.8,459.8 149.8,460.9 146.7,461.9 143.7,463 140.7,464 137.7,465.1 134.7,466.2 131.7,467.4 128.7,468.6 125.6,469.8 122.6,471.1 119.6,472.4 116.6,473.8 113.6,475.3 110.6,477 107.5,478.9 104.5,481.1 101.5,483.6 98.5,486 95.5,488.3 92.5,490.4 89.5,492.4 86.4,493.7 83.4,495.5 80.4,497 77.4,498.3 74.4,499.5 71.4,500.4 68.4,501.5 65.3,502.6 62.3,503.3 59.3,503.7 56.3,504.9" fill="#90db95"/>
<polygon points="56.3,511 59.3,509.9 62.3,508.8 65.3,507.8 68.4,506.7 71.4,505.7 74.4,504.6 77.4,503.5 80.4,502.4 83.4,501.3 86.4,500.1 89.5,498.3 92.5,497.1 95.5,495.9 98.5,494.6 101.5,493.2 104.5,491.9 107.5,490.5 110.6,489.2 113.6,487.9 116.6,486.6 119.6,485.3 122.6,484.1 125.6,482.8 128.7,481.7 131.7,480.5 134.7,479.4 137.7,478.4 140.7,477.3 143.7,476.3 146.7,475.3 149.8,474.4 152.8,473.5 155.8,472.6 158.8,471.7 161.8,470.9 164.8,470.1 167.8,469.3 170.9,468.6 173.9,467.8 176.9,467.2 179.9,466.5 182.9,465.9 185.9,465.3 188.9,464.7 192,464.1 195,463.6 198,463.1 201,462.6 204,462.1 207,461.6 210,461.1 213.1,460.7 216.1,460.2 219.1,459.8 222.1,459.4 225.1,459 228.1,458.7 231.1,458.3 234.2,458 237.2,457.6 240.2,457.3 243.2,457 246.2,456.7 249.2,456.5 252.2,456.2 255.3,456 258.3,455.8 261.3,455.6 264.3,455.4 267.3,455.2 270.3,455 273.4,454.8 276.4,454.7 279.4,454.5 282.4,454.3 285.4,454.2 288.4,454.1 291.4,453.9 294.5,453.8 297.5,453.7 300.5,453.5 303.5,453.4 306.5,453.3 309.5,453.2 312.5,453.1 315.6,453 318.6,452.9 321.6,452.8 324.6,452.7 324.6,481.3 321.6,481.6 318.6,481.8 315.6,482.1 312.5,482.4 309.5,482.7 306.5,483 303.5,483.2 300.5,483.5 297.5,483.8 294.5,484.1 291.4,484.4 288.4,484.7 285.4,485 282.4,485.2 279.4,485.5 276.4,485.8 273.4,486.1 270.3,486.5 267.3,486.8 264.3,487.1 261.3,487.4 258.3,487.8 255.3,488.1 252.2,488.4 249.2,488.8 246.2,489.1 243.2,489.5 240.2,489.8 237.2,490.2 234.2,490.5 231.1,490.9 228.1,491.3 225.1,491.6 222.1,492 219.1,492.4 216.1,492.8 213.1,493.1 210,493.5 207,493.9 204,494.3 201,494.7 198,495.1 195,495.5 192,495.8 188.9,496.2 185.9,496.6 182.9,497 179.9,497.4 176.9,497.8 173.9,498.2 170.9,498.7 167.8,499.1 164.8,499.6 161.8,500 158.8,500.5 155.8,501 152.8,501.5 149.8,502 146.7,502.5 143.7,503.1 140.7,503.7 137.7,504.2 134.7,504.8 131.7,505.4 128.7,506 125.6,506.7 122.6,507.3 119.6,508 116.6,508.7 113.6,509.4 110.6,510.1 107.5,510.7 104.5,511.3 101.5,511.9 98.5,512.4 95.5,513.1 92.5,513.7 89.5,514.4 86.4,515.1 83.4,515.8 80.4,516.6 77.4,517.4 74.4,518.3 71.4,519.2 68.4,520.2 65.3,521.2 62.3,522.2 59.3,523.3 56.3,524.5" fill="#90db95"/>
<polygon points="56.3,499.3 59.3,496.6 62.3,493.6 65.3,490.6 68.4,487.8 71.4,484.9 74.4,481.7 77.4,478.6 80.4,475.7 83.4,473.1 86.4,470.7 89.5,468.4 92.5,466.2 95.5,463.9 98.5,461.7 101.5,459.5 104.5,457.3 107.5,455.2 110.6,453.1 113.6,451 116.6,448.9 119.6,446.9 122.6,444.9 125.6,442.9 128.7,440.9 131.7,439 134.7,437.1 137.7,435.2 140.7,433.3 143.7,431.4 146.7,429.6 149.8,427.7 152.8,425.9 155.8,424.1 158.8,422.2 161.8,420.4 164.8,418.7 167.8,416.9 170.9,415.2 173.9,413.5 176.9,411.8 179.9,410.1 182.9,408.5 185.9,406.8 188.9,405.2 192,403.6 195,402.1 198,400.6 201,399.2 204,397.8 207,396.4 210,395.1 213.1,393.7 216.1,392.4 219.1,391.2 222.1,389.9 225.1,388.7 228.1,387.4 231.1,386.2 234.2,385 237.2,383.8 240.2,382.6 243.2,381.5 246.2,380.3 249.2,379.2 252.2,378.1 255.3,377 258.3,375.9 261.3,374.8 264.3,373.7 267.3,372.7 270.3,371.6 273.4,370.6 276.4,369.5 279.4,368.5 282.4,367.5 285.4,366.5 288.4,365.5 291.4,364.5 294.5,363.5 297.5,362.5 300.5,361.5 303.5,360.5 306.5,359.5 309.5,358.5 312.5,357.5 315.6,356.5 318.6,355.5 321.6,354.5 324.6,353.5 324.6,414.2 321.6,414.9 318.6,415.6 315.6,416.3 312.5,417 309.5,417.7 306.5,418.4 303.5,419.1 300.5,419.8 297.5,420.5 294.5,421.1 291.4,421.8 288.4,422.5 285.4,423.1 282.4,423.8 279.4,424.5 276.4,425.1 273.4,425.8 270.3,426.4 267.3,427.1 264.3,427.7 261.3,428.4 258.3,429 255.3,429.7 252.2,430.4 249.2,431.1 246.2,431.8 243.2,432.5 240.2,433.2 237.2,434 234.2,434.7 231.1,435.5 228.1,436.3 225.1,437.1 222.1,437.9 219.1,438.7 216.1,439.5 213.1,440.4 210,441.2 207,442.1 204,443 201,443.9 198,444.8 195,445.7 192,446.6 188.9,447.5 185.9,448.4 182.9,449.4 179.9,450.3 176.9,451.3 173.9,452.3 170.9,453.3 167.8,454.2 164.8,455.2 161.8,456.2 158.8,457.3 155.8,458.3 152.8,459.3 149.8,460.3 146.7,461.4 143.7,462.5 140.7,463.5 137.7,464.6 134.7,465.7 131.7,466.9 128.7,468.1 125.6,469.3 122.6,470.6 119.6,471.9 116.6,473.3 113.6,474.8 110.6,476.5 107.5,478.4 104.5,480.6 101.5,483.1 98.5,485.5 95.5,487.8 92.5,489.9 89.5,491.9 86.4,493.9 83.4,495.7 80.4,497.3 77.4,498.6 74.4,499.9 71.4,500.8 68.4,502 65.3,503.1 62.3,503.8 59.3,504.2 56.3,505.4" fill="#9edd83"/>
<polygon points="56.3,510.6 59.3,509.5 62.3,508.4 65.3,507.3 68.4,506.3 71.4,505.2 74.4,504.2 77.4,503.2 80.4,502.2 83.4,501.1 86.4,499.9 89.5,498.8 92.5,497.5 95.5,496.3 98.5,495 101.5,493.7 104.5,492.3 107.5,491 110.6,489.7 113.6,488.4 116.6,487.1 119.6,485.8 122.6,484.5 125.6,483.3 128.7,482.1 131.7,481 134.7,479.9 137.7,478.8 140.7,477.8 143.7,476.8 146.7,475.8 149.8,474.9 152.8,473.9 155.8,473.1 158.8,472.2 161.8,471.3 164.8,470.5 167.8,469.8 170.9,469 173.9,468.3 176.9,467.6 179.9,467 182.9,466.3 185.9,465.7 188.9,465.2 192,464.6 195,464 198,463.5 201,463 204,462.5 207,462 210,461.6 213.1,461.1 216.1,460.7 219.1,460.3 222.1,459.9 225.1,459.5 228.1,459.1 231.1,458.8 234.2,458.4 237.2,458.1 240.2,457.8 243.2,457.5 246.2,457.2 249.2,456.9 252.2,456.7 255.3,456.4 258.3,456.2 261.3,456 264.3,455.8 267.3,455.6 270.3,455.4 273.4,455.3 276.4,455.1 279.4,454.9 282.4,454.8 285.4,454.6 288.4,454.5 291.4,454.4 294.5,454.2 297.5,454.1 300.5,454 303.5,453.9 306.5,453.8 309.5,453.6 312.5,453.5 315.6,453.4 318.6,453.3 321.6,453.3 324.6,453.2 324.6,481.2 321.6,481.5 318.6,481.7 315.6,482 312.5,482.3 309.5,482.6 306.5,482.9 303.5,483.2 300.5,483.4 297.5,483.7 294.5,484 291.4,484.3 288.4,484.6 285.4,484.9 282.4,485.2 279.4,485.5 276.4,485.8 273.4,486.1 270.3,486.4 267.3,486.7 264.3,487 261.3,487.3 258.3,487.7 255.3,488 252.2,488.3 249.2,488.7 246.2,489 243.2,489.4 240.2,489.7 237.2,490.1 234.2,490.4 231.1,490.8 228.1,491.2 225.1,491.5 222.1,491.9 219.1,492.3 216.1,492.7 213.1,493 210,493.4 207,493.8 204,494.2 201,494.6 198,495 195,495.4 192,495.7 188.9,496.1 185.9,496.5 182.9,496.9 179.9,497.3 176.9,497.7 173.9,498.1 170.9,498.6 167.8,499 164.8,499.5 161.8,499.9 158.8,500.4 155.8,500.9 152.8,501.4 149.8,501.9 146.7,502.4 143.7,503 140.7,503.6 137.7,504.1 134.7,504.7 131.7,505.3 128.7,505.9 125.6,506.6 122.6,507.2 119.6,507.9 116.6,508.6 113.6,509.3 110.6,510 107.5,510.6 104.5,511.2 101.5,511.8 98.5,512.4 95.5,513 92.5,513.6 89.5,514.3 86.4,515 83.4,515.7 80.4,516.5 77.4,517.3 74.4,518.2 71.4,519.1 68.4,520.1 65.3,521.1 62.3,522.2 59.3,523.2 56.3,524.4" fill="#9edd83"/>
<polygon points="56.3,499.7 59.3,497 62.3,493.9 65.3,490.9 68.4,488 71.4,485.1 74.4,482 77.4,478.9 80.4,475.9 83.4,473.3 86.4,470.9 89.5,468.6 92.5,466.4 95.5,464.1 98.5,461.9 101.5,459.7 104.5,457.5 107.5,455.4 110.6,453.3 113.6,451.2 116.6,449.2 119.6,447.1 122.6,445.1 125.6,443.1 128.7,441.1 131.7,439.2 134.7,437.3 137.7,435.4 140.7,433.5 143.7,431.6 146.7,429.8 149.8,427.9 152.8,426.1 155.8,424.3 158.8,422.4 161.8,420.6 164.8,418.9 167.8,417.1 170.9,415.3 173.9,413.6 176.9,412 179.9,410.3 182.9,408.6 185.9,407 188.9,405.4 192,403.8 195,402.3 198,400.8 201,399.4 204,397.9 207,396.6 210,395.2 213.1,393.9 216.1,392.6 219.1,391.4 222.1,390.1 225.1,388.9 228.1,387.6 231.1,386.4 234.2,385.2 237.2,384 240.2,382.8 243.2,381.7 246.2,380.5 249.2,379.4 252.2,378.3 255.3,377.2 258.3,376.1 261.3,375 264.3,373.9 267.3,372.9 270.3,371.8 273.4,370.8 276.4,369.7 279.4,368.7 282.4,367.7 285.4,366.7 288.4,365.7 291.4,364.7 294.5,363.8 297.5,362.8 300.5,361.8 303.5,360.8 306.5,359.8 309.5,358.8 312.5,357.8 315.6,356.8 318.6,355.8 321.6,354.8 324.6,353.8 324.6,413.7 321.6,414.4 318.6,415.1 315.6,415.8 312.5,416.5 309.5,417.2 306.5,417.9 303.5,418.6 300.5,419.3 297.5,420 294.5,420.6 291.4,421.3 288.4,422 285.4,422.6 282.4,423.3 279.4,424 276.4,424.6 273.4,425.3 270.3,425.9 267.3,426.6 264.3,427.2 261.3,427.9 258.3,428.5 255.3,429.2 252.2,429.8 249.2,430.5 246.2,431.3 243.2,432 240.2,432.7 237.2,433.5 234.2,434.2 231.1,435 228.1,435.8 225.1,436.6 222.1,437.4 219.1,438.2 216.1,439 213.1,439.9 210,440.7 207,441.6 204,442.5 201,443.3 198,444.2 195,445.1 192,446.1 188.9,447 185.9,447.9 182.9,448.9 179.9,449.8 176.9,450.8 173.9,451.7 170.9,452.7 167.8,453.7 164.8,454.7 161.8,455.7 158.8,456.7 155.8,457.7 152.8,458.8 149.8,459.8 146.7,460.9 143.7,461.9 140.7,463 137.7,464.1 134.7,465.2 131.7,466.4 128.7,467.6 125.6,468.8 122.6,470.1 119.6,471.4 116.6,472.8 113.6,474.3 110.6,476 107.5,477.9 104.5,480.1 101.5,482.6 98.5,485 95.5,487.3 92.5,489.4 89.5,491.5 86.4,493.4 83.4,495.2 80.4,496.8 77.4,498.2 74.4,499.5 71.4,500.4 68.4,501.5 65.3,502.7 62.3,503.3 59.3,503.8 56.3,504.9" fill="#addf73"/>
<polygon points="56.3,511 59.3,509.9 62.3,508.8 65.3,507.8 68.4,506.7 71.4,505.6 74.4,504.6 77.4,503.6 80.4,502.6 83.4,501.5 86.4,500.4 89.5,499.2 92.5,498 95.5,496.7 98.5,495.4 101.5,494.1 104.5,492.7 107.5,491.4 110.6,490.1 113.6,488.8 116.6,487.5 119.6,486.2 122.6,484.9 125.6,483.7 128.7,482.5 131.7,481.4 134.7,480.3 137.7,479.3 140.7,478.2 143.7,477.2 146.7,476.2 149.8,475.3 152.8,474.4 155.8,473.5 158.8,472.6 161.8,471.8 164.8,471 167.8,470.2 170.9,469.5 173.9,468.8 176.9,468.1 179.9,467.4 182.9,466.8 185.9,466.2 188.9,465.6 192,465 195,464.5 198,464 201,463.5 204,463 207,462.5 210,462 213.1,461.6 216.1,461.1 219.1,460.7 222.1,460.3 225.1,459.9 228.1,459.6 231.1,459.2 234.2,458.9 237.2,458.5 240.2,458.2 243.2,457.9 246.2,457.6 249.2,457.3 252.2,457.1 255.3,456.9 258.3,456.7 261.3,456.4 264.3,456.2 267.3,456.1 270.3,455.9 273.4,455.7 276.4,455.5 279.4,455.4 282.4,455.2 285.4,455.1 288.4,454.9 291.4,454.8 294.5,454.7 297.5,454.5 300.5,454.4 303.5,454.3 306.5,454.2 309.5,454.1 312.5,454 315.6,453.9 318.6,453.8 321.6,453.7 324.6,453.6 324.6,481.1 321.6,481.4 318.6,481.7 315.6,481.9 312.5,482.2 309.5,482.5 306.5,482.8 303.5,483.1 300.5,483.4 297.5,483.6 294.5,483.9 291.4,484.2 288.4,484.5 285.4,484.8 282.4,485.1 279.4,485.4 276.4,485.7 273.4,486 270.3,486.3 267.3,486.6 264.3,486.9 261.3,487.2 258.3,487.6 255.3,487.9 252.2,488.2 249.2,488.6 246.2,488.9 243.2,489.3 240.2,489.6 237.2,490 234.2,490.3 231.1,490.7 228.1,491.1 225.1,491.4 222.1,491.8 219.1,492.2 216.1,492.6 213.1,492.9 210,493.3 207,493.7 204,494.1 201,494.5 198,494.9 195,495.3 192,495.6 188.9,496 185.9,496.4 182.9,496.8 179.9,497.2 176.9,497.6 173.9,498 170.9,498.5 167.8,498.9 164.8,499.4 161.8,499.8 158.8,500.3 155.8,500.8 152.8,501.3 149.8,501.8 146.7,502.3 143.7,502.9 140.7,503.5 137.7,504 134.7,504.6 131.7,505.2 128.7,505.8 125.6,506.5 122.6,507.1 119.6,507.8 116.6,508.5 113.6,509.2 110.6,509.9 107.5,510.5 104.5,511.1 101.5,511.7 98.5,512.3 95.5,512.9 92.5,513.5 89.5,514.2 86.4,514.9 83.4,515.6 80.4,516.4 77.4,517.2 74.4,518.1 71.4,519 68.4,520 65.3,521 62.3,522 59.3,523.1 56.3,524.3" fill="#addf73"/>
<polygon points="56.3,500.1 59.3,497.3 62.3,494.1 65.3,491.1 68.4,488.3 71.4,485.4 74.4,482.2 77.4,479.1 80.4,476.2 83.4,473.6 86.4,471.1 89.5,468.9 92.5,466.6 95.5,464.4 98.5,462.1 101.5,459.9 104.5,457.8 107.5,455.6 110.6,453.5 113.6,451.4 116.6,449.4 119.6,447.3 122.6,445.3 125.6,443.3 128.7,441.4 131.7,439.4 134.7,437.5 137.7,435.6 140.7,433.7 143.7,431.8 146.7,430 149.8,428.1 152.8,426.3 155.8,424.5 158.8,422.6 161.8,420.8 164.8,419.1 167.8,417.3 170.9,415.5 173.9,413.8 176.9,412.2 179.9,410.5 182.9,408.8 185.9,407.2 188.9,405.6 192,404 195,402.5 198,401 201,399.5 204,398.1 207,396.8 210,395.4 213.1,394.1 216.1,392.8 219.1,391.6 222.1,390.3 225.1,389.1 228.1,387.8 231.1,386.6 234.2,385.4 237.2,384.2 240.2,383 243.2,381.9 246.2,380.7 249.2,379.6 252.2,378.5 255.3,377.4 258.3,376.3 261.3,375.2 264.3,374.1 267.3,373.1 270.3,372 273.4,371 276.4,370 279.4,369 282.4,368 285.4,367 288.4,366 291.4,365 294.5,364 297.5,363 300.5,362 303.5,361 306.5,360 309.5,359 312.5,358.1 315.6,357.1 318.6,356.1 321.6,355.1 324.6,354.1 324.6,413.2 321.6,413.9 318.6,414.6 315.6,415.3 312.5,416 309.5,416.7 306.5,417.4 303.5,418.1 300.5,418.8 297.5,419.4 294.5,420.1 291.4,420.8 288.4,421.5 285.4,422.1 282.4,422.8 279.4,423.5 276.4,424.1 273.4,424.8 270.3,425.4 267.3,426.1 264.3,426.7 261.3,427.3 258.3,428 255.3,428.7 252.2,429.3 249.2,430 246.2,430.7 243.2,431.5 240.2,432.2 237.2,432.9 234.2,433.7 231.1,434.5 228.1,435.3 225.1,436.1 222.1,436.9 219.1,437.7 216.1,438.5 213.1,439.4 210,440.2 207,441.1 204,441.9 201,442.8 198,443.7 195,444.6 192,445.5 188.9,446.5 185.9,447.4 182.9,448.3 179.9,449.3 176.9,450.3 173.9,451.2 170.9,452.2 167.8,453.2 164.8,454.2 161.8,455.2 158.8,456.2 155.8,457.2 152.8,458.3 149.8,459.3 146.7,460.4 143.7,461.4 140.7,462.5 137.7,463.6 134.7,464.7 131.7,465.9 128.7,467.1 125.6,468.3 122.6,469.6 119.6,470.9 116.6,472.3 113.6,473.8 110.6,475.5 107.5,477.4 104.5,479.6 101.5,482.1 98.5,484.5 95.5,486.8 92.5,488.9 89.5,491 86.4,492.9 83.4,494.7 80.4,496.3 77.4,497.7 74.4,499 71.4,499.9 68.4,501 65.3,502.2 62.3,502.9 59.3,503.3 56.3,504.5" fill="#bce166"/>
<polygon points="56.3,511.4 59.3,510.3 62.3,509.2 65.3,508.2 68.4,507.1 71.4,506.1 74.4,505 77.4,504 80.4,503 83.4,501.9 86.4,500.8 89.5,499.6 92.5,498.4 95.5,497.2 98.5,495.9 101.5,494.5 104.5,493.2 107.5,491.8 110.6,490.5 113.6,489.2 116.6,487.9 119.6,486.6 122.6,485.4 125.6,484.2 128.7,483 131.7,481.9 134.7,480.8 137.7,479.7 140.7,478.7 143.7,477.7 146.7,476.7 149.8,475.8 152.8,474.8 155.8,474 158.8,473.1 161.8,472.2 164.8,471.4 167.8,470.7 170.9,469.9 173.9,469.2 176.9,468.5 179.9,467.9 182.9,467.2 185.9,466.6 188.9,466.1 192,465.5 195,464.9 198,464.4 201,463.9 204,463.4 207,462.9 210,462.5 213.1,462 216.1,461.6 219.1,461.2 222.1,460.8 225.1,460.4 228.1,460 231.1,459.7 234.2,459.3 237.2,459 240.2,458.6 243.2,458.3 246.2,458.1 249.2,457.8 252.2,457.5 255.3,457.3 258.3,457.1 261.3,456.9 264.3,456.7 267.3,456.5 270.3,456.3 273.4,456.1 276.4,456 279.4,455.8 282.4,455.7 285.4,455.5 288.4,455.4 291.4,455.2 294.5,455.1 297.5,455 300.5,454.9 303.5,454.7 306.5,454.6 309.5,454.5 312.5,454.4 315.6,454.3 318.6,454.2 321.6,454.1 324.6,454 324.6,481 321.6,481.3 318.6,481.6 315.6,481.8 312.5,482.1 309.5,482.4 306.5,482.7 303.5,483 300.5,483.3 297.5,483.5 294.5,483.8 291.4,484.1 288.4,484.4 285.4,484.7 282.4,485 279.4,485.3 276.4,485.6 273.4,485.9 270.3,486.2 267.3,486.5 264.3,486.8 261.3,487.1 258.3,487.5 255.3,487.8 252.2,488.1 249.2,488.5 246.2,488.8 243.2,489.2 240.2,489.5 237.2,489.9 234.2,490.2 231.1,490.6 228.1,491 225.1,491.3 222.1,491.7 219.1,492.1 216.1,492.5 213.1,492.8 210,493.2 207,493.6 204,494 201,494.4 198,494.8 195,495.2 192,495.5 188.9,495.9 185.9,496.3 182.9,496.7 179.9,497.1 176.9,497.5 173.9,497.9 170.9,498.4 167.8,498.8 164.8,499.3 161.8,499.7 158.8,500.2 155.8,500.7 152.8,501.2 149.8,501.7 146.7,502.2 143.7,502.8 140.7,503.4 137.7,503.9 134.7,504.5 131.7,505.1 128.7,505.7 125.6,506.4 122.6,507 119.6,507.7 116.6,508.4 113.6,509.1 110.6,509.7 107.5,510.4 104.5,511 101.5,511.6 98.5,512.1 95.5,512.8 92.5,513.4 89.5,514.1 86.4,514.8 83.4,515.5 80.4,516.3 77.4,517.1 74.4,518 71.4,518.9 68.4,519.9 65.3,520.9 62.3,521.9 59.3,523 56.3,524.1" fill="#bce166"/>
<polygon points="56.3,500.6 59.3,497.8 62.3,494.5 65.3,491.4 68.4,488.5 71.4,485.6 74.4,482.4 77.4,479.4 80.4,476.4 83.4,473.8 86.4,471.4 89.5,469.1 92.5,466.9 95.5,464.6 98.5,462.4 101.5,460.2 104.5,458 107.5,455.9 110.6,453.8 113.6,451.7 116.6,449.6 119.6,447.6 122.6,445.6 125.6,443.6 128.7,441.6 131.7,439.7 134.7,437.7 137.7,435.8 140.7,433.9 143.7,432.1 146.7,430.2 149.8,428.3 152.8,426.5 155.8,424.7 158.8,422.9 161.8,421 164.8,419.3 167.8,417.5 170.9,415.8 173.9,414 176.9,412.4 179.9,410.7 182.9,409 185.9,407.4 188.9,405.8 192,404.2 195,402.7 198,401.2 201,399.7 204,398.3 207,397 210,395.6 213.1,394.3 216.1,393 219.1,391.8 222.1,390.5 225.1,389.3 228.1,388 231.1,386.8 234.2,385.6 237.2,384.4 240.2,383.3 243.2,382.1 246.2,381 249.2,379.8 252.2,378.7 255.3,377.6 258.3,376.5 261.3,375.4 264.3,374.4 267.3,373.3 270.3,372.3 273.4,371.2 276.4,370.2 279.4,369.2 282.4,368.2 285.4,367.2 288.4,366.2 291.4,365.2 294.5,364.3 297.5,363.3 300.5,362.3 303.5,361.3 306.5,360.3 309.5,359.3 312.5,358.3 315.6,357.4 318.6,356.4 321.6,355.4 324.6,354.4 324.6,412.7 321.6,413.4 318.6,414.1 315.6,414.8 312.5,415.5 309.5,416.2 306.5,416.9 303.5,417.6 300.5,418.3 297.5,418.9 294.5,419.6 291.4,420.3 288.4,421 285.4,421.6 282.4,422.3 279.4,422.9 276.4,423.6 273.4,424.3 270.3,424.9 267.3,425.6 264.3,426.2 261.3,426.8 258.3,427.5 255.3,428.1 252.2,428.8 249.2,429.5 246.2,430.2 243.2,430.9 240.2,431.7 237.2,432.4 234.2,433.2 231.1,434 228.1,434.7 225.1,435.5 222.1,436.3 219.1,437.2 216.1,438 213.1,438.8 210,439.7 207,440.6 204,441.4 201,442.3 198,443.2 195,444.1 192,445 188.9,445.9 185.9,446.9 182.9,447.8 179.9,448.8 176.9,449.7 173.9,450.7 170.9,451.7 167.8,452.7 164.8,453.7 161.8,454.7 158.8,455.7 155.8,456.7 152.8,457.7 149.8,458.8 146.7,459.8 143.7,460.9 140.7,462 137.7,463.1 134.7,464.2 131.7,465.3 128.7,466.6 125.6,467.8 122.6,469.1 119.6,470.4 116.6,471.8 113.6,473.3 110.6,474.9 107.5,476.9 104.5,479.1 101.5,481.6 98.5,484 95.5,486.3 92.5,488.4 89.5,490.5 86.4,492.5 83.4,494.3 80.4,495.8 77.4,497.2 74.4,498.5 71.4,499.5 68.4,500.6 65.3,501.8 62.3,502.4 59.3,502.9 56.3,504" fill="#cce359"/>
<polygon points="56.3,511.8 59.3,510.7 62.3,509.6 65.3,508.6 68.4,507.5 71.4,506.5 74.4,505.5 77.4,504.5 80.4,503.4 83.4,502.3 86.4,501.2 89.5,500 92.5,498.8 95.5,497.6 98.5,496.3 101.5,495 104.5,493.6 107.5,492.3 110.6,491 113.6,489.7 116.6,488.4 119.6,487.1 122.6,485.8 125.6,484.6 128.7,483.4 131.7,482.3 134.7,481.2 137.7,480.1 140.7,479.1 143.7,478.1 146.7,477.1 149.8,476.2 152.8,475.3 155.8,474.4 158.8,473.5 161.8,472.7 164.8,471.9 167.8,471.1 170.9,470.4 173.9,469.7 176.9,469 179.9,468.3 182.9,467.7 185.9,467.1 188.9,466.5 192,465.9 195,465.4 198,464.9 201,464.4 204,463.9 207,463.4 210,462.9 213.1,462.5 216.1,462 219.1,461.6 222.1,461.2 225.1,460.8 228.1,460.5 231.1,460.1 234.2,459.8 237.2,459.4 240.2,459.1 243.2,458.8 246.2,458.5 249.2,458.2 252.2,458 255.3,457.8 258.3,457.5 261.3,457.3 264.3,457.1 267.3,456.9 270.3,456.8 273.4,456.6 276.4,456.4 279.4,456.3 282.4,456.1 285.4,456 288.4,455.8 291.4,455.7 294.5,455.5 297.5,455.4 300.5,455.3 303.5,455.2 306.5,455.1 309.5,455 312.5,454.9 315.6,454.8 318.6,454.7 321.6,454.6 324.6,454.5 324.6,480.9 321.6,481.2 318.6,481.5 315.6,481.7 312.5,482 309.5,482.3 306.5,482.6 303.5,482.9 300.5,483.2 297.5,483.4 294.5,483.7 291.4,484 288.4,484.3 285.4,484.6 282.4,484.9 279.4,485.2 276.4,485.5 273.4,485.8 270.3,486.1 267.3,486.4 264.3,486.7 261.3,487 258.3,487.4 255.3,487.7 252.2,488 249.2,488.4 246.2,488.7 243.2,489.1 240.2,489.4 237.2,489.8 234.2,490.1 231.1,490.5 228.1,490.9 225.1,491.2 222.1,491.6 219.1,492 216.1,492.4 213.1,492.7 210,493.1 207,493.5 204,493.9 201,494.3 198,494.7 195,495 192,495.4 188.9,495.8 185.9,496.2 182.9,496.6 179.9,497 176.9,497.4 173.9,497.8 170.9,498.2 167.8,498.7 164.8,499.1 161.8,499.6 158.8,500.1 155.8,500.6 152.8,501.1 149.8,501.6 146.7,502.1 143.7,502.7 140.7,503.2 137.7,503.8 134.7,504.4 131.7,505 128.7,505.6 125.6,506.3 122.6,506.9 119.6,507.6 116.6,508.3 113.6,509 110.6,509.6 107.5,510.3 104.5,510.9 101.5,511.4 98.5,512 95.5,512.7 92.5,513.3 89.5,514 86.4,514.7 83.4,515.4 80.4,516.2 77.4,517 74.4,517.9 71.4,518.8 68.4,519.8 65.3,520.8 62.3,521.8 59.3,522.9 56.3,524" fill="#cce359"/>
<polygon points="56.3,501.9 59.3,498.4 62.3,494.8 65.3,491.7 68.4,488.8 71.4,485.9 74.4,482.7 77.4,479.6 80.4,476.7 83.4,474.1 86.4,471.7 89.5,469.4 92.5,467.2 95.5,464.9 98.5,462.7 101.5,460.5 104.5,458.3 107.5,456.2 110.6,454 113.6,452 116.6,449.9 119.6,447.8 122.6,445.8 125.6,443.8 128.7,441.9 131.7,439.9 134.7,438 137.7,436.1 140.7,434.2 143.7,432.3 146.7,430.4 149.8,428.6 152.8,426.7 155.8,424.9 158.8,423.1 161.8,421.3 164.8,419.5 167.8,417.7 170.9,416 173.9,414.3 176.9,412.6 179.9,410.9 182.9,409.2 185.9,407.6 188.9,406 192,404.4 195,402.9 198,401.4 201,400 204,398.5 207,397.2 210,395.8 213.1,394.5 216.1,393.2 219.1,392 222.1,390.7 225.1,389.5 228.1,388.3 231.1,387 234.2,385.8 237.2,384.7 240.2,383.5 243.2,382.3 246.2,381.2 249.2,380.1 252.2,379 255.3,377.8 258.3,376.8 261.3,375.7 264.3,374.6 267.3,373.6 270.3,372.5 273.4,371.5 276.4,370.5 279.4,369.5 282.4,368.5 285.4,367.5 288.4,366.5 291.4,365.5 294.5,364.5 297.5,363.6 300.5,362.6 303.5,361.6 306.5,360.6 309.5,359.6 312.5,358.6 315.6,357.7 318.6,356.7 321.6,355.7 324.6,354.7 324.6,412.2 321.6,412.9 318.6,413.6 315.6,414.3 312.5,415 309.5,415.7 306.5,416.4 303.5,417.1 300.5,417.8 297.5,418.4 294.5,419.1 291.4,419.8 288.4,420.5 285.4,421.1 282.4,421.8 279.4,422.4 276.4,423.1 273.4,423.8 270.3,424.4 267.3,425 264.3,425.7 261.3,426.3 258.3,427 255.3,427.6 252.2,428.3 249.2,429 246.2,429.7 243.2,430.4 240.2,431.2 237.2,431.9 234.2,432.7 231.1,433.4 228.1,434.2 225.1,435 222.1,435.8 219.1,436.6 216.1,437.5 213.1,438.3 210,439.2 207,440 204,440.9 201,441.8 198,442.7 195,443.6 192,444.5 188.9,445.4 185.9,446.3 182.9,447.3 179.9,448.2 176.9,449.2 173.9,450.2 170.9,451.2 167.8,452.1 164.8,453.1 161.8,454.1 158.8,455.2 155.8,456.2 152.8,457.2 149.8,458.3 146.7,459.3 143.7,460.4 140.7,461.5 137.7,462.5 134.7,463.7 131.7,464.8 128.7,466.1 125.6,467.3 122.6,468.6 119.6,469.9 116.6,471.3 113.6,472.8 110.6,474.4 107.5,476.4 104.5,478.6 101.5,481.1 98.5,483.5 95.5,485.8 92.5,487.9 89.5,490 86.4,492 83.4,493.8 80.4,495.4 77.4,496.8 74.4,498.1 71.4,499 68.4,500.1 65.3,501.3 62.3,502 59.3,502.4 56.3,503.6" fill="#dae44f"/>
<polygon points="56.3,512.2 59.3,511.1 62.3,510 65.3,509 68.4,507.9 71.4,506.9 74.4,505.9 77.4,504.9 80.4,503.8 83.4,502.8 86.4,501.6 89.5,500.5 92.5,499.2 95.5,498 98.5,496.7 101.5,495.4 104.5,494.1 107.5,492.7 110.6,491.4 113.6,490.1 116.6,488.8 119.6,487.5 122.6,486.3 125.6,485 128.7,483.9 131.7,482.8 134.7,481.7 137.7,480.6 140.7,479.6 143.7,478.6 146.7,477.6 149.8,476.7 152.8,475.7 155.8,474.9 158.8,474 161.8,473.2 164.8,472.3 167.8,471.6 170.9,470.8 173.9,470.1 176.9,469.4 179.9,468.8 182.9,468.2 185.9,467.5 188.9,467 192,466.4 195,465.8 198,465.3 201,464.8 204,464.3 207,463.8 210,463.4 213.1,462.9 216.1,462.5 219.1,462.1 222.1,461.7 225.1,461.3 228.1,460.9 231.1,460.6 234.2,460.2 237.2,459.9 240.2,459.5 243.2,459.2 246.2,458.9 249.2,458.7 252.2,458.4 255.3,458.2 258.3,458 261.3,457.8 264.3,457.6 267.3,457.4 270.3,457.2 273.4,457 276.4,456.9 279.4,456.7 282.4,456.5 285.4,456.4 288.4,456.3 291.4,456.1 294.5,456 297.5,455.9 300.5,455.7 303.5,455.6 306.5,455.5 309.5,455.4 312.5,455.3 315.6,455.2 318.6,455.1 321.6,455 324.6,454.9 324.6,480.8 321.6,481.1 318.6,481.3 315.6,481.6 312.5,481.9 309.5,482.2 306.5,482.5 303.5,482.8 300.5,483 297.5,483.3 294.5,483.6 291.4,483.9 288.4,484.2 285.4,484.5 282.4,484.8 279.4,485 276.4,485.3 273.4,485.7 270.3,486 267.3,486.3 264.3,486.6 261.3,486.9 258.3,487.3 255.3,487.6 252.2,487.9 249.2,488.3 246.2,488.6 243.2,489 240.2,489.3 237.2,489.7 234.2,490 231.1,490.4 228.1,490.8 225.1,491.1 222.1,491.5 219.1,491.9 216.1,492.2 213.1,492.6 210,493 207,493.4 204,493.8 201,494.2 198,494.5 195,494.9 192,495.3 188.9,495.7 185.9,496.1 182.9,496.5 179.9,496.9 176.9,497.3 173.9,497.7 170.9,498.1 167.8,498.6 164.8,499 161.8,499.5 158.8,500 155.8,500.5 152.8,501 149.8,501.5 146.7,502 143.7,502.6 140.7,503.1 137.7,503.7 134.7,504.3 131.7,504.9 128.7,505.5 125.6,506.1 122.6,506.8 119.6,507.5 116.6,508.2 113.6,508.9 110.6,509.5 107.5,510.1 104.5,510.7 101.5,511.3 98.5,511.9 95.5,512.5 92.5,513.2 89.5,513.8 86.4,514.5 83.4,515.3 80.4,516.1 77.4,516.9 74.4,517.8 71.4,518.7 68.4,519.7 65.3,520.7 62.3,521.7 59.3,522.8 56.3,523.9" fill="#dae44f"/>
<polygon points="62.3,495.3 65.3,492 68.4,489.1 71.4,486.2 74.4,483 77.4,479.9 80.4,477 83.4,474.4 86.4,472 89.5,469.7 92.5,467.5 95.5,465.2 98.5,463 101.5,460.8 104.5,458.6 107.5,456.4 110.6,454.3 113.6,452.2 116.6,450.2 119.6,448.1 122.6,446.1 125.6,444.1 128.7,442.1 131.7,440.2 134.7,438.2 137.7,436.3 140.7,434.4 143.7,432.6 146.7,430.7 149.8,428.8 152.8,427 155.8,425.2 158.8,423.3 161.8,421.5 164.8,419.7 167.8,418 170.9,416.2 173.9,414.5 176.9,412.8 179.9,411.1 182.9,409.5 185.9,407.8 188.9,406.2 192,404.7 195,403.1 198,401.6 201,400.2 204,398.8 207,397.4 210,396.1 213.1,394.8 216.1,393.5 219.1,392.2 222.1,391 225.1,389.7 228.1,388.5 231.1,387.3 234.2,386.1 237.2,384.9 240.2,383.7 243.2,382.6 246.2,381.4 249.2,380.3 252.2,379.2 255.3,378.1 258.3,377 261.3,376 264.3,374.9 267.3,373.8 270.3,372.8 273.4,371.8 276.4,370.8 279.4,369.7 282.4,368.7 285.4,367.8 288.4,366.8 291.4,365.8 294.5,364.8 297.5,363.9 300.5,362.9 303.5,361.9 306.5,360.9 309.5,360 312.5,359 315.6,358 318.6,357 321.6,356.1 324.6,355.1 324.6,411.7 321.6,412.4 318.6,413.1 315.6,413.8 312.5,414.5 309.5,415.2 306.5,415.9 303.5,416.6 300.5,417.3 297.5,417.9 294.5,418.6 291.4,419.3 288.4,419.9 285.4,420.6 282.4,421.3 279.4,421.9 276.4,422.6 273.4,423.3 270.3,423.9 267.3,424.5 264.3,425.2 261.3,425.8 258.3,426.5 255.3,427.1 252.2,427.8 249.2,428.5 246.2,429.2 243.2,429.9 240.2,430.7 237.2,431.4 234.2,432.2 231.1,432.9 228.1,433.7 225.1,434.5 222.1,435.3 219.1,436.1 216.1,437 213.1,437.8 210,438.6 207,439.5 204,440.4 201,441.3 198,442.2 195,443.1 192,444 188.9,444.9 185.9,445.8 182.9,446.8 179.9,447.7 176.9,448.7 173.9,449.6 170.9,450.6 167.8,451.6 164.8,452.6 161.8,453.6 158.8,454.6 155.8,455.7 152.8,456.7 149.8,457.7 146.7,458.8 143.7,459.9 140.7,460.9 137.7,462 134.7,463.2 131.7,464.3 128.7,465.5 125.6,466.8 122.6,468.1 119.6,469.4 116.6,470.8 113.6,472.3 110.6,473.9 107.5,475.9 104.5,478.1 101.5,480.6 98.5,483 95.5,485.3 92.5,487.5 89.5,489.5 86.4,491.5 83.4,493.3 80.4,494.9 77.4,496.3 74.4,497.6 71.4,498.5 68.4,499.7 65.3,500.9 62.3,501.5" fill="#e6e348"/>
<polygon points="56.3,512.6 59.3,511.5 62.3,510.4 65.3,509.4 68.4,508.3 71.4,507.3 74.4,506.3 77.4,505.3 80.4,504.3 83.4,503.2 86.4,502 89.5,500.9 92.5,499.7 95.5,498.4 98.5,497.2 101.5,495.8 104.5,494.5 107.5,493.2 110.6,491.9 113.6,490.6 116.6,489.3 119.6,488 122.6,486.7 125.6,485.5 128.7,484.3 131.7,483.2 134.7,482.1 137.7,481 140.7,480 143.7,479 146.7,478 149.8,477.1 152.8,476.2 155.8,475.3 158.8,474.4 161.8,473.6 164.8,472.8 167.8,472 170.9,471.3 173.9,470.6 176.9,469.9 179.9,469.2 182.9,468.6 185.9,468 188.9,467.4 192,466.8 195,466.3 198,465.8 201,465.3 204,464.8 207,464.3 210,463.8 213.1,463.4 216.1,462.9 219.1,462.5 222.1,462.1 225.1,461.7 228.1,461.4 231.1,461 234.2,460.6 237.2,460.3 240.2,460 243.2,459.7 246.2,459.4 249.2,459.1 252.2,458.9 255.3,458.6 258.3,458.4 261.3,458.2 264.3,458 267.3,457.8 270.3,457.6 273.4,457.5 276.4,457.3 279.4,457.1 282.4,457 285.4,456.8 288.4,456.7 291.4,456.6 294.5,456.4 297.5,456.3 300.5,456.2 303.5,456.1 306.5,455.9 309.5,455.8 312.5,455.7 315.6,455.6 318.6,455.5 321.6,455.4 324.6,455.3 324.6,480.7 321.6,480.9 318.6,481.2 315.6,481.5 312.5,481.8 309.5,482.1 306.5,482.4 303.5,482.6 300.5,482.9 297.5,483.2 294.5,483.5 291.4,483.8 288.4,484.1 285.4,484.3 282.4,484.6 279.4,484.9 276.4,485.2 273.4,485.5 270.3,485.8 267.3,486.2 264.3,486.5 261.3,486.8 258.3,487.1 255.3,487.5 252.2,487.8 249.2,488.2 246.2,488.5 243.2,488.8 240.2,489.2 237.2,489.5 234.2,489.9 231.1,490.3 228.1,490.6 225.1,491 222.1,491.4 219.1,491.7 216.1,492.1 213.1,492.5 210,492.9 207,493.3 204,493.6 201,494 198,494.4 195,494.8 192,495.2 188.9,495.6 185.9,495.9 182.9,496.3 179.9,496.7 176.9,497.1 173.9,497.6 170.9,498 167.8,498.4 164.8,498.9 161.8,499.4 158.8,499.8 155.8,500.3 152.8,500.8 149.8,501.3 146.7,501.9 143.7,502.4 140.7,503 137.7,503.6 134.7,504.2 131.7,504.8 128.7,505.4 125.6,506 122.6,506.7 119.6,507.4 116.6,508 113.6,508.7 110.6,509.4 107.5,510 104.5,510.6 101.5,511.2 98.5,511.8 95.5,512.4 92.5,513 89.5,513.7 86.4,514.4 83.4,515.1 80.4,515.9 77.4,516.8 74.4,517.7 71.4,518.6 68.4,519.5 65.3,520.5 62.3,521.6 59.3,522.7 56.3,523.8" fill="#e6e348"/>
<polygon points="62.3,495.8 65.3,492.4 68.4,489.5 71.4,486.5 74.4,483.3 77.4,480.2 80.4,477.3 83.4,474.7 86.4,472.3 89.5,470 92.5,467.8 95.5,465.5 98.5,463.3 101.5,461.1 104.5,458.9 107.5,456.8 110.6,454.6 113.6,452.5 116.6,450.5 119.6,448.4 122.6,446.4 125.6,444.4 128.7,442.4 131.7,440.5 134.7,438.5 137.7,436.6 140.7,434.7 143.7,432.8 146.7,431 149.8,429.1 152.8,427.3 155.8,425.4 158.8,423.6 161.8,421.8 164.8,420 167.8,418.2 170.9,416.5 173.9,414.8 176.9,413.1 179.9,411.4 182.9,409.7 185.9,408.1 188.9,406.5 192,404.9 195,403.4 198,401.9 201,400.4 204,399 207,397.7 210,396.3 213.1,395 216.1,393.7 219.1,392.5 222.1,391.2 225.1,390 228.1,388.8 231.1,387.5 234.2,386.4 237.2,385.2 240.2,384 243.2,382.9 246.2,381.7 249.2,380.6 252.2,379.5 255.3,378.4 258.3,377.3 261.3,376.2 264.3,375.2 267.3,374.1 270.3,373.1 273.4,372.1 276.4,371.1 279.4,370.1 282.4,369.1 285.4,368.1 288.4,367.1 291.4,366.1 294.5,365.2 297.5,364.2 300.5,363.2 303.5,362.3 306.5,361.3 309.5,360.3 312.5,359.3 315.6,358.4 318.6,357.4 321.6,356.4 324.6,355.5 324.6,411.2 321.6,411.9 318.6,412.6 315.6,413.3 312.5,414 309.5,414.7 306.5,415.4 303.5,416.1 300.5,416.8 297.5,417.4 294.5,418.1 291.4,418.8 288.4,419.4 285.4,420.1 282.4,420.8 279.4,421.4 276.4,422.1 273.4,422.7 270.3,423.4 267.3,424 264.3,424.7 261.3,425.3 258.3,426 255.3,426.6 252.2,427.3 249.2,428 246.2,428.7 243.2,429.4 240.2,430.1 237.2,430.9 234.2,431.7 231.1,432.4 228.1,433.2 225.1,434 222.1,434.8 219.1,435.6 216.1,436.4 213.1,437.3 210,438.1 207,439 204,439.9 201,440.7 198,441.6 195,442.5 192,443.4 188.9,444.4 185.9,445.3 182.9,446.2 179.9,447.2 176.9,448.2 173.9,449.1 170.9,450.1 167.8,451.1 164.8,452.1 161.8,453.1 158.8,454.1 155.8,455.1 152.8,456.2 149.8,457.2 146.7,458.3 143.7,459.3 140.7,460.4 137.7,461.5 134.7,462.6 131.7,463.8 128.7,465 125.6,466.3 122.6,467.6 119.6,468.9 116.6,470.3 113.6,471.8 110.6,473.4 107.5,475.4 104.5,477.6 101.5,480.1 98.5,482.6 95.5,484.9 92.5,487 89.5,489 86.4,491 83.4,492.8 80.4,494.4 77.4,495.8 74.4,497.1 71.4,498.1 68.4,499.2 65.3,500.4 62.3,501.1" fill="#f2e241"/>
<polygon points="56.3,513 59.3,511.9 62.3,510.8 65.3,509.8 68.4,508.7 71.4,507.7 74.4,506.7 77.4,505.7 80.4,504.7 83.4,503.6 86.4,502.5 89.5,501.3 92.5,500.1 95.5,498.9 98.5,497.6 101.5,496.3 104.5,494.9 107.5,493.6 110.6,492.3 113.6,491 116.6,489.7 119.6,488.4 122.6,487.1 125.6,485.9 128.7,484.8 131.7,483.6 134.7,482.5 137.7,481.5 140.7,480.5 143.7,479.5 146.7,478.5 149.8,477.6 152.8,476.6 155.8,475.8 158.8,474.9 161.8,474.1 164.8,473.3 167.8,472.5 170.9,471.7 173.9,471 176.9,470.3 179.9,469.7 182.9,469.1 185.9,468.4 188.9,467.9 192,467.3 195,466.7 198,466.2 201,465.7 204,465.2 207,464.7 210,464.3 213.1,463.8 216.1,463.4 219.1,463 222.1,462.6 225.1,462.2 228.1,461.8 231.1,461.4 234.2,461.1 237.2,460.8 240.2,460.4 243.2,460.1 246.2,459.8 249.2,459.6 252.2,459.3 255.3,459.1 258.3,458.9 261.3,458.7 264.3,458.5 267.3,458.3 270.3,458.1 273.4,457.9 276.4,457.7 279.4,457.6 282.4,457.4 285.4,457.3 288.4,457.1 291.4,457 294.5,456.9 297.5,456.7 300.5,456.6 303.5,456.5 306.5,456.4 309.5,456.3 312.5,456.2 315.6,456.1 318.6,456 321.6,455.9 324.6,455.8 324.6,480.5 321.6,480.8 318.6,481.1 315.6,481.4 312.5,481.7 309.5,481.9 306.5,482.2 303.5,482.5 300.5,482.8 297.5,483.1 294.5,483.4 291.4,483.6 288.4,483.9 285.4,484.2 282.4,484.5 279.4,484.8 276.4,485.1 273.4,485.4 270.3,485.7 267.3,486 264.3,486.4 261.3,486.7 258.3,487 255.3,487.3 252.2,487.7 249.2,488 246.2,488.4 243.2,488.7 240.2,489.1 237.2,489.4 234.2,489.8 231.1,490.1 228.1,490.5 225.1,490.9 222.1,491.2 219.1,491.6 216.1,492 213.1,492.4 210,492.7 207,493.1 204,493.5 201,493.9 198,494.3 195,494.7 192,495 188.9,495.4 185.9,495.8 182.9,496.2 179.9,496.6 176.9,497 173.9,497.4 170.9,497.9 167.8,498.3 164.8,498.8 161.8,499.2 158.8,499.7 155.8,500.2 152.8,500.7 149.8,501.2 146.7,501.7 143.7,502.3 140.7,502.8 137.7,503.4 134.7,504 131.7,504.6 128.7,505.2 125.6,505.9 122.6,506.5 119.6,507.2 116.6,507.9 113.6,508.6 110.6,509.2 107.5,509.9 104.5,510.5 101.5,511 98.5,511.6 95.5,512.3 92.5,512.9 89.5,513.6 86.4,514.3 83.4,515 80.4,515.8 77.4,516.6 74.4,517.5 71.4,518.4 68.4,519.4 65.3,520.4 62.3,521.4 59.3,522.5 56.3,523.6" fill="#f2e241"/>
<polygon points="65.3,492.9 68.4,489.9 71.4,486.9 74.4,483.7 77.4,480.6 80.4,477.7 83.4,475.1 86.4,472.7 89.5,470.4 92.5,468.2 95.5,465.9 98.5,463.7 101.5,461.4 104.5,459.3 107.5,457.1 110.6,455 113.6,452.9 116.6,450.8 119.6,448.8 122.6,446.7 125.6,444.7 128.7,442.8 131.7,440.8 134.7,438.9 137.7,436.9 140.7,435 143.7,433.2 146.7,431.3 149.8,429.4 152.8,427.6 155.8,425.7 158.8,423.9 161.8,422.1 164.8,420.3 167.8,418.5 170.9,416.8 173.9,415.1 176.9,413.4 179.9,411.7 182.9,410 185.9,408.4 188.9,406.8 192,405.2 195,403.7 198,402.2 201,400.7 204,399.3 207,397.9 210,396.6 213.1,395.3 216.1,394 219.1,392.8 222.1,391.5 225.1,390.3 228.1,389 231.1,387.8 234.2,386.7 237.2,385.5 240.2,384.3 243.2,383.2 246.2,382 249.2,380.9 252.2,379.8 255.3,378.7 258.3,377.6 261.3,376.6 264.3,375.5 267.3,374.5 270.3,373.4 273.4,372.4 276.4,371.4 279.4,370.4 282.4,369.4 285.4,368.4 288.4,367.5 291.4,366.5 294.5,365.5 297.5,364.6 300.5,363.6 303.5,362.6 306.5,361.7 309.5,360.7 312.5,359.7 315.6,358.8 318.6,357.8 321.6,356.9 324.6,355.9 324.6,410.7 321.6,411.4 318.6,412.1 315.6,412.8 312.5,413.5 309.5,414.2 306.5,414.9 303.5,415.6 300.5,416.3 297.5,416.9 294.5,417.6 291.4,418.3 288.4,418.9 285.4,419.6 282.4,420.3 279.4,420.9 276.4,421.6 273.4,422.2 270.3,422.9 267.3,423.5 264.3,424.2 261.3,424.8 258.3,425.4 255.3,426.1 252.2,426.8 249.2,427.5 246.2,428.2 243.2,428.9 240.2,429.6 237.2,430.4 234.2,431.1 231.1,431.9 228.1,432.7 225.1,433.5 222.1,434.3 219.1,435.1 216.1,435.9 213.1,436.8 210,437.6 207,438.5 204,439.3 201,440.2 198,441.1 195,442 192,442.9 188.9,443.8 185.9,444.8 182.9,445.7 179.9,446.7 176.9,447.6 173.9,448.6 170.9,449.6 167.8,450.6 164.8,451.6 161.8,452.6 158.8,453.6 155.8,454.6 152.8,455.7 149.8,456.7 146.7,457.8 143.7,458.8 140.7,459.9 137.7,461 134.7,462.1 131.7,463.3 128.7,464.5 125.6,465.8 122.6,467 119.6,468.4 116.6,469.8 113.6,471.3 110.6,472.9 107.5,474.9 104.5,477.1 101.5,479.6 98.5,482.1 95.5,484.4 92.5,486.5 89.5,488.6 86.4,490.5 83.4,492.4 80.4,494 77.4,495.4 74.4,496.7 71.4,497.6 68.4,498.8 65.3,499.9" fill="#f8d63d"/>
<polygon points="56.3,513.4 59.3,512.3 62.3,511.2 65.3,510.2 68.4,509.1 71.4,508.1 74.4,507.1 77.4,506.1 80.4,505.1 83.4,504 86.4,502.9 89.5,501.7 92.5,500.5 95.5,499.3 98.5,498 101.5,496.7 104.5,495.4 107.5,494 110.6,492.7 113.6,491.4 116.6,490.1 119.6,488.8 122.6,487.6 125.6,486.4 128.7,485.2 131.7,484.1 134.7,483 137.7,481.9 140.7,480.9 143.7,479.9 146.7,478.9 149.8,478 152.8,477.1 155.8,476.2 158.8,475.4 161.8,474.5 164.8,473.7 167.8,472.9 170.9,472.2 173.9,471.5 176.9,470.8 179.9,470.1 182.9,469.5 185.9,468.9 188.9,468.3 192,467.7 195,467.2 198,466.7 201,466.2 204,465.7 207,465.2 210,464.7 213.1,464.3 216.1,463.8 219.1,463.4 222.1,463 225.1,462.6 228.1,462.3 231.1,461.9 234.2,461.5 237.2,461.2 240.2,460.9 243.2,460.6 246.2,460.3 249.2,460 252.2,459.8 255.3,459.5 258.3,459.3 261.3,459.1 264.3,458.9 267.3,458.7 270.3,458.5 273.4,458.4 276.4,458.2 279.4,458 282.4,457.9 285.4,457.7 288.4,457.6 291.4,457.4 294.5,457.3 297.5,457.2 300.5,457 303.5,456.9 306.5,456.8 309.5,456.7 312.5,456.6 315.6,456.5 318.6,456.4 321.6,456.3 324.6,456.2 324.6,480.4 321.6,480.7 318.6,480.9 315.6,481.2 312.5,481.5 309.5,481.8 306.5,482.1 303.5,482.4 300.5,482.6 297.5,482.9 294.5,483.2 291.4,483.5 288.4,483.8 285.4,484.1 282.4,484.4 279.4,484.7 276.4,485 273.4,485.3 270.3,485.6 267.3,485.9 264.3,486.2 261.3,486.5 258.3,486.9 255.3,487.2 252.2,487.5 249.2,487.9 246.2,488.2 243.2,488.6 240.2,488.9 237.2,489.3 234.2,489.6 231.1,490 228.1,490.3 225.1,490.7 222.1,491.1 219.1,491.5 216.1,491.8 213.1,492.2 210,492.6 207,493 204,493.4 201,493.7 198,494.1 195,494.5 192,494.9 188.9,495.3 185.9,495.6 182.9,496 179.9,496.4 176.9,496.8 173.9,497.3 170.9,497.7 167.8,498.1 164.8,498.6 161.8,499.1 158.8,499.5 155.8,500 152.8,500.5 149.8,501 146.7,501.6 143.7,502.1 140.7,502.7 137.7,503.3 134.7,503.8 131.7,504.5 128.7,505.1 125.6,505.7 122.6,506.4 119.6,507.1 116.6,507.7 113.6,508.4 110.6,509.1 107.5,509.7 104.5,510.3 101.5,510.9 98.5,511.5 95.5,512.1 92.5,512.7 89.5,513.4 86.4,514.1 83.4,514.8 80.4,515.6 77.4,516.5 74.4,517.3 71.4,518.3 68.4,519.2 65.3,520.2 62.3,521.3 59.3,522.3 56.3,523.5" fill="#f8d63d"/>
<polygon points="65.3,493.5 68.4,490.5 71.4,487.4 74.4,484.1 77.4,481 80.4,478.1 83.4,475.5 86.4,473.1 89.5,470.8 92.5,468.6 95.5,466.3 98.5,464.1 101.5,461.9 104.5,459.7 107.5,457.5 110.6,455.4 113.6,453.3 116.6,451.2 119.6,449.2 122.6,447.1 125.6,445.1 128.7,443.2 131.7,441.2 134.7,439.2 137.7,437.3 140.7,435.4 143.7,433.5 146.7,431.6 149.8,429.8 152.8,427.9 155.8,426.1 158.8,424.3 161.8,422.4 164.8,420.6 167.8,418.9 170.9,417.1 173.9,415.4 176.9,413.7 179.9,412 182.9,410.4 185.9,408.7 188.9,407.1 192,405.5 195,404 198,402.5 201,401 204,399.6 207,398.3 210,396.9 213.1,395.6 216.1,394.4 219.1,393.1 222.1,391.8 225.1,390.6 228.1,389.4 231.1,388.2 234.2,387 237.2,385.8 240.2,384.7 243.2,383.5 246.2,382.4 249.2,381.3 252.2,380.2 255.3,379.1 258.3,378 261.3,376.9 264.3,375.9 267.3,374.9 270.3,373.8 273.4,372.8 276.4,371.8 279.4,370.8 282.4,369.8 285.4,368.8 288.4,367.9 291.4,366.9 294.5,366 297.5,365 300.5,364.1 303.5,363.1 306.5,362.1 309.5,361.2 312.5,360.2 315.6,359.3 318.6,358.3 321.6,357.4 324.6,356.4 324.6,410.2 321.6,410.9 318.6,411.6 315.6,412.3 312.5,413 309.5,413.7 306.5,414.4 303.5,415.1 300.5,415.8 297.5,416.4 294.5,417.1 291.4,417.8 288.4,418.4 285.4,419.1 282.4,419.8 279.4,420.4 276.4,421.1 273.4,421.7 270.3,422.4 267.3,423 264.3,423.7 261.3,424.3 258.3,424.9 255.3,425.6 252.2,426.3 249.2,427 246.2,427.7 243.2,428.4 240.2,429.1 237.2,429.9 234.2,430.6 231.1,431.4 228.1,432.2 225.1,433 222.1,433.8 219.1,434.6 216.1,435.4 213.1,436.2 210,437.1 207,438 204,438.8 201,439.7 198,440.6 195,441.5 192,442.4 188.9,443.3 185.9,444.3 182.9,445.2 179.9,446.1 176.9,447.1 173.9,448.1 170.9,449.1 167.8,450 164.8,451 161.8,452 158.8,453.1 155.8,454.1 152.8,455.1 149.8,456.2 146.7,457.2 143.7,458.3 140.7,459.4 137.7,460.5 134.7,461.6 131.7,462.8 128.7,464 125.6,465.3 122.6,466.5 119.6,467.9 116.6,469.3 113.6,470.8 110.6,472.4 107.5,474.4 104.5,476.6 101.5,479.1 98.5,481.6 95.5,483.9 92.5,486 89.5,488.1 86.4,490.1 83.4,491.9 80.4,493.5 77.4,494.9 74.4,496.2 71.4,497.2 68.4,498.3 65.3,499.5" fill="#f8bf3a"/>
<polygon points="56.3,513.8 59.3,512.7 62.3,511.6 65.3,510.6 68.4,509.5 71.4,508.5 74.4,507.5 77.4,506.5 80.4,505.5 83.4,504.4 86.4,503.3 89.5,502.1 92.5,501 95.5,499.7 98.5,498.5 101.5,497.1 104.5,495.8 107.5,494.5 110.6,493.2 113.6,491.9 116.6,490.6 119.6,489.3 122.6,488 125.6,486.8 128.7,485.6 131.7,484.5 134.7,483.4 137.7,482.4 140.7,481.3 143.7,480.3 146.7,479.4 149.8,478.4 152.8,477.5 155.8,476.7 158.8,475.8 161.8,475 164.8,474.2 167.8,473.4 170.9,472.6 173.9,471.9 176.9,471.2 179.9,470.6 182.9,470 185.9,469.3 188.9,468.8 192,468.2 195,467.6 198,467.1 201,466.6 204,466.1 207,465.6 210,465.2 213.1,464.7 216.1,464.3 219.1,463.9 222.1,463.5 225.1,463.1 228.1,462.7 231.1,462.3 234.2,462 237.2,461.6 240.2,461.3 243.2,461 246.2,460.7 249.2,460.5 252.2,460.2 255.3,460 258.3,459.8 261.3,459.5 264.3,459.3 267.3,459.1 270.3,459 273.4,458.8 276.4,458.6 279.4,458.5 282.4,458.3 285.4,458.2 288.4,458 291.4,457.9 294.5,457.7 297.5,457.6 300.5,457.5 303.5,457.4 306.5,457.3 309.5,457.1 312.5,457 315.6,456.9 318.6,456.8 321.6,456.7 324.6,456.6 324.6,480.2 321.6,480.5 318.6,480.8 315.6,481.1 312.5,481.3 309.5,481.6 306.5,481.9 303.5,482.2 300.5,482.5 297.5,482.8 294.5,483 291.4,483.3 288.4,483.6 285.4,483.9 282.4,484.2 279.4,484.5 276.4,484.8 273.4,485.1 270.3,485.4 267.3,485.7 264.3,486 261.3,486.4 258.3,486.7 255.3,487 252.2,487.4 249.2,487.7 246.2,488 243.2,488.4 240.2,488.7 237.2,489.1 234.2,489.5 231.1,489.8 228.1,490.2 225.1,490.5 222.1,490.9 219.1,491.3 216.1,491.7 213.1,492 210,492.4 207,492.8 204,493.2 201,493.6 198,493.9 195,494.3 192,494.7 188.9,495.1 185.9,495.5 182.9,495.8 179.9,496.2 176.9,496.7 173.9,497.1 170.9,497.5 167.8,498 164.8,498.4 161.8,498.9 158.8,499.4 155.8,499.8 152.8,500.3 149.8,500.9 146.7,501.4 143.7,501.9 140.7,502.5 137.7,503.1 134.7,503.7 131.7,504.3 128.7,504.9 125.6,505.5 122.6,506.2 119.6,506.9 116.6,507.6 113.6,508.2 110.6,508.9 107.5,509.5 104.5,510.1 101.5,510.7 98.5,511.3 95.5,511.9 92.5,512.6 89.5,513.2 86.4,513.9 83.4,514.7 80.4,515.4 77.4,516.3 74.4,517.2 71.4,518.1 68.4,519 65.3,520 62.3,521.1 59.3,522.1 56.3,523.3" fill="#f8bf3a"/>
<polygon points="68.4,491.4 71.4,488 74.4,484.6 77.4,481.5 80.4,478.6 83.4,476 86.4,473.6 89.5,471.3 92.5,469.1 95.5,466.8 98.5,464.6 101.5,462.4 104.5,460.2 107.5,458 110.6,455.9 113.6,453.8 116.6,451.7 119.6,449.7 122.6,447.6 125.6,445.6 128.7,443.6 131.7,441.7 134.7,439.7 137.7,437.8 140.7,435.9 143.7,434 146.7,432.1 149.8,430.2 152.8,428.4 155.8,426.5 158.8,424.7 161.8,422.9 164.8,421.1 167.8,419.3 170.9,417.5 173.9,415.8 176.9,414.1 179.9,412.4 182.9,410.8 185.9,409.1 188.9,407.5 192,405.9 195,404.4 198,402.9 201,401.4 204,400 207,398.7 210,397.3 213.1,396 216.1,394.8 219.1,393.5 222.1,392.3 225.1,391 228.1,389.8 231.1,388.6 234.2,387.4 237.2,386.3 240.2,385.1 243.2,384 246.2,382.8 249.2,381.7 252.2,380.6 255.3,379.5 258.3,378.5 261.3,377.4 264.3,376.4 267.3,375.3 270.3,374.3 273.4,373.3 276.4,372.3 279.4,371.3 282.4,370.3 285.4,369.4 288.4,368.4 291.4,367.4 294.5,366.5 297.5,365.5 300.5,364.6 303.5,363.6 306.5,362.7 309.5,361.7 312.5,360.8 315.6,359.8 318.6,358.9 321.6,358 324.6,357 324.6,409.7 321.6,410.4 318.6,411.1 315.6,411.8 312.5,412.5 309.5,413.2 306.5,413.9 303.5,414.6 300.5,415.2 297.5,415.9 294.5,416.6 291.4,417.3 288.4,417.9 285.4,418.6 282.4,419.2 279.4,419.9 276.4,420.6 273.4,421.2 270.3,421.9 267.3,422.5 264.3,423.1 261.3,423.8 258.3,424.4 255.3,425.1 252.2,425.8 249.2,426.4 246.2,427.2 243.2,427.9 240.2,428.6 237.2,429.4 234.2,430.1 231.1,430.9 228.1,431.7 225.1,432.4 222.1,433.2 219.1,434.1 216.1,434.9 213.1,435.7 210,436.6 207,437.4 204,438.3 201,439.2 198,440.1 195,441 192,441.9 188.9,442.8 185.9,443.7 182.9,444.7 179.9,445.6 176.9,446.6 173.9,447.6 170.9,448.5 167.8,449.5 164.8,450.5 161.8,451.5 158.8,452.5 155.8,453.6 152.8,454.6 149.8,455.7 146.7,456.7 143.7,457.8 140.7,458.9 137.7,460 134.7,461.1 131.7,462.3 128.7,463.5 125.6,464.8 122.6,466 119.6,467.4 116.6,468.8 113.6,470.3 110.6,471.9 107.5,473.8 104.5,476.1 101.5,478.6 98.5,481.1 95.5,483.4 92.5,485.5 89.5,487.6 86.4,489.6 83.4,491.4 80.4,493 77.4,494.4 74.4,495.7 71.4,496.7 68.4,497.9" fill="#f8a838"/>
<polygon points="56.3,514.2 59.3,513.1 62.3,512 65.3,511 68.4,509.9 71.4,508.9 74.4,507.9 77.4,506.9 80.4,505.9 83.4,504.9 86.4,503.7 89.5,502.6 92.5,501.4 95.5,500.2 98.5,498.9 101.5,497.6 104.5,496.2 107.5,494.9 110.6,493.6 113.6,492.3 116.6,491 119.6,489.7 122.6,488.5 125.6,487.2 128.7,486.1 131.7,485 134.7,483.9 137.7,482.8 140.7,481.8 143.7,480.8 146.7,479.8 149.8,478.9 152.8,478 155.8,477.1 158.8,476.3 161.8,475.4 164.8,474.6 167.8,473.8 170.9,473.1 173.9,472.4 176.9,471.7 179.9,471 182.9,470.4 185.9,469.8 188.9,469.2 192,468.6 195,468.1 198,467.6 201,467.1 204,466.6 207,466.1 210,465.6 213.1,465.2 216.1,464.7 219.1,464.3 222.1,463.9 225.1,463.5 228.1,463.1 231.1,462.8 234.2,462.4 237.2,462.1 240.2,461.8 243.2,461.5 246.2,461.2 249.2,460.9 252.2,460.7 255.3,460.4 258.3,460.2 261.3,460 264.3,459.8 267.3,459.6 270.3,459.4 273.4,459.2 276.4,459.1 279.4,458.9 282.4,458.7 285.4,458.6 288.4,458.4 291.4,458.3 294.5,458.2 297.5,458 300.5,457.9 303.5,457.8 306.5,457.7 309.5,457.6 312.5,457.5 315.6,457.4 318.6,457.3 321.6,457.2 324.6,457.1 324.6,480 321.6,480.3 318.6,480.6 315.6,480.9 312.5,481.1 309.5,481.4 306.5,481.7 303.5,482 300.5,482.3 297.5,482.6 294.5,482.8 291.4,483.1 288.4,483.4 285.4,483.7 282.4,484 279.4,484.3 276.4,484.6 273.4,484.9 270.3,485.2 267.3,485.5 264.3,485.8 261.3,486.2 258.3,486.5 255.3,486.8 252.2,487.2 249.2,487.5 246.2,487.8 243.2,488.2 240.2,488.5 237.2,488.9 234.2,489.2 231.1,489.6 228.1,490 225.1,490.3 222.1,490.7 219.1,491.1 216.1,491.4 213.1,491.8 210,492.2 207,492.6 204,493 201,493.3 198,493.7 195,494.1 192,494.5 188.9,494.8 185.9,495.2 182.9,495.6 179.9,496 176.9,496.4 173.9,496.8 170.9,497.3 167.8,497.7 164.8,498.2 161.8,498.6 158.8,499.1 155.8,499.6 152.8,500.1 149.8,500.6 146.7,501.2 143.7,501.7 140.7,502.3 137.7,502.8 134.7,503.4 131.7,504 128.7,504.7 125.6,505.3 122.6,506 119.6,506.6 116.6,507.3 113.6,508 110.6,508.7 107.5,509.3 104.5,509.9 101.5,510.5 98.5,511.1 95.5,511.7 92.5,512.3 89.5,513 86.4,513.7 83.4,514.4 80.4,515.2 77.4,516 74.4,516.9 71.4,517.9 68.4,518.8 65.3,519.8 62.3,520.8 59.3,521.9 56.3,523" fill="#f8a838"/>
<polygon points="74.4,485.3 77.4,482.3 80.4,479.4 83.4,476.8 86.4,474.4 89.5,472.1 92.5,469.8 95.5,467.6 98.5,465.4 101.5,463.1 104.5,460.9 107.5,458.8 110.6,456.6 113.6,454.5 116.6,452.4 119.6,450.4 122.6,448.3 125.6,446.3 128.7,444.3 131.7,442.3 134.7,440.4 137.7,438.5 140.7,436.5 143.7,434.6 146.7,432.7 149.8,430.9 152.8,429 155.8,427.2 158.8,425.3 161.8,423.5 164.8,421.7 167.8,419.9 170.9,418.1 173.9,416.4 176.9,414.7 179.9,413 182.9,411.4 185.9,409.7 188.9,408.1 192,406.5 195,405 198,403.5 201,402 204,400.6 207,399.3 210,397.9 213.1,396.6 216.1,395.4 219.1,394.1 222.1,392.9 225.1,391.6 228.1,390.4 231.1,389.2 234.2,388 237.2,386.9 240.2,385.7 243.2,384.6 246.2,383.5 249.2,382.4 252.2,381.3 255.3,380.2 258.3,379.1 261.3,378.1 264.3,377 267.3,376 270.3,375 273.4,374 276.4,373 279.4,372 282.4,371 285.4,370.1 288.4,369.1 291.4,368.2 294.5,367.3 297.5,366.3 300.5,365.4 303.5,364.4 306.5,363.5 309.5,362.6 312.5,361.6 315.6,360.7 318.6,359.8 321.6,358.8 324.6,357.9 324.6,409.2 321.6,409.9 318.6,410.6 315.6,411.3 312.5,412 309.5,412.7 306.5,413.4 303.5,414.1 300.5,414.7 297.5,415.4 294.5,416.1 291.4,416.8 288.4,417.4 285.4,418.1 282.4,418.7 279.4,419.4 276.4,420.1 273.4,420.7 270.3,421.4 267.3,422 264.3,422.6 261.3,423.3 258.3,423.9 255.3,424.6 252.2,425.2 249.2,425.9 246.2,426.6 243.2,427.4 240.2,428.1 237.2,428.8 234.2,429.6 231.1,430.4 228.1,431.1 225.1,431.9 222.1,432.7 219.1,433.5 216.1,434.4 213.1,435.2 210,436.1 207,436.9 204,437.8 201,438.7 198,439.6 195,440.5 192,441.4 188.9,442.3 185.9,443.2 182.9,444.1 179.9,445.1 176.9,446.1 173.9,447 170.9,448 167.8,449 164.8,450 161.8,451 158.8,452 155.8,453 152.8,454.1 149.8,455.1 146.7,456.2 143.7,457.3 140.7,458.4 137.7,459.5 134.7,460.6 131.7,461.8 128.7,463 125.6,464.2 122.6,465.5 119.6,466.8 116.6,468.2 113.6,469.8 110.6,471.4 107.5,473.3 104.5,475.6 101.5,478.1 98.5,480.6 95.5,482.9 92.5,485 89.5,487.1 86.4,489.1 83.4,490.9 80.4,492.6 77.4,494 74.4,495.3" fill="#f58c39"/>
<polygon points="56.3,514.6 59.3,513.5 62.3,512.4 65.3,511.4 68.4,510.4 71.4,509.3 74.4,508.3 77.4,507.4 80.4,506.3 83.4,505.3 86.4,504.2 89.5,503 92.5,501.8 95.5,500.6 98.5,499.3 101.5,498 104.5,496.7 107.5,495.3 110.6,494 113.6,492.7 116.6,491.4 119.6,490.2 122.6,488.9 125.6,487.7 128.7,486.5 131.7,485.4 134.7,484.3 137.7,483.3 140.7,482.2 143.7,481.2 146.7,480.3 149.8,479.3 152.8,478.4 155.8,477.6 158.8,476.7 161.8,475.9 164.8,475.1 167.8,474.3 170.9,473.5 173.9,472.8 176.9,472.2 179.9,471.5 182.9,470.9 185.9,470.3 188.9,469.7 192,469.1 195,468.5 198,468 201,467.5 204,467 207,466.5 210,466.1 213.1,465.6 216.1,465.2 219.1,464.7 222.1,464.3 225.1,464 228.1,463.6 231.1,463.2 234.2,462.9 237.2,462.5 240.2,462.2 243.2,461.9 246.2,461.6 249.2,461.3 252.2,461.1 255.3,460.9 258.3,460.6 261.3,460.4 264.3,460.2 267.3,460 270.3,459.8 273.4,459.7 276.4,459.5 279.4,459.3 282.4,459.2 285.4,459 288.4,458.9 291.4,458.7 294.5,458.6 297.5,458.5 300.5,458.4 303.5,458.2 306.5,458.1 309.5,458 312.5,457.9 315.6,457.8 318.6,457.7 321.6,457.6 324.6,457.5 324.6,479.7 321.6,480 318.6,480.3 315.6,480.5 312.5,480.8 309.5,481.1 306.5,481.4 303.5,481.7 300.5,482 297.5,482.3 294.5,482.5 291.4,482.8 288.4,483.1 285.4,483.4 282.4,483.7 279.4,484 276.4,484.3 273.4,484.6 270.3,484.9 267.3,485.2 264.3,485.5 261.3,485.9 258.3,486.2 255.3,486.5 252.2,486.9 249.2,487.2 246.2,487.5 243.2,487.9 240.2,488.2 237.2,488.6 234.2,488.9 231.1,489.3 228.1,489.6 225.1,490 222.1,490.4 219.1,490.7 216.1,491.1 213.1,491.5 210,491.9 207,492.3 204,492.6 201,493 198,493.4 195,493.8 192,494.1 188.9,494.5 185.9,494.9 182.9,495.3 179.9,495.7 176.9,496.1 173.9,496.5 170.9,496.9 167.8,497.4 164.8,497.8 161.8,498.3 158.8,498.8 155.8,499.3 152.8,499.8 149.8,500.3 146.7,500.8 143.7,501.4 140.7,501.9 137.7,502.5 134.7,503.1 131.7,503.7 128.7,504.3 125.6,505 122.6,505.6 119.6,506.3 116.6,507 113.6,507.7 110.6,508.3 107.5,509 104.5,509.6 101.5,510.1 98.5,510.7 95.5,511.3 92.5,512 89.5,512.7 86.4,513.4 83.4,514.1 80.4,514.9 77.4,515.7 74.4,516.6 71.4,517.5 68.4,518.5 65.3,519.5 62.3,520.5 59.3,521.6 56.3,522.7" fill="#f58c39"/>
<polygon points="74.4,486.3 77.4,483.3 80.4,480.4 83.4,477.8 86.4,475.4 89.5,473.1 92.5,470.9 95.5,468.6 98.5,466.4 101.5,464.1 104.5,461.9 107.5,459.7 110.6,457.6 113.6,455.5 116.6,453.4 119.6,451.3 122.6,449.3 125.6,447.3 128.7,445.3 131.7,443.3 134.7,441.3 137.7,439.4 140.7,437.4 143.7,435.5 146.7,433.6 149.8,431.8 152.8,429.9 155.8,428 158.8,426.2 161.8,424.3 164.8,422.5 167.8,420.7 170.9,419 173.9,417.2 176.9,415.5 179.9,413.8 182.9,412.2 185.9,410.5 188.9,408.9 192,407.3 195,405.8 198,404.3 201,402.8 204,401.4 207,400.1 210,398.7 213.1,397.4 216.1,396.2 219.1,394.9 222.1,393.7 225.1,392.5 228.1,391.2 231.1,390.1 234.2,388.9 237.2,387.7 240.2,386.6 243.2,385.5 246.2,384.4 249.2,383.3 252.2,382.2 255.3,381.1 258.3,380.1 261.3,379 264.3,378 267.3,377 270.3,375.9 273.4,374.9 276.4,374 279.4,373 282.4,372 285.4,371.1 288.4,370.2 291.4,369.2 294.5,368.3 297.5,367.4 300.5,366.5 303.5,365.5 306.5,364.6 309.5,363.7 312.5,362.8 315.6,361.9 318.6,360.9 321.6,360 324.6,359.1 324.6,409 321.6,409.7 318.6,410.4 315.6,411.1 312.5,411.8 309.5,412.5 306.5,413.1 303.5,413.8 300.5,414.5 297.5,415.2 294.5,415.8 291.4,416.5 288.4,417.2 285.4,417.8 282.4,418.5 279.4,419.1 276.4,419.8 273.4,420.5 270.3,421.1 267.3,421.7 264.3,422.4 261.3,423 258.3,423.7 255.3,424.3 252.2,425 249.2,425.7 246.2,426.4 243.2,427.1 240.2,427.8 237.2,428.6 234.2,429.3 231.1,430.1 228.1,430.9 225.1,431.7 222.1,432.5 219.1,433.3 216.1,434.1 213.1,434.9 210,435.8 207,436.7 204,437.5 201,438.4 198,439.3 195,440.2 192,441.1 188.9,442 185.9,442.9 182.9,443.9 179.9,444.8 176.9,445.8 173.9,446.8 170.9,447.7 167.8,448.7 164.8,449.7 161.8,450.7 158.8,451.7 155.8,452.8 152.8,453.8 149.8,454.9 146.7,456 143.7,457 140.7,458.1 137.7,459.2 134.7,460.3 131.7,461.5 128.7,462.7 125.6,464 122.6,465.3 119.6,466.6 116.6,468 113.6,469.5 110.6,471.2 107.5,473.1 104.5,475.4 101.5,477.8 98.5,480.3 95.5,482.7 92.5,484.8 89.5,486.9 86.4,488.9 83.4,490.7 80.4,492.3 77.4,493.7 74.4,495.1" fill="#f48539"/>
<polygon points="56.3,514.8 59.3,513.7 62.3,512.6 65.3,511.6 68.4,510.6 71.4,509.5 74.4,508.5 77.4,507.6 80.4,506.6 83.4,505.5 86.4,504.4 89.5,503.2 92.5,502 95.5,500.8 98.5,499.5 101.5,498.2 104.5,496.9 107.5,495.6 110.6,494.3 113.6,493 116.6,491.7 119.6,490.4 122.6,489.1 125.6,487.9 128.7,486.8 131.7,485.6 134.7,484.6 137.7,483.5 140.7,482.5 143.7,481.5 146.7,480.5 149.8,479.6 152.8,478.7 155.8,477.8 158.8,476.9 161.8,476.1 164.8,475.3 167.8,474.5 170.9,473.8 173.9,473.1 176.9,472.4 179.9,471.7 182.9,471.1 185.9,470.5 188.9,469.9 192,469.3 195,468.8 198,468.2 201,467.7 204,467.2 207,466.8 210,466.3 213.1,465.8 216.1,465.4 219.1,465 222.1,464.6 225.1,464.2 228.1,463.8 231.1,463.4 234.2,463.1 237.2,462.8 240.2,462.4 243.2,462.1 246.2,461.8 249.2,461.6 252.2,461.3 255.3,461.1 258.3,460.9 261.3,460.6 264.3,460.4 267.3,460.3 270.3,460.1 273.4,459.9 276.4,459.7 279.4,459.6 282.4,459.4 285.4,459.3 288.4,459.1 291.4,459 294.5,458.8 297.5,458.7 300.5,458.6 303.5,458.5 306.5,458.3 309.5,458.2 312.5,458.1 315.6,458 318.6,457.9 321.6,457.8 324.6,457.7 324.6,479.3 321.6,479.6 318.6,479.9 315.6,480.1 312.5,480.4 309.5,480.7 306.5,481 303.5,481.3 300.5,481.6 297.5,481.8 294.5,482.1 291.4,482.4 288.4,482.7 285.4,483 282.4,483.3 279.4,483.6 276.4,483.9 273.4,484.2 270.3,484.5 267.3,484.8 264.3,485.1 261.3,485.4 258.3,485.8 255.3,486.1 252.2,486.4 249.2,486.8 246.2,487.1 243.2,487.5 240.2,487.8 237.2,488.2 234.2,488.5 231.1,488.9 228.1,489.2 225.1,489.6 222.1,489.9 219.1,490.3 216.1,490.7 213.1,491.1 210,491.4 207,491.8 204,492.2 201,492.6 198,493 195,493.3 192,493.7 188.9,494.1 185.9,494.5 182.9,494.8 179.9,495.2 176.9,495.6 173.9,496.1 170.9,496.5 167.8,496.9 164.8,497.4 161.8,497.9 158.8,498.3 155.8,498.8 152.8,499.3 149.8,499.8 146.7,500.4 143.7,500.9 140.7,501.5 137.7,502.1 134.7,502.6 131.7,503.3 128.7,503.9 125.6,504.5 122.6,505.2 119.6,505.9 116.6,506.5 113.6,507.2 110.6,507.9 107.5,508.5 104.5,509.1 101.5,509.7 98.5,510.3 95.5,510.9 92.5,511.5 89.5,512.2 86.4,512.9 83.4,513.6 80.4,514.4 77.4,515.3 74.4,516.1 71.4,517.1 68.4,518 65.3,519 62.3,520 59.3,521.1 56.3,522.2" fill="#f48539"/>
<polygon points="77.4,484.2 80.4,480.7 83.4,478 86.4,475.5 89.5,473.2 92.5,471 95.5,468.7 98.5,466.5 101.5,464.2 104.5,462 107.5,459.8 110.6,457.7 113.6,455.6 116.6,453.5 119.6,451.4 122.6,449.4 125.6,447.3 128.7,445.3 131.7,443.4 134.7,441.4 137.7,439.4 140.7,437.5 143.7,435.6 146.7,433.7 149.8,431.8 152.8,429.9 155.8,428.1 158.8,426.2 161.8,424.4 164.8,422.6 167.8,420.8 170.9,419 173.9,417.3 176.9,415.6 179.9,413.9 182.9,412.2 185.9,410.6 188.9,408.9 192,407.3 195,405.8 198,404.3 201,402.8 204,401.4 207,400.1 210,398.7 213.1,397.4 216.1,396.2 219.1,394.9 222.1,393.7 225.1,392.5 228.1,391.2 231.1,390.1 234.2,388.9 237.2,387.7 240.2,386.6 243.2,385.5 246.2,384.4 249.2,383.3 252.2,382.2 255.3,381.1 258.3,380.1 261.3,379 264.3,378 267.3,377 270.3,375.9 273.4,374.9 276.4,374 279.4,373 282.4,372 285.4,371.1 288.4,370.2 291.4,369.2 294.5,368.3 297.5,367.4 300.5,366.5 303.5,365.5 306.5,364.6 309.5,363.7 312.5,362.8 315.6,361.9 318.6,360.9 321.6,360 324.6,359.1 324.6,408.7 321.6,409.4 318.6,410.1 315.6,410.8 312.5,411.5 309.5,412.2 306.5,412.9 303.5,413.5 300.5,414.2 297.5,414.9 294.5,415.6 291.4,416.2 288.4,416.9 285.4,417.6 282.4,418.2 279.4,418.9 276.4,419.5 273.4,420.2 270.3,420.8 267.3,421.5 264.3,422.1 261.3,422.8 258.3,423.4 255.3,424.1 252.2,424.7 249.2,425.4 246.2,426.1 243.2,426.9 240.2,427.6 237.2,428.3 234.2,429.1 231.1,429.9 228.1,430.6 225.1,431.4 222.1,432.2 219.1,433.1 216.1,433.9 213.1,434.7 210,435.6 207,436.4 204,437.3 201,438.2 198,439.1 195,440 192,440.9 188.9,441.8 185.9,442.7 182.9,443.7 179.9,444.6 176.9,445.6 173.9,446.6 170.9,447.5 167.8,448.5 164.8,449.5 161.8,450.5 158.8,451.5 155.8,452.6 152.8,453.6 149.8,454.7 146.7,455.8 143.7,456.8 140.7,457.9 137.7,459 134.7,460.2 131.7,461.4 128.7,462.6 125.6,463.9 122.6,465.1 119.6,466.5 116.6,467.9 113.6,469.4 110.6,471.1 107.5,473 104.5,475.3 101.5,477.7 98.5,480.2 95.5,482.5 92.5,484.6 89.5,486.7 86.4,488.6 83.4,490.4 80.4,491.9 77.4,492.6" fill="#f27739"/>
<polygon points="56.3,514.9 59.3,513.8 62.3,512.8 65.3,511.7 68.4,510.7 71.4,509.7 74.4,508.7 77.4,507.7 80.4,506.7 83.4,505.6 86.4,504.5 89.5,503.4 92.5,502.2 95.5,501 98.5,499.7 101.5,498.4 104.5,497.1 107.5,495.8 110.6,494.5 113.6,493.2 116.6,491.9 119.6,490.6 122.6,489.4 125.6,488.2 128.7,487 131.7,485.9 134.7,484.9 137.7,483.8 140.7,482.8 143.7,481.8 146.7,480.8 149.8,479.9 152.8,479 155.8,478.1 158.8,477.3 161.8,476.5 164.8,475.7 167.8,474.9 170.9,474.1 173.9,473.4 176.9,472.8 179.9,472.1 182.9,471.5 185.9,470.9 188.9,470.3 192,469.7 195,469.2 198,468.6 201,468.1 204,467.6 207,467.1 210,466.7 213.1,466.2 216.1,465.8 219.1,465.4 222.1,465 225.1,464.6 228.1,464.2 231.1,463.8 234.2,463.5 237.2,463.1 240.2,462.8 243.2,462.5 246.2,462.2 249.2,461.9 252.2,461.7 255.3,461.5 258.3,461.2 261.3,461 264.3,460.8 267.3,460.6 270.3,460.4 273.4,460.3 276.4,460.1 279.4,459.9 282.4,459.8 285.4,459.6 288.4,459.5 291.4,459.3 294.5,459.2 297.5,459 300.5,458.9 303.5,458.8 306.5,458.7 309.5,458.6 312.5,458.4 315.6,458.3 318.6,458.2 321.6,458.1 324.6,458 324.6,479.2 321.6,479.4 318.6,479.7 315.6,480 312.5,480.3 309.5,480.6 306.5,480.8 303.5,481.1 300.5,481.4 297.5,481.7 294.5,482 291.4,482.2 288.4,482.5 285.4,482.8 282.4,483.1 279.4,483.4 276.4,483.7 273.4,484 270.3,484.3 267.3,484.6 264.3,485 261.3,485.3 258.3,485.6 255.3,485.9 252.2,486.3 249.2,486.6 246.2,486.9 243.2,487.3 240.2,487.6 237.2,488 234.2,488.3 231.1,488.7 228.1,489 225.1,489.4 222.1,489.8 219.1,490.1 216.1,490.5 213.1,490.9 210,491.3 207,491.6 204,492 201,492.4 198,492.8 195,493.1 192,493.5 188.9,493.9 185.9,494.3 182.9,494.7 179.9,495.1 176.9,495.5 173.9,495.9 170.9,496.3 167.8,496.8 164.8,497.2 161.8,497.7 158.8,498.2 155.8,498.7 152.8,499.2 149.8,499.7 146.7,500.2 143.7,500.8 140.7,501.3 137.7,501.9 134.7,502.5 131.7,503.1 128.7,503.7 125.6,504.4 122.6,505 119.6,505.7 116.6,506.4 113.6,507.1 110.6,507.8 107.5,508.4 104.5,509 101.5,509.6 98.5,510.2 95.5,510.8 92.5,511.5 89.5,512.1 86.4,512.8 83.4,513.6 80.4,514.4 77.4,515.2 74.4,516.1 71.4,517 68.4,518 65.3,518.9 62.3,520 59.3,521 56.3,522.1" fill="#f27739"/>
<polygon points="77.4,488.2 80.4,481.5 83.4,478.5 86.4,475.9 89.5,473.5 92.5,471.2 95.5,468.9 98.5,466.6 101.5,464.4 104.5,462.2 107.5,460 110.6,457.8 113.6,455.7 116.6,453.6 119.6,451.6 122.6,449.5 125.6,447.5 128.7,445.5 131.7,443.6 134.7,441.6 137.7,439.6 140.7,437.7 143.7,435.8 146.7,433.9 149.8,432 152.8,430.1 155.8,428.3 158.8,426.4 161.8,424.5 164.8,422.7 167.8,420.9 170.9,419.1 173.9,417.4 176.9,415.7 179.9,414 182.9,412.3 185.9,410.6 188.9,409 192,407.4 195,405.9 198,404.4 201,402.9 204,401.5 207,400.1 210,398.8 213.1,397.5 216.1,396.2 219.1,395 222.1,393.7 225.1,392.5 228.1,391.3 231.1,390.1 234.2,388.9 237.2,387.8 240.2,386.6 243.2,385.5 246.2,384.4 249.2,383.3 252.2,382.2 255.3,381.1 258.3,380.1 261.3,379 264.3,378 267.3,377 270.3,375.9 273.4,374.9 276.4,374 279.4,373 282.4,372 285.4,371.1 288.4,370.2 291.4,369.2 294.5,368.3 297.5,367.4 300.5,366.5 303.5,365.5 306.5,364.6 309.5,363.7 312.5,362.8 315.6,361.9 318.6,361 321.6,360 324.6,359.1 324.6,408.1 321.6,408.8 318.6,409.5 315.6,410.2 312.5,410.9 309.5,411.6 306.5,412.3 303.5,412.9 300.5,413.6 297.5,414.3 294.5,415 291.4,415.7 288.4,416.3 285.4,417 282.4,417.7 279.4,418.3 276.4,419 273.4,419.6 270.3,420.3 267.3,420.9 264.3,421.6 261.3,422.2 258.3,422.9 255.3,423.5 252.2,424.2 249.2,424.9 246.2,425.6 243.2,426.3 240.2,427.1 237.2,427.8 234.2,428.6 231.1,429.4 228.1,430.1 225.1,430.9 222.1,431.7 219.1,432.6 216.1,433.4 213.1,434.2 210,435.1 207,435.9 204,436.8 201,437.7 198,438.6 195,439.5 192,440.4 188.9,441.3 185.9,442.3 182.9,443.2 179.9,444.2 176.9,445.1 173.9,446.1 170.9,447.1 167.8,448.1 164.8,449.1 161.8,450.1 158.8,451.1 155.8,452.1 152.8,453.2 149.8,454.3 146.7,455.4 143.7,456.5 140.7,457.6 137.7,458.7 134.7,459.8 131.7,461 128.7,462.3 125.6,463.6 122.6,464.8 119.6,466.2 116.6,467.6 113.6,469.1 110.6,470.8 107.5,472.7 104.5,475 101.5,477.5 98.5,479.9 95.5,482.3 92.5,484.4 89.5,486.3 86.4,488.2 83.4,489.8 80.4,490.9 77.4,488.4" fill="#f1693a"/>
<polygon points="56.3,515.2 59.3,514.1 62.3,513 65.3,512 68.4,510.9 71.4,509.9 74.4,508.9 77.4,507.9 80.4,506.9 83.4,505.9 86.4,504.8 89.5,503.6 92.5,502.5 95.5,501.3 98.5,500 101.5,498.8 104.5,497.5 107.5,496.2 110.6,494.9 113.6,493.6 116.6,492.4 119.6,491.1 122.6,489.9 125.6,488.7 128.7,487.5 131.7,486.5 134.7,485.4 137.7,484.3 140.7,483.3 143.7,482.4 146.7,481.4 149.8,480.5 152.8,479.6 155.8,478.7 158.8,477.9 161.8,477.1 164.8,476.3 167.8,475.5 170.9,474.8 173.9,474.1 176.9,473.4 179.9,472.8 182.9,472.1 185.9,471.5 188.9,470.9 192,470.4 195,469.8 198,469.3 201,468.8 204,468.3 207,467.8 210,467.4 213.1,466.9 216.1,466.5 219.1,466 222.1,465.6 225.1,465.3 228.1,464.9 231.1,464.5 234.2,464.2 237.2,463.8 240.2,463.5 243.2,463.2 246.2,462.9 249.2,462.6 252.2,462.4 255.3,462.1 258.3,461.9 261.3,461.7 264.3,461.5 267.3,461.3 270.3,461.1 273.4,460.9 276.4,460.7 279.4,460.5 282.4,460.4 285.4,460.2 288.4,460 291.4,459.9 294.5,459.8 297.5,459.6 300.5,459.5 303.5,459.4 306.5,459.2 309.5,459.1 312.5,459 315.6,458.9 318.6,458.8 321.6,458.7 324.6,458.6 324.6,478.9 321.6,479.1 318.6,479.4 315.6,479.7 312.5,480 309.5,480.2 306.5,480.5 303.5,480.8 300.5,481.1 297.5,481.3 294.5,481.6 291.4,481.9 288.4,482.2 285.4,482.5 282.4,482.8 279.4,483 276.4,483.3 273.4,483.6 270.3,483.9 267.3,484.3 264.3,484.6 261.3,484.9 258.3,485.2 255.3,485.6 252.2,485.9 249.2,486.2 246.2,486.6 243.2,486.9 240.2,487.2 237.2,487.6 234.2,487.9 231.1,488.3 228.1,488.6 225.1,489 222.1,489.4 219.1,489.7 216.1,490.1 213.1,490.5 210,490.9 207,491.2 204,491.6 201,492 198,492.4 195,492.7 192,493.1 188.9,493.5 185.9,493.9 182.9,494.3 179.9,494.7 176.9,495.1 173.9,495.5 170.9,495.9 167.8,496.4 164.8,496.9 161.8,497.3 158.8,497.8 155.8,498.3 152.8,498.8 149.8,499.3 146.7,499.9 143.7,500.4 140.7,501 137.7,501.6 134.7,502.2 131.7,502.8 128.7,503.4 125.6,504.1 122.6,504.8 119.6,505.5 116.6,506.2 113.6,506.9 110.6,507.5 107.5,508.2 104.5,508.8 101.5,509.4 98.5,510 95.5,510.6 92.5,511.3 89.5,512 86.4,512.7 83.4,513.4 80.4,514.2 77.4,515.1 74.4,515.9 71.4,516.9 68.4,517.8 65.3,518.8 62.3,519.8 59.3,520.9 56.3,522" fill="#f1693a"/>
<polygon points="80.4,483 83.4,479.3 86.4,476.5 89.5,473.9 92.5,471.5 95.5,469.2 98.5,466.9 101.5,464.7 104.5,462.4 107.5,460.2 110.6,458.1 113.6,456 116.6,453.9 119.6,451.9 122.6,449.8 125.6,447.8 128.7,445.8 131.7,443.9 134.7,441.9 137.7,439.9 140.7,438 143.7,436.1 146.7,434.2 149.8,432.3 152.8,430.4 155.8,428.6 158.8,426.7 161.8,424.8 164.8,423 167.8,421.2 170.9,419.4 173.9,417.6 176.9,415.9 179.9,414.2 182.9,412.5 185.9,410.8 188.9,409.2 192,407.6 195,406 198,404.5 201,403 204,401.6 207,400.2 210,398.9 213.1,397.6 216.1,396.3 219.1,395 222.1,393.8 225.1,392.5 228.1,391.3 231.1,390.1 234.2,389 237.2,387.8 240.2,386.7 243.2,385.5 246.2,384.4 249.2,383.3 252.2,382.2 255.3,381.1 258.3,380.1 261.3,379 264.3,378 267.3,377 270.3,376 273.4,375 276.4,374 279.4,373 282.4,372 285.4,371.1 288.4,370.2 291.4,369.2 294.5,368.3 297.5,367.4 300.5,366.5 303.5,365.5 306.5,364.6 309.5,363.7 312.5,362.8 315.6,361.9 318.6,361 321.6,360 324.6,359.1 324.6,407.2 321.6,407.9 318.6,408.6 315.6,409.3 312.5,410 309.5,410.7 306.5,411.4 303.5,412.1 300.5,412.8 297.5,413.5 294.5,414.2 291.4,414.8 288.4,415.5 285.4,416.2 282.4,416.9 279.4,417.5 276.4,418.2 273.4,418.9 270.3,419.5 267.3,420.2 264.3,420.8 261.3,421.5 258.3,422.1 255.3,422.8 252.2,423.5 249.2,424.2 246.2,424.9 243.2,425.6 240.2,426.4 237.2,427.1 234.2,427.9 231.1,428.7 228.1,429.4 225.1,430.2 222.1,431 219.1,431.9 216.1,432.7 213.1,433.5 210,434.4 207,435.3 204,436.1 201,437 198,437.9 195,438.8 192,439.7 188.9,440.7 185.9,441.6 182.9,442.5 179.9,443.5 176.9,444.5 173.9,445.4 170.9,446.4 167.8,447.4 164.8,448.4 161.8,449.4 158.8,450.5 155.8,451.5 152.8,452.6 149.8,453.7 146.7,454.8 143.7,455.9 140.7,457 137.7,458.2 134.7,459.4 131.7,460.6 128.7,461.8 125.6,463.1 122.6,464.4 119.6,465.8 116.6,467.2 113.6,468.8 110.6,470.4 107.5,472.4 104.5,474.7 101.5,477.1 98.5,479.6 95.5,481.9 92.5,483.9 89.5,485.8 86.4,487.5 83.4,488.8 80.4,489.3" fill="#ef5f3a"/>
<polygon points="56.3,515.4 59.3,514.4 62.3,513.3 65.3,512.3 68.4,511.2 71.4,510.2 74.4,509.2 77.4,508.2 80.4,507.2 83.4,506.2 86.4,505.1 89.5,504 92.5,502.8 95.5,501.7 98.5,500.5 101.5,499.2 104.5,497.9 107.5,496.7 110.6,495.4 113.6,494.2 116.6,492.9 119.6,491.7 122.6,490.5 125.6,489.3 128.7,488.2 131.7,487.1 134.7,486.1 137.7,485 140.7,484 143.7,483.1 146.7,482.1 149.8,481.2 152.8,480.4 155.8,479.5 158.8,478.7 161.8,477.9 164.8,477.1 167.8,476.3 170.9,475.6 173.9,474.9 176.9,474.2 179.9,473.6 182.9,473 185.9,472.4 188.9,471.8 192,471.2 195,470.7 198,470.2 201,469.7 204,469.2 207,468.7 210,468.2 213.1,467.8 216.1,467.3 219.1,466.9 222.1,466.5 225.1,466.1 228.1,465.7 231.1,465.4 234.2,465 237.2,464.7 240.2,464.3 243.2,464 246.2,463.7 249.2,463.4 252.2,463.2 255.3,462.9 258.3,462.7 261.3,462.5 264.3,462.3 267.3,462.1 270.3,461.9 273.4,461.7 276.4,461.5 279.4,461.3 282.4,461.1 285.4,461 288.4,460.8 291.4,460.6 294.5,460.5 297.5,460.4 300.5,460.2 303.5,460.1 306.5,459.9 309.5,459.8 312.5,459.7 315.6,459.6 318.6,459.5 321.6,459.3 324.6,459.2 324.6,478.4 321.6,478.7 318.6,479 315.6,479.2 312.5,479.5 309.5,479.8 306.5,480 303.5,480.3 300.5,480.6 297.5,480.9 294.5,481.1 291.4,481.4 288.4,481.7 285.4,482 282.4,482.3 279.4,482.5 276.4,482.8 273.4,483.1 270.3,483.4 267.3,483.7 264.3,484.1 261.3,484.4 258.3,484.7 255.3,485 252.2,485.3 249.2,485.7 246.2,486 243.2,486.3 240.2,486.7 237.2,487 234.2,487.4 231.1,487.7 228.1,488.1 225.1,488.4 222.1,488.8 219.1,489.2 216.1,489.5 213.1,489.9 210,490.3 207,490.7 204,491 201,491.4 198,491.8 195,492.2 192,492.6 188.9,492.9 185.9,493.3 182.9,493.7 179.9,494.1 176.9,494.5 173.9,495 170.9,495.4 167.8,495.9 164.8,496.3 161.8,496.8 158.8,497.3 155.8,497.8 152.8,498.3 149.8,498.8 146.7,499.4 143.7,500 140.7,500.5 137.7,501.1 134.7,501.7 131.7,502.4 128.7,503 125.6,503.7 122.6,504.4 119.6,505.1 116.6,505.8 113.6,506.5 110.6,507.2 107.5,507.8 104.5,508.5 101.5,509.1 98.5,509.7 95.5,510.4 92.5,511 89.5,511.7 86.4,512.5 83.4,513.2 80.4,514 77.4,514.8 74.4,515.7 71.4,516.7 68.4,517.6 65.3,518.6 62.3,519.6 59.3,520.7 56.3,521.8" fill="#ef5f3a"/>
<polygon points="83.4,480.6 86.4,477.3 89.5,474.5 92.5,471.9 95.5,469.6 98.5,467.3 101.5,465 104.5,462.8 107.5,460.6 110.6,458.4 113.6,456.3 116.6,454.3 119.6,452.2 122.6,450.2 125.6,448.2 128.7,446.3 131.7,444.3 134.7,442.3 137.7,440.4 140.7,438.4 143.7,436.5 146.7,434.6 149.8,432.7 152.8,430.9 155.8,429 158.8,427.1 161.8,425.2 164.8,423.4 167.8,421.5 170.9,419.7 173.9,418 176.9,416.2 179.9,414.5 182.9,412.8 185.9,411.1 188.9,409.4 192,407.8 195,406.2 198,404.7 201,403.2 204,401.8 207,400.4 210,399.1 213.1,397.7 216.1,396.4 219.1,395.2 222.1,393.9 225.1,392.7 228.1,391.4 231.1,390.2 234.2,389 237.2,387.9 240.2,386.7 243.2,385.6 246.2,384.5 249.2,383.4 252.2,382.3 255.3,381.2 258.3,380.1 261.3,379.1 264.3,378 267.3,377 270.3,376 273.4,375 276.4,374 279.4,373 282.4,372.1 285.4,371.1 288.4,370.2 291.4,369.3 294.5,368.3 297.5,367.4 300.5,366.5 303.5,365.6 306.5,364.6 309.5,363.7 312.5,362.8 315.6,361.9 318.6,361 321.6,360.1 324.6,359.2 324.6,406.2 321.6,406.9 318.6,407.6 315.6,408.3 312.5,409 309.5,409.7 306.5,410.4 303.5,411.1 300.5,411.8 297.5,412.5 294.5,413.2 291.4,413.8 288.4,414.5 285.4,415.2 282.4,415.9 279.4,416.5 276.4,417.2 273.4,417.9 270.3,418.6 267.3,419.2 264.3,419.9 261.3,420.5 258.3,421.2 255.3,421.9 252.2,422.6 249.2,423.3 246.2,424 243.2,424.7 240.2,425.5 237.2,426.2 234.2,427 231.1,427.8 228.1,428.6 225.1,429.4 222.1,430.2 219.1,431 216.1,431.8 213.1,432.7 210,433.5 207,434.4 204,435.3 201,436.2 198,437.1 195,438 192,438.9 188.9,439.8 185.9,440.8 182.9,441.7 179.9,442.7 176.9,443.6 173.9,444.6 170.9,445.6 167.8,446.6 164.8,447.6 161.8,448.6 158.8,449.7 155.8,450.7 152.8,451.8 149.8,453 146.7,454.1 143.7,455.2 140.7,456.4 137.7,457.6 134.7,458.8 131.7,460 128.7,461.3 125.6,462.6 122.6,463.9 119.6,465.3 116.6,466.8 113.6,468.3 110.6,470 107.5,471.9 104.5,474.2 101.5,476.6 98.5,479.1 95.5,481.4 92.5,483.4 89.5,485.1 86.4,486.6 83.4,487.4" fill="#ee5a39"/>
<polygon points="56.3,515.8 59.3,514.7 62.3,513.7 65.3,512.6 68.4,511.6 71.4,510.6 74.4,509.6 77.4,508.6 80.4,507.6 83.4,506.6 86.4,505.5 89.5,504.4 92.5,503.3 95.5,502.1 98.5,500.9 101.5,499.7 104.5,498.5 107.5,497.2 110.6,496 113.6,494.8 116.6,493.6 119.6,492.4 122.6,491.2 125.6,490 128.7,488.9 131.7,487.9 134.7,486.8 137.7,485.8 140.7,484.9 143.7,483.9 146.7,483 149.8,482.1 152.8,481.3 155.8,480.4 158.8,479.6 161.8,478.8 164.8,478 167.8,477.3 170.9,476.6 173.9,475.9 176.9,475.2 179.9,474.6 182.9,474 185.9,473.4 188.9,472.8 192,472.2 195,471.7 198,471.2 201,470.7 204,470.2 207,469.7 210,469.2 213.1,468.8 216.1,468.4 219.1,467.9 222.1,467.5 225.1,467.1 228.1,466.8 231.1,466.4 234.2,466 237.2,465.7 240.2,465.3 243.2,465 246.2,464.7 249.2,464.4 252.2,464.2 255.3,463.9 258.3,463.7 261.3,463.4 264.3,463.2 267.3,463 270.3,462.8 273.4,462.6 276.4,462.4 279.4,462.2 282.4,462 285.4,461.9 288.4,461.7 291.4,461.5 294.5,461.4 297.5,461.2 300.5,461.1 303.5,460.9 306.5,460.8 309.5,460.6 312.5,460.5 315.6,460.4 318.6,460.3 321.6,460.1 324.6,460 324.6,477.9 321.6,478.1 318.6,478.4 315.6,478.7 312.5,478.9 309.5,479.2 306.5,479.5 303.5,479.7 300.5,480 297.5,480.3 294.5,480.5 291.4,480.8 288.4,481.1 285.4,481.3 282.4,481.6 279.4,481.9 276.4,482.2 273.4,482.5 270.3,482.8 267.3,483.1 264.3,483.4 261.3,483.7 258.3,484 255.3,484.3 252.2,484.7 249.2,485 246.2,485.3 243.2,485.6 240.2,486 237.2,486.3 234.2,486.7 231.1,487 228.1,487.4 225.1,487.7 222.1,488.1 219.1,488.4 216.1,488.8 213.1,489.2 210,489.6 207,489.9 204,490.3 201,490.7 198,491.1 195,491.5 192,491.8 188.9,492.2 185.9,492.6 182.9,493 179.9,493.4 176.9,493.8 173.9,494.3 170.9,494.7 167.8,495.2 164.8,495.7 161.8,496.1 158.8,496.6 155.8,497.2 152.8,497.7 149.8,498.2 146.7,498.8 143.7,499.3 140.7,499.9 137.7,500.6 134.7,501.2 131.7,501.8 128.7,502.5 125.6,503.1 122.6,503.8 119.6,504.6 116.6,505.3 113.6,506 110.6,506.7 107.5,507.4 104.5,508.1 101.5,508.7 98.5,509.4 95.5,510 92.5,510.7 89.5,511.4 86.4,512.2 83.4,512.9 80.4,513.7 77.4,514.6 74.4,515.5 71.4,516.4 68.4,517.4 65.3,518.4 62.3,519.4 59.3,520.4 56.3,521.5" fill="#ee5a39"/>
<polygon points="83.4,483.2 86.4,478.4 89.5,475.2 92.5,472.5 95.5,470.1 98.5,467.8 101.5,465.5 104.5,463.2 107.5,461 110.6,458.9 113.6,456.8 116.6,454.7 119.6,452.7 122.6,450.7 125.6,448.7 128.7,446.8 131.7,444.8 134.7,442.9 137.7,440.9 140.7,439 143.7,437.1 146.7,435.2 149.8,433.3 152.8,431.4 155.8,429.6 158.8,427.6 161.8,425.8 164.8,423.9 167.8,422 170.9,420.2 173.9,418.4 176.9,416.6 179.9,414.9 182.9,413.2 185.9,411.5 188.9,409.8 192,408.1 195,406.6 198,405 201,403.5 204,402.1 207,400.7 210,399.3 213.1,398 216.1,396.6 219.1,395.4 222.1,394.1 225.1,392.8 228.1,391.6 231.1,390.4 234.2,389.2 237.2,388 240.2,386.8 243.2,385.7 246.2,384.6 249.2,383.5 252.2,382.3 255.3,381.3 258.3,380.2 261.3,379.1 264.3,378.1 267.3,377.1 270.3,376.1 273.4,375 276.4,374.1 279.4,373.1 282.4,372.1 285.4,371.2 288.4,370.2 291.4,369.3 294.5,368.4 297.5,367.4 300.5,366.5 303.5,365.6 306.5,364.7 309.5,363.7 312.5,362.8 315.6,361.9 318.6,361 321.6,360.1 324.6,359.2 324.6,404.9 321.6,405.6 318.6,406.3 315.6,407.1 312.5,407.8 309.5,408.5 306.5,409.2 303.5,409.9 300.5,410.6 297.5,411.3 294.5,412 291.4,412.7 288.4,413.3 285.4,414 282.4,414.7 279.4,415.4 276.4,416.1 273.4,416.8 270.3,417.4 267.3,418.1 264.3,418.8 261.3,419.4 258.3,420.1 255.3,420.8 252.2,421.5 249.2,422.2 246.2,422.9 243.2,423.7 240.2,424.4 237.2,425.2 234.2,425.9 231.1,426.7 228.1,427.5 225.1,428.3 222.1,429.1 219.1,430 216.1,430.8 213.1,431.6 210,432.5 207,433.4 204,434.3 201,435.2 198,436.1 195,437 192,437.9 188.9,438.9 185.9,439.8 182.9,440.7 179.9,441.7 176.9,442.7 173.9,443.7 170.9,444.6 167.8,445.6 164.8,446.7 161.8,447.7 158.8,448.7 155.8,449.8 152.8,450.9 149.8,452.1 146.7,453.2 143.7,454.4 140.7,455.6 137.7,456.8 134.7,458 131.7,459.3 128.7,460.6 125.6,461.9 122.6,463.3 119.6,464.7 116.6,466.2 113.6,467.7 110.6,469.5 107.5,471.4 104.5,473.7 101.5,476.1 98.5,478.5 95.5,480.8 92.5,482.8 89.5,484.3 86.4,485.4 83.4,484.6" fill="#ec5438"/>
<polygon points="56.3,516.2 59.3,515.1 62.3,514.1 65.3,513 68.4,512 71.4,511 74.4,510 77.4,509 80.4,508 83.4,507 86.4,506 89.5,504.9 92.5,503.8 95.5,502.7 98.5,501.5 101.5,500.3 104.5,499.1 107.5,497.9 110.6,496.7 113.6,495.6 116.6,494.4 119.6,493.2 122.6,492 125.6,490.9 128.7,489.8 131.7,488.8 134.7,487.8 137.7,486.8 140.7,485.8 143.7,484.9 146.7,484 149.8,483.1 152.8,482.3 155.8,481.5 158.8,480.7 161.8,479.9 164.8,479.1 167.8,478.4 170.9,477.7 173.9,477 176.9,476.3 179.9,475.7 182.9,475.1 185.9,474.5 188.9,474 192,473.4 195,472.9 198,472.4 201,471.9 204,471.4 207,470.9 210,470.4 213.1,470 216.1,469.5 219.1,469.1 222.1,468.7 225.1,468.3 228.1,467.9 231.1,467.6 234.2,467.2 237.2,466.8 240.2,466.5 243.2,466.2 246.2,465.9 249.2,465.6 252.2,465.3 255.3,465 258.3,464.8 261.3,464.5 264.3,464.3 267.3,464.1 270.3,463.9 273.4,463.7 276.4,463.5 279.4,463.3 282.4,463.1 285.4,462.9 288.4,462.7 291.4,462.5 294.5,462.4 297.5,462.2 300.5,462.1 303.5,461.9 306.5,461.8 309.5,461.6 312.5,461.5 315.6,461.3 318.6,461.2 321.6,461.1 324.6,460.9 324.6,477.2 321.6,477.4 318.6,477.7 315.6,478 312.5,478.2 309.5,478.5 306.5,478.7 303.5,479 300.5,479.3 297.5,479.5 294.5,479.8 291.4,480 288.4,480.3 285.4,480.6 282.4,480.8 279.4,481.1 276.4,481.4 273.4,481.7 270.3,482 267.3,482.3 264.3,482.6 261.3,482.9 258.3,483.2 255.3,483.5 252.2,483.8 249.2,484.1 246.2,484.4 243.2,484.8 240.2,485.1 237.2,485.4 234.2,485.8 231.1,486.1 228.1,486.5 225.1,486.8 222.1,487.2 219.1,487.5 216.1,487.9 213.1,488.3 210,488.7 207,489 204,489.4 201,489.8 198,490.2 195,490.6 192,491 188.9,491.3 185.9,491.7 182.9,492.1 179.9,492.5 176.9,493 173.9,493.4 170.9,493.9 167.8,494.3 164.8,494.8 161.8,495.3 158.8,495.8 155.8,496.4 152.8,496.9 149.8,497.4 146.7,498 143.7,498.6 140.7,499.2 137.7,499.8 134.7,500.5 131.7,501.1 128.7,501.8 125.6,502.5 122.6,503.2 119.6,504 116.6,504.7 113.6,505.5 110.6,506.2 107.5,506.9 104.5,507.6 101.5,508.2 98.5,508.9 95.5,509.6 92.5,510.3 89.5,511.1 86.4,511.8 83.4,512.6 80.4,513.4 77.4,514.3 74.4,515.2 71.4,516.1 68.4,517 65.3,518 62.3,519.1 59.3,520.1 56.3,521.2" fill="#ec5438"/>
<polygon points="86.4,480.3 89.5,476.2 92.5,473.1 95.5,470.7 98.5,468.4 101.5,466.1 104.5,463.8 107.5,461.6 110.6,459.4 113.6,457.4 116.6,455.3 119.6,453.3 122.6,451.3 125.6,449.4 128.7,447.4 131.7,445.5 134.7,443.5 137.7,441.6 140.7,439.7 143.7,437.8 146.7,435.9 149.8,434 152.8,432.2 155.8,430.3 158.8,428.4 161.8,426.4 164.8,424.5 167.8,422.7 170.9,420.8 173.9,419 176.9,417.2 179.9,415.4 182.9,413.7 185.9,411.9 188.9,410.2 192,408.6 195,407 198,405.4 201,403.9 204,402.4 207,401 210,399.6 213.1,398.3 216.1,396.9 219.1,395.6 222.1,394.3 225.1,393.1 228.1,391.8 231.1,390.6 234.2,389.4 237.2,388.2 240.2,387 243.2,385.8 246.2,384.7 249.2,383.6 252.2,382.5 255.3,381.4 258.3,380.3 261.3,379.2 264.3,378.2 267.3,377.2 270.3,376.1 273.4,375.1 276.4,374.1 279.4,373.2 282.4,372.2 285.4,371.2 288.4,370.3 291.4,369.4 294.5,368.4 297.5,367.5 300.5,366.6 303.5,365.6 306.5,364.7 309.5,363.8 312.5,362.9 315.6,361.9 318.6,361 321.6,360.1 324.6,359.2 324.6,403.5 321.6,404.2 318.6,404.9 315.6,405.7 312.5,406.4 309.5,407.1 306.5,407.8 303.5,408.5 300.5,409.2 297.5,409.9 294.5,410.6 291.4,411.3 288.4,412 285.4,412.7 282.4,413.4 279.4,414.1 276.4,414.8 273.4,415.5 270.3,416.1 267.3,416.8 264.3,417.5 261.3,418.2 258.3,418.8 255.3,419.5 252.2,420.3 249.2,421 246.2,421.7 243.2,422.4 240.2,423.2 237.2,424 234.2,424.7 231.1,425.5 228.1,426.3 225.1,427.1 222.1,428 219.1,428.8 216.1,429.6 213.1,430.5 210,431.3 207,432.2 204,433.1 201,434 198,434.9 195,435.8 192,436.8 188.9,437.7 185.9,438.7 182.9,439.6 179.9,440.6 176.9,441.5 173.9,442.5 170.9,443.5 167.8,444.5 164.8,445.5 161.8,446.6 158.8,447.6 155.8,448.7 152.8,449.8 149.8,451 146.7,452.2 143.7,453.4 140.7,454.6 137.7,455.9 134.7,457.2 131.7,458.5 128.7,459.8 125.6,461.2 122.6,462.6 119.6,464 116.6,465.5 113.6,467.1 110.6,468.8 107.5,470.7 104.5,473 101.5,475.4 98.5,477.8 95.5,480.1 92.5,482 89.5,483.2 86.4,483.3" fill="#eb4e38"/>
<polygon points="56.3,516.7 59.3,515.6 62.3,514.6 65.3,513.5 68.4,512.5 71.4,511.5 74.4,510.5 77.4,509.5 80.4,508.5 83.4,507.5 86.4,506.5 89.5,505.5 92.5,504.4 95.5,503.3 98.5,502.2 101.5,501.1 104.5,499.9 107.5,498.7 110.6,497.6 113.6,496.4 116.6,495.3 119.6,494.1 122.6,493 125.6,491.9 128.7,490.9 131.7,489.8 134.7,488.9 137.7,487.9 140.7,487 143.7,486 146.7,485.2 149.8,484.3 152.8,483.5 155.8,482.7 158.8,481.9 161.8,481.1 164.8,480.4 167.8,479.7 170.9,479 173.9,478.3 176.9,477.7 179.9,477 182.9,476.5 185.9,475.9 188.9,475.3 192,474.8 195,474.2 198,473.7 201,473.2 204,472.7 207,472.3 210,471.8 213.1,471.4 216.1,470.9 219.1,470.5 222.1,470.1 225.1,469.7 228.1,469.3 231.1,468.9 234.2,468.5 237.2,468.2 240.2,467.8 243.2,467.5 246.2,467.2 249.2,466.9 252.2,466.6 255.3,466.3 258.3,466.1 261.3,465.8 264.3,465.6 267.3,465.3 270.3,465.1 273.4,464.9 276.4,464.7 279.4,464.5 282.4,464.3 285.4,464.1 288.4,463.9 291.4,463.7 294.5,463.5 297.5,463.4 300.5,463.2 303.5,463 306.5,462.9 309.5,462.7 312.5,462.5 315.6,462.4 318.6,462.2 321.6,462.1 324.6,462 324.6,476.4 321.6,476.6 318.6,476.9 315.6,477.1 312.5,477.4 309.5,477.6 306.5,477.9 303.5,478.1 300.5,478.4 297.5,478.6 294.5,478.9 291.4,479.1 288.4,479.4 285.4,479.6 282.4,479.9 279.4,480.2 276.4,480.4 273.4,480.7 270.3,481 267.3,481.3 264.3,481.6 261.3,481.9 258.3,482.2 255.3,482.5 252.2,482.8 249.2,483.1 246.2,483.4 243.2,483.7 240.2,484 237.2,484.4 234.2,484.7 231.1,485.1 228.1,485.4 225.1,485.7 222.1,486.1 219.1,486.5 216.1,486.8 213.1,487.2 210,487.6 207,487.9 204,488.3 201,488.7 198,489.1 195,489.5 192,489.9 188.9,490.3 185.9,490.7 182.9,491.1 179.9,491.5 176.9,491.9 173.9,492.4 170.9,492.8 167.8,493.3 164.8,493.8 161.8,494.3 158.8,494.8 155.8,495.4 152.8,495.9 149.8,496.5 146.7,497.1 143.7,497.7 140.7,498.3 137.7,498.9 134.7,499.6 131.7,500.3 128.7,500.9 125.6,501.7 122.6,502.4 119.6,503.2 116.6,504 113.6,504.7 110.6,505.5 107.5,506.2 104.5,506.9 101.5,507.7 98.5,508.4 95.5,509.1 92.5,509.8 89.5,510.6 86.4,511.4 83.4,512.2 80.4,513 77.4,513.9 74.4,514.8 71.4,515.7 68.4,516.6 65.3,517.6 62.3,518.7 59.3,519.7 56.3,520.8" fill="#eb4e38"/>
<polygon points="89.5,477.8 92.5,474 95.5,471.4 98.5,469.1 101.5,466.8 104.5,464.5 107.5,462.3 110.6,460.1 113.6,458.1 116.6,456 119.6,454 122.6,452.1 125.6,450.1 128.7,448.2 131.7,446.3 134.7,444.4 137.7,442.5 140.7,440.6 143.7,438.7 146.7,436.8 149.8,434.9 152.8,433.1 155.8,431.2 158.8,429.2 161.8,427.3 164.8,425.4 167.8,423.5 170.9,421.6 173.9,419.7 176.9,417.9 179.9,416.1 182.9,414.3 185.9,412.6 188.9,410.8 192,409.2 195,407.5 198,405.9 201,404.4 204,402.9 207,401.5 210,400 213.1,398.7 216.1,397.3 219.1,396 222.1,394.7 225.1,393.4 228.1,392.1 231.1,390.9 234.2,389.6 237.2,388.4 240.2,387.2 243.2,386.1 246.2,384.9 249.2,383.8 252.2,382.6 255.3,381.5 258.3,380.5 261.3,379.4 264.3,378.3 267.3,377.3 270.3,376.3 273.4,375.3 276.4,374.3 279.4,373.3 282.4,372.3 285.4,371.3 288.4,370.4 291.4,369.5 294.5,368.5 297.5,367.6 300.5,366.6 303.5,365.7 306.5,364.8 309.5,363.8 312.5,362.9 315.6,362 318.6,361.1 321.6,360.2 324.6,359.3 324.6,401.9 321.6,402.7 318.6,403.4 315.6,404.1 312.5,404.8 309.5,405.6 306.5,406.3 303.5,407 300.5,407.7 297.5,408.4 294.5,409.1 291.4,409.8 288.4,410.5 285.4,411.2 282.4,411.9 279.4,412.6 276.4,413.3 273.4,414 270.3,414.7 267.3,415.4 264.3,416.1 261.3,416.8 258.3,417.5 255.3,418.2 252.2,418.9 249.2,419.6 246.2,420.4 243.2,421.1 240.2,421.9 237.2,422.6 234.2,423.4 231.1,424.2 228.1,425 225.1,425.8 222.1,426.6 219.1,427.5 216.1,428.3 213.1,429.2 210,430 207,430.9 204,431.8 201,432.7 198,433.6 195,434.5 192,435.5 188.9,436.4 185.9,437.4 182.9,438.3 179.9,439.3 176.9,440.3 173.9,441.2 170.9,442.2 167.8,443.2 164.8,444.2 161.8,445.3 158.8,446.3 155.8,447.3 152.8,448.5 149.8,449.8 146.7,451 143.7,452.3 140.7,453.5 137.7,454.8 134.7,456.1 131.7,457.5 128.7,458.9 125.6,460.2 122.6,461.7 119.6,463.1 116.6,464.6 113.6,466.3 110.6,468 107.5,470 104.5,472.2 101.5,474.6 98.5,477 95.5,479.2 92.5,481 89.5,481.6" fill="#e94837"/>
<polygon points="56.3,517.4 59.3,516.3 62.3,515.2 65.3,514.1 68.4,513.1 71.4,512.1 74.4,511.1 77.4,510.2 80.4,509.2 83.4,508.2 86.4,507.2 89.5,506.2 92.5,505.2 95.5,504.1 98.5,503 101.5,502 104.5,500.8 107.5,499.7 110.6,498.6 113.6,497.5 116.6,496.4 119.6,495.3 122.6,494.2 125.6,493.1 128.7,492.1 131.7,491.2 134.7,490.2 137.7,489.3 140.7,488.4 143.7,487.5 146.7,486.6 149.8,485.8 152.8,485 155.8,484.2 158.8,483.4 161.8,482.7 164.8,481.9 167.8,481.2 170.9,480.5 173.9,479.9 176.9,479.3 179.9,478.7 182.9,478.1 185.9,477.5 188.9,476.9 192,476.4 195,475.9 198,475.4 201,474.9 204,474.4 207,473.9 210,473.4 213.1,473 216.1,472.5 219.1,472.1 222.1,471.7 225.1,471.3 228.1,470.9 231.1,470.5 234.2,470.1 237.2,469.8 240.2,469.4 243.2,469.1 246.2,468.7 249.2,468.4 252.2,468.1 255.3,467.9 258.3,467.6 261.3,467.3 264.3,467.1 267.3,466.8 270.3,466.6 273.4,466.3 276.4,466.1 279.4,465.9 282.4,465.7 285.4,465.5 288.4,465.3 291.4,465.1 294.5,464.9 297.5,464.7 300.5,464.5 303.5,464.3 306.5,464.2 309.5,464 312.5,463.8 315.6,463.6 318.6,463.5 321.6,463.3 324.6,463.2 324.6,475.4 321.6,475.6 318.6,475.9 315.6,476.1 312.5,476.3 309.5,476.6 306.5,476.8 303.5,477 300.5,477.3 297.5,477.5 294.5,477.8 291.4,478 288.4,478.2 285.4,478.5 282.4,478.7 279.4,479 276.4,479.2 273.4,479.5 270.3,479.8 267.3,480 264.3,480.3 261.3,480.6 258.3,480.9 255.3,481.2 252.2,481.5 249.2,481.8 246.2,482.1 243.2,482.4 240.2,482.7 237.2,483 234.2,483.4 231.1,483.7 228.1,484.1 225.1,484.4 222.1,484.7 219.1,485.1 216.1,485.5 213.1,485.8 210,486.2 207,486.6 204,486.9 201,487.3 198,487.7 195,488.1 192,488.5 188.9,488.9 185.9,489.3 182.9,489.7 179.9,490.1 176.9,490.6 173.9,491 170.9,491.5 167.8,492 164.8,492.5 161.8,493 158.8,493.5 155.8,494.1 152.8,494.7 149.8,495.2 146.7,495.8 143.7,496.5 140.7,497.1 137.7,497.8 134.7,498.4 131.7,499.1 128.7,499.9 125.6,500.6 122.6,501.4 119.6,502.2 116.6,503 113.6,503.8 110.6,504.6 107.5,505.4 104.5,506.1 101.5,506.9 98.5,507.6 95.5,508.4 92.5,509.2 89.5,510 86.4,510.8 83.4,511.6 80.4,512.4 77.4,513.3 74.4,514.2 71.4,515.1 68.4,516.1 65.3,517.1 62.3,518.1 59.3,519.2 56.3,520.3" fill="#e94837"/>
<polygon points="92.5,475.3 95.5,472.5 98.5,470.2 101.5,467.8 104.5,465.5 107.5,463.2 110.6,461 113.6,459 116.6,457 119.6,455 122.6,453.1 125.6,451.2 128.7,449.3 131.7,447.4 134.7,445.5 137.7,443.6 140.7,441.7 143.7,439.8 146.7,438 149.8,436.1 152.8,434.3 155.8,432.4 158.8,430.4 161.8,428.4 164.8,426.4 167.8,424.5 170.9,422.5 173.9,420.7 176.9,418.8 179.9,417 182.9,415.1 185.9,413.4 188.9,411.6 192,409.9 195,408.2 198,406.6 201,405 204,403.5 207,402 210,400.6 213.1,399.2 216.1,397.8 219.1,396.5 222.1,395.1 225.1,393.8 228.1,392.5 231.1,391.2 234.2,390 237.2,388.8 240.2,387.5 243.2,386.3 246.2,385.2 249.2,384 252.2,382.9 255.3,381.8 258.3,380.7 261.3,379.6 264.3,378.5 267.3,377.5 270.3,376.5 273.4,375.4 276.4,374.4 279.4,373.4 282.4,372.5 285.4,371.5 288.4,370.5 291.4,369.6 294.5,368.7 297.5,367.7 300.5,366.8 303.5,365.8 306.5,364.9 309.5,363.9 312.5,363 315.6,362.1 318.6,361.2 321.6,360.2 324.6,359.3 324.6,400.2 321.6,401 318.6,401.7 315.6,402.4 312.5,403.2 309.5,403.9 306.5,404.6 303.5,405.4 300.5,406.1 297.5,406.8 294.5,407.5 291.4,408.2 288.4,408.9 285.4,409.6 282.4,410.3 279.4,411 276.4,411.7 273.4,412.4 270.3,413.1 267.3,413.8 264.3,414.5 261.3,415.2 258.3,415.9 255.3,416.7 252.2,417.4 249.2,418.1 246.2,418.9 243.2,419.6 240.2,420.4 237.2,421.2 234.2,421.9 231.1,422.7 228.1,423.5 225.1,424.3 222.1,425.2 219.1,426 216.1,426.8 213.1,427.7 210,428.6 207,429.4 204,430.3 201,431.2 198,432.1 195,433.1 192,434 188.9,435 185.9,435.9 182.9,436.9 179.9,437.8 176.9,438.8 173.9,439.7 170.9,440.7 167.8,441.7 164.8,442.7 161.8,443.7 158.8,444.7 155.8,445.8 152.8,447 149.8,448.3 146.7,449.6 143.7,450.8 140.7,452.2 137.7,453.5 134.7,454.8 131.7,456.2 128.7,457.7 125.6,459.1 122.6,460.5 119.6,462 116.6,463.6 113.6,465.2 110.6,467 107.5,468.9 104.5,471.1 101.5,473.5 98.5,475.8 95.5,478.1 92.5,479.6" fill="#e84336"/>
<polygon points="59.3,517.6 62.3,516.5 65.3,515.4 68.4,514.3 71.4,513.3 74.4,512.3 77.4,511.3 80.4,510.3 83.4,509.3 86.4,508.4 89.5,507.4 92.5,506.4 95.5,505.4 98.5,504.4 101.5,503.4 104.5,502.3 107.5,501.3 110.6,500.3 113.6,499.2 116.6,498.1 119.6,497.1 122.6,496 125.6,495 128.7,494 131.7,493.1 134.7,492.1 137.7,491.2 140.7,490.4 143.7,489.5 146.7,488.7 149.8,487.8 152.8,487.1 155.8,486.3 158.8,485.5 161.8,484.8 164.8,484.1 167.8,483.4 170.9,482.7 173.9,482.1 176.9,481.4 179.9,480.8 182.9,480.3 185.9,479.7 188.9,479.1 192,478.6 195,478.1 198,477.6 201,477.1 204,476.6 207,476.1 210,475.6 213.1,475.1 216.1,474.7 219.1,474.2 222.1,473.8 225.1,473.4 228.1,473 231.1,472.6 234.2,472.2 237.2,471.8 240.2,471.5 243.2,471.1 246.2,470.7 249.2,470.4 252.2,470.1 255.3,469.8 258.3,469.5 261.3,469.2 264.3,468.9 267.3,468.7 270.3,468.4 273.4,468.2 276.4,467.9 279.4,467.7 282.4,467.4 285.4,467.2 288.4,467 291.4,466.8 294.5,466.6 297.5,466.3 300.5,466.1 303.5,465.9 306.5,465.7 309.5,465.5 312.5,465.4 315.6,465.2 318.6,465 321.6,464.8 324.6,464.7 324.6,474.1 321.6,474.4 318.6,474.6 315.6,474.8 312.5,475 309.5,475.2 306.5,475.4 303.5,475.7 300.5,475.9 297.5,476.1 294.5,476.3 291.4,476.5 288.4,476.8 285.4,477 282.4,477.2 279.4,477.4 276.4,477.7 273.4,477.9 270.3,478.2 267.3,478.4 264.3,478.7 261.3,479 258.3,479.2 255.3,479.5 252.2,479.8 249.2,480.1 246.2,480.3 243.2,480.6 240.2,480.9 237.2,481.3 234.2,481.6 231.1,481.9 228.1,482.2 225.1,482.5 222.1,482.9 219.1,483.2 216.1,483.6 213.1,483.9 210,484.3 207,484.7 204,485 201,485.4 198,485.8 195,486.2 192,486.5 188.9,486.9 185.9,487.3 182.9,487.7 179.9,488.2 176.9,488.6 173.9,489.1 170.9,489.6 167.8,490.1 164.8,490.6 161.8,491.1 158.8,491.6 155.8,492.2 152.8,492.8 149.8,493.4 146.7,494 143.7,494.6 140.7,495.3 137.7,496 134.7,496.7 131.7,497.4 128.7,498.2 125.6,498.9 122.6,499.7 119.6,500.6 116.6,501.4 113.6,502.3 110.6,503.1 107.5,503.9 104.5,504.8 101.5,505.6 98.5,506.4 95.5,507.2 92.5,508 89.5,508.9 86.4,509.7 83.4,510.5 80.4,511.4 77.4,512.3 74.4,513.2 71.4,514.1 68.4,515 65.3,515.9 62.3,516.9 59.3,517.9" fill="#e84336"/>
<polygon points="95.5,474.8 98.5,472.2 101.5,469.6 104.5,467.1 107.5,464.8 110.6,462.6 113.6,460.5 116.6,458.5 119.6,456.5 122.6,454.6 125.6,452.7 128.7,450.9 131.7,449 134.7,447.1 137.7,445.2 140.7,443.3 143.7,441.5 146.7,439.7 149.8,437.8 152.8,436 155.8,434.1 158.8,432 161.8,429.9 164.8,427.8 167.8,425.8 170.9,423.8 173.9,421.9 176.9,419.9 179.9,418.1 182.9,416.2 185.9,414.3 188.9,412.5 192,410.8 195,409.1 198,407.4 201,405.8 204,404.3 207,402.8 210,401.3 213.1,399.9 216.1,398.4 219.1,397.1 222.1,395.7 225.1,394.3 228.1,393 231.1,391.7 234.2,390.4 237.2,389.2 240.2,387.9 243.2,386.7 246.2,385.5 249.2,384.3 252.2,383.2 255.3,382.1 258.3,381 261.3,379.9 264.3,378.8 267.3,377.8 270.3,376.7 273.4,375.7 276.4,374.7 279.4,373.7 282.4,372.7 285.4,371.7 288.4,370.7 291.4,369.8 294.5,368.8 297.5,367.9 300.5,366.9 303.5,366 306.5,365 309.5,364.1 312.5,363.2 315.6,362.2 318.6,361.3 321.6,360.4 324.6,359.5 324.6,398.4 321.6,399.1 318.6,399.9 315.6,400.6 312.5,401.4 309.5,402.1 306.5,402.8 303.5,403.6 300.5,404.3 297.5,405 294.5,405.7 291.4,406.5 288.4,407.2 285.4,407.9 282.4,408.6 279.4,409.3 276.4,410 273.4,410.7 270.3,411.4 267.3,412.2 264.3,412.9 261.3,413.6 258.3,414.3 255.3,415 252.2,415.7 249.2,416.5 246.2,417.2 243.2,418 240.2,418.8 237.2,419.5 234.2,420.3 231.1,421.1 228.1,421.9 225.1,422.7 222.1,423.5 219.1,424.4 216.1,425.2 213.1,426.1 210,426.9 207,427.8 204,428.7 201,429.6 198,430.5 195,431.4 192,432.4 188.9,433.3 185.9,434.2 182.9,435.2 179.9,436.1 176.9,437 173.9,438 170.9,438.9 167.8,439.9 164.8,440.8 161.8,441.8 158.8,442.8 155.8,443.7 152.8,444.9 149.8,446.3 146.7,447.6 143.7,448.9 140.7,450.3 137.7,451.6 134.7,453 131.7,454.5 128.7,455.9 125.6,457.4 122.6,458.9 119.6,460.4 116.6,462 113.6,463.6 110.6,465.4 107.5,467.3 104.5,469.4 101.5,471.6 98.5,473.7 95.5,475.7" fill="#e44036"/>
<polygon points="237.2,476.1 240.2,475.5 243.2,475 246.2,474.5 249.2,474 252.2,473.6 255.3,473.2 258.3,472.8 261.3,472.4 264.3,472.1 267.3,471.7 270.3,471.4 273.4,471.1 276.4,470.8 279.4,470.5 282.4,470.2 285.4,469.9 288.4,469.6 291.4,469.3 294.5,469.1 297.5,468.8 300.5,468.6 303.5,468.3 306.5,468.1 309.5,467.8 312.5,467.6 315.6,467.4 318.6,467.2 321.6,466.9 324.6,466.8 324.6,472.2 321.6,472.4 318.6,472.6 315.6,472.8 312.5,473 309.5,473.1 306.5,473.3 303.5,473.5 300.5,473.7 297.5,473.8 294.5,474 291.4,474.2 288.4,474.3 285.4,474.5 282.4,474.7 279.4,474.9 276.4,475.1 273.4,475.2 270.3,475.4 267.3,475.6 264.3,475.8 261.3,476 258.3,476.2 255.3,476.3 252.2,476.5 249.2,476.7 246.2,476.9 243.2,477 240.2,477.2 237.2,477.2" fill="#e44036"/>
<polygon points="155.8,437.7 158.8,434.7 161.8,432.2 164.8,429.9 167.8,427.7 170.9,425.6 173.9,423.5 176.9,421.5 179.9,419.5 182.9,417.6 185.9,415.6 188.9,413.8 192,411.9 195,410.2 198,408.5 201,406.9 204,405.3 207,403.7 210,402.2 213.1,400.7 216.1,399.2 219.1,397.8 222.1,396.4 225.1,395 228.1,393.7 231.1,392.3 234.2,391 237.2,389.7 240.2,388.5 243.2,387.2 246.2,386 249.2,384.8 252.2,383.6 255.3,382.4 258.3,381.3 261.3,380.2 264.3,379.2 267.3,378.1 270.3,377 273.4,376 276.4,375 279.4,374 282.4,373 285.4,372 288.4,371 291.4,370 294.5,369.1 297.5,368.1 300.5,367.1 303.5,366.2 306.5,365.2 309.5,364.3 312.5,363.3 315.6,362.4 318.6,361.5 321.6,360.5 324.6,359.6 324.6,396.4 321.6,397.2 318.6,397.9 315.6,398.7 312.5,399.4 309.5,400.2 306.5,400.9 303.5,401.7 300.5,402.4 297.5,403.1 294.5,403.8 291.4,404.6 288.4,405.3 285.4,406 282.4,406.7 279.4,407.4 276.4,408.2 273.4,408.9 270.3,409.6 267.3,410.3 264.3,411 261.3,411.8 258.3,412.5 255.3,413.2 252.2,414 249.2,414.7 246.2,415.5 243.2,416.2 240.2,417 237.2,417.8 234.2,418.5 231.1,419.3 228.1,420.1 225.1,420.9 222.1,421.7 219.1,422.6 216.1,423.4 213.1,424.2 210,425.1 207,426 204,426.8 201,427.7 198,428.6 195,429.5 192,430.5 188.9,431.4 185.9,432.2 182.9,433.1 179.9,434 176.9,434.9 173.9,435.8 170.9,436.6 167.8,437.5 164.8,438.3 161.8,439 158.8,439.6 155.8,439.7" fill="#dd4038"/>
<polygon points="170.9,429.1 173.9,426.3 176.9,423.9 179.9,421.7 182.9,419.5 185.9,417.4 188.9,415.4 192,413.5 195,411.7 198,409.9 201,408.2 204,406.5 207,404.9 210,403.3 213.1,401.8 216.1,400.3 219.1,398.8 222.1,397.3 225.1,395.9 228.1,394.5 231.1,393.1 234.2,391.8 237.2,390.4 240.2,389.1 243.2,387.8 246.2,386.6 249.2,385.3 252.2,384.1 255.3,382.9 258.3,381.8 261.3,380.7 264.3,379.6 267.3,378.5 270.3,377.5 273.4,376.4 276.4,375.4 279.4,374.3 282.4,373.3 285.4,372.3 288.4,371.3 291.4,370.4 294.5,369.4 297.5,368.4 300.5,367.4 303.5,366.5 306.5,365.5 309.5,364.5 312.5,363.6 315.6,362.6 318.6,361.7 321.6,360.7 324.6,359.8 324.6,394.3 321.6,395.1 318.6,395.8 315.6,396.6 312.5,397.4 309.5,398.1 306.5,398.9 303.5,399.6 300.5,400.3 297.5,401.1 294.5,401.8 291.4,402.5 288.4,403.3 285.4,404 282.4,404.7 279.4,405.4 276.4,406.2 273.4,406.9 270.3,407.6 267.3,408.3 264.3,409.1 261.3,409.8 258.3,410.5 255.3,411.3 252.2,412 249.2,412.8 246.2,413.5 243.2,414.3 240.2,415 237.2,415.8 234.2,416.6 231.1,417.3 228.1,418.1 225.1,418.9 222.1,419.7 219.1,420.5 216.1,421.3 213.1,422.2 210,423 207,423.8 204,424.7 201,425.5 198,426.4 195,427.2 192,428.1 188.9,429 185.9,429.8 182.9,430.5 179.9,431.2 176.9,431.9 173.9,432.4 170.9,432.6" fill="#d64138"/>
<polygon points="185.9,420.8 188.9,418.2 192,416 195,413.9 198,412 201,410.1 204,408.3 207,406.6 210,404.9 213.1,403.3 216.1,401.7 219.1,400.1 222.1,398.6 225.1,397.1 228.1,395.6 231.1,394.1 234.2,392.7 237.2,391.3 240.2,390 243.2,388.6 246.2,387.3 249.2,386 252.2,384.7 255.3,383.6 258.3,382.5 261.3,381.3 264.3,380.2 267.3,379.1 270.3,378 273.4,377 276.4,375.9 279.4,374.9 282.4,373.8 285.4,372.8 288.4,371.8 291.4,370.8 294.5,369.8 297.5,368.8 300.5,367.8 303.5,366.9 306.5,365.9 309.5,364.9 312.5,363.9 315.6,363 318.6,362 321.6,361 324.6,360.1 324.6,392.1 321.6,392.9 318.6,393.6 315.6,394.4 312.5,395.1 309.5,395.9 306.5,396.6 303.5,397.4 300.5,398.1 297.5,398.9 294.5,399.6 291.4,400.4 288.4,401.1 285.4,401.8 282.4,402.5 279.4,403.3 276.4,404 273.4,404.7 270.3,405.5 267.3,406.2 264.3,406.9 261.3,407.7 258.3,408.4 255.3,409.1 252.2,409.9 249.2,410.6 246.2,411.4 243.2,412.1 240.2,412.9 237.2,413.6 234.2,414.4 231.1,415.1 228.1,415.9 225.1,416.6 222.1,417.4 219.1,418.2 216.1,418.9 213.1,419.7 210,420.5 207,421.2 204,422 201,422.7 198,423.5 195,424.2 192,424.9 188.9,425.5 185.9,425.7" fill="#cf413a"/>
<polygon points="201,414.1 204,411.5 207,409.4 210,407.4 213.1,405.5 216.1,403.7 219.1,402 222.1,400.3 225.1,398.7 228.1,397.1 231.1,395.5 234.2,394 237.2,392.6 240.2,391.1 243.2,389.7 246.2,388.3 249.2,387 252.2,385.6 255.3,384.5 258.3,383.3 261.3,382.1 264.3,381 267.3,379.9 270.3,378.8 273.4,377.7 276.4,376.6 279.4,375.5 282.4,374.5 285.4,373.4 288.4,372.4 291.4,371.4 294.5,370.4 297.5,369.4 300.5,368.4 303.5,367.4 306.5,366.3 309.5,365.4 312.5,364.4 315.6,363.4 318.6,362.4 321.6,361.4 324.6,360.5 324.6,389.7 321.6,390.5 318.6,391.3 315.6,392 312.5,392.8 309.5,393.5 306.5,394.3 303.5,395 300.5,395.8 297.5,396.5 294.5,397.2 291.4,398 288.4,398.7 285.4,399.4 282.4,400.2 279.4,400.9 276.4,401.6 273.4,402.4 270.3,403.1 267.3,403.8 264.3,404.6 261.3,405.3 258.3,406 255.3,406.8 252.2,407.5 249.2,408.3 246.2,409 243.2,409.7 240.2,410.4 237.2,411.1 234.2,411.8 231.1,412.5 228.1,413.2 225.1,413.9 222.1,414.5 219.1,415.2 216.1,415.8 213.1,416.5 210,417 207,417.5 204,417.9 201,417.9" fill="#c8423a"/>
<polygon points="219.1,405.8 222.1,403.4 225.1,401.4 228.1,399.5 231.1,397.7 234.2,396 237.2,394.4 240.2,392.8 243.2,391.2 246.2,389.7 249.2,388.3 252.2,386.8 255.3,385.6 258.3,384.4 261.3,383.2 264.3,382.1 267.3,380.9 270.3,379.8 273.4,378.6 276.4,377.5 279.4,376.4 282.4,375.3 285.4,374.3 288.4,373.2 291.4,372.2 294.5,371.1 297.5,370.1 300.5,369.1 303.5,368 306.5,367 309.5,366 312.5,365 315.6,363.9 318.6,362.9 321.6,361.9 324.6,361 324.6,387.1 321.6,387.9 318.6,388.7 315.6,389.4 312.5,390.2 309.5,391 306.5,391.7 303.5,392.4 300.5,393.2 297.5,393.9 294.5,394.6 291.4,395.4 288.4,396.1 285.4,396.8 282.4,397.5 279.4,398.3 276.4,399 273.4,399.7 270.3,400.4 267.3,401.2 264.3,401.9 261.3,402.6 258.3,403.3 255.3,404.1 252.2,404.8 249.2,405.5 246.2,406.1 243.2,406.8 240.2,407.4 237.2,408 234.2,408.6 231.1,409.1 228.1,409.6 225.1,410 222.1,410.3 219.1,410.3" fill="#c1423c"/>
<polygon points="237.2,398 240.2,395.8 243.2,393.8 246.2,392 249.2,390.3 252.2,388.7 255.3,387.4 258.3,386.1 261.3,384.9 264.3,383.6 267.3,382.4 270.3,381.2 273.4,380 276.4,378.9 279.4,377.7 282.4,376.6 285.4,375.5 288.4,374.4 291.4,373.3 294.5,372.2 297.5,371.1 300.5,370 303.5,369 306.5,367.9 309.5,366.8 312.5,365.8 315.6,364.7 318.6,363.7 321.6,362.7 324.6,361.7 324.6,384.4 321.6,385.1 318.6,385.9 315.6,386.6 312.5,387.4 309.5,388.1 306.5,388.8 303.5,389.6 300.5,390.3 297.5,391 294.5,391.7 291.4,392.4 288.4,393.1 285.4,393.8 282.4,394.5 279.4,395.2 276.4,395.9 273.4,396.6 270.3,397.3 267.3,398 264.3,398.7 261.3,399.4 258.3,400.1 255.3,400.8 252.2,401.5 249.2,402 246.2,402.4 243.2,402.8 240.2,403 237.2,403" fill="#b9423c"/>
<polygon points="252.2,393.9 255.3,391.4 258.3,389.6 261.3,388 264.3,386.5 267.3,385.1 270.3,383.7 273.4,382.4 276.4,381.1 279.4,379.8 282.4,378.5 285.4,377.3 288.4,376.1 291.4,374.9 294.5,373.8 297.5,372.6 300.5,371.5 303.5,370.3 306.5,369.2 309.5,368.1 312.5,367 315.6,365.9 318.6,364.8 321.6,363.7 324.6,362.8 324.6,381.2 321.6,382 318.6,382.7 315.6,383.4 312.5,384.1 309.5,384.8 306.5,385.5 303.5,386.2 300.5,386.9 297.5,387.6 294.5,388.2 291.4,388.9 288.4,389.5 285.4,390.1 282.4,390.8 279.4,391.4 276.4,392 273.4,392.6 270.3,393.1 267.3,393.7 264.3,394.2 261.3,394.6 258.3,395 255.3,395.2 252.2,394.7" fill="#b0423e"/>
<polygon points="288.4,380.7 291.4,378.7 294.5,377.1 297.5,375.6 300.5,374.2 303.5,372.8 306.5,371.5 309.5,370.2 312.5,369 315.6,367.8 318.6,366.6 321.6,365.4 324.6,364.4 324.6,377.4 321.6,378.2 318.6,378.8 315.6,379.5 312.5,380.1 309.5,380.6 306.5,381.2 303.5,381.7 300.5,382.2 297.5,382.7 294.5,383 291.4,383.2 288.4,383" fill="#a6423e"/>
</g></g>
<path d="M58.3 473.1H322.6" stroke="#1a0f0f" stroke-width="1.1"/>
<polygon points="102.6,467.3 105.7,473.1 102.6,478.9 99.5,473.1" fill="#111"/>
<polygon points="155.2,467.3 158.3,473.1 155.2,478.9 152.1,473.1" fill="#111"/>
<polygon points="261.9,467.3 265,473.1 261.9,478.9 258.8,473.1" fill="#111"/>
<path d="M58 353.6V525.9H322.6" stroke="#222" stroke-width="1.2" fill="none"/>
<text x="10" y="356.2" font-family="Liberation Sans, sans-serif" fill="#111" font-size="19" font-weight="bold">b</text>
<text x="56.3" y="377" font-family="Liberation Sans, sans-serif" fill="#111" font-size="12.4" font-weight="bold" text-anchor="end">2.5</text>
<text x="56.3" y="409.4" font-family="Liberation Sans, sans-serif" fill="#111" font-size="12.4" font-weight="bold" text-anchor="end">2</text>
<text x="56.3" y="445.8" font-family="Liberation Sans, sans-serif" fill="#111" font-size="12.4" font-weight="bold" text-anchor="end">1.5</text>
<text x="56.3" y="477.9" font-family="Liberation Sans, sans-serif" fill="#111" font-size="12.4" font-weight="bold" text-anchor="end">1</text>
<text x="56.3" y="509.8" font-family="Liberation Sans, sans-serif" fill="#111" font-size="12.4" font-weight="bold" text-anchor="end">0.5</text>
<text x="55.2" y="539.2" font-family="Liberation Sans, sans-serif" fill="#111" font-size="12.4" font-weight="bold" text-anchor="middle">0</text>
<text x="103.7" y="539.2" font-family="Liberation Sans, sans-serif" fill="#111" font-size="12.4" font-weight="bold" text-anchor="middle">5</text>
<text x="149.7" y="539.2" font-family="Liberation Sans, sans-serif" fill="#111" font-size="12.4" font-weight="bold" text-anchor="middle">10</text>
<text x="194.2" y="539.2" font-family="Liberation Sans, sans-serif" fill="#111" font-size="12.4" font-weight="bold" text-anchor="middle">15</text>
<text x="240.2" y="539.2" font-family="Liberation Sans, sans-serif" fill="#111" font-size="12.4" font-weight="bold" text-anchor="middle">20</text>
<text x="282.6" y="539.2" font-family="Liberation Sans, sans-serif" fill="#111" font-size="12.4" font-weight="bold" text-anchor="middle">25</text>
<text x="322" y="539.2" font-family="Liberation Sans, sans-serif" fill="#111" font-size="12.4" font-weight="bold" text-anchor="middle">30</text>
<text transform="translate(20.6 441.5) rotate(-90)" font-family="Liberation Sans, sans-serif" fill="#111" font-size="17.6" text-anchor="middle">Frequency (GHz)</text>
<text x="205" y="560" font-family="Liberation Sans, sans-serif" fill="#111" font-size="17.6" text-anchor="middle">Bias Voltages (V)</text>
<text transform="translate(235 417.2) rotate(-20.7)" font-family="Liberation Sans, sans-serif" fill="#111" font-size="15.7" text-anchor="middle">Right-handed passband</text>
<text transform="translate(245.5 454.8) rotate(-12.7)" font-family="Liberation Sans, sans-serif" fill="#111" font-size="16.2" text-anchor="middle">Band gap</text>
<text transform="translate(184.0 494.2) rotate(-9.2)" font-family="Liberation Sans, sans-serif" fill="#111" font-size="15.7" text-anchor="middle">Left-handed passband</text>
<rect x="337.9" y="376.2" width="9.2" height="149.2" fill="url(#cbg)"/>
<text x="350.8" y="405.9" font-family="Liberation Sans, sans-serif" fill="#111" font-size="12.4" font-weight="bold">-20</text>
<text x="350.8" y="448.4" font-family="Liberation Sans, sans-serif" fill="#111" font-size="12.4" font-weight="bold">-40</text>
<text x="350.8" y="489" font-family="Liberation Sans, sans-serif" fill="#111" font-size="12.4" font-weight="bold">-60</text>
<text x="350.8" y="530.7" font-family="Liberation Sans, sans-serif" fill="#111" font-size="12.4" font-weight="bold">-80</text>
<path d="M331.2 352.9V369.1M356.3 352.9V369.1" stroke="#111" stroke-width="1.6" fill="none"/>
<text x="333.5" y="366.1" font-family="Liberation Sans, sans-serif" fill="#111" font-size="17.7">S</text>
<text x="345.4" y="370.5" font-family="Liberation Sans, sans-serif" fill="#111" font-size="7.8" font-weight="bold">21</text>
<defs>
<marker id="mk" markerWidth="4" markerHeight="4" refX="2" refY="2" markerUnits="userSpaceOnUse"><rect x="0.3" y="0.3" width="3.4" height="3.4" fill="#0c0c0c"/></marker>
<marker id="mb" markerWidth="4" markerHeight="4" refX="2" refY="2" markerUnits="userSpaceOnUse"><circle cx="2" cy="2" r="1.75" fill="#342c8c"/></marker>
<marker id="mr" markerWidth="5" markerHeight="5" refX="2.5" refY="2.7" markerUnits="userSpaceOnUse"><path d="M2.5 0.3L4.8 4.3H0.2Z" fill="#e8281e"/></marker>
<clipPath id="cpC"><rect x="441" y="340" width="240" height="190.5"/></clipPath>
</defs>
<g clip-path="url(#cpC)" fill="none">
<polyline points="462.7,529.3 463.3,508.2 463.9,489.6 464.6,470.5 465.2,451.1 465.8,431.3 466.4,418.2 467,410.2 467.6,404.7 468.2,400.4 468.7,397 469.3,395 469.9,392.9 470.5,391.6 471.1,390.2 471.6,389.5 472.2,389.1 472.8,388.4 473.3,388.6 473.9,387 474.4,385.5 475,384.2 475.5,383.3 476.1,381.7 476.6,380.2 477.1,379.2 477.7,378.6 478.2,377.5 478.7,376.6 479.3,376.1 479.8,375.9 480.3,375.7 480.8,374.3 481.3,374.1 481.8,373.7 482.4,373 482.9,373.4 483.4,373.5 483.9,374.4 484.4,374.3 484.9,374.3 485.4,375.4 485.8,375.6 486.3,375.8 486.8,377.2 487.3,378.4 487.8,379.5 488.3,380.5 488.7,380.2 489.2,380.8 489.7,381.3 490.1,381.3 490.6,381.4 491.1,381.5 491.5,382.1 492,382.8 492.5,385.7 492.9,387.7 493.4,391 493.8,393.8 494.3,398.6 494.7,403.2 495.2,407.6 495.6,413.1 496,417.2 496.5,422.6 496.9,428 497.3,433 497.8,438.5 498.2,443.7 498.6,447 499.1,451.6 499.5,455.2 499.9,459.3 500.3,462 500.7,464.6 501.2,466.8 501.6,468.8 502,470.1 502.4,472.6 502.8,473.2 503.2,474.9 503.6,476.1 504,476.6 504.4,477.7 504.8,478.7 505.2,479 505.6,479.4 506,479.5 506.4,480.9 506.8,481.8 507.2,482.6 507.6,483.3 508,484.6 508.4,485.1 508.8,486 509.1,487 509.5,487.3 509.9,488.1 510.3,489.5 510.7,489.8 511,489.8 511.4,490.6 511.8,491.1 512.2,491.3 512.5,490.8 512.9,490.1 513.3,489.5 513.6,489.1 514,488.1 514.4,486.8 514.7,485.9 515.1,484.7 515.4,483.9 515.8,482.1 516.2,480.8 516.5,479 516.9,476.7 517.2,474 517.6,472.2 517.9,468.9 518.3,465.9 518.6,461.7 519,457.1 519.3,453.2 519.6,448.7 520,444.2 520.3,439.9 520.7,435 521,430.2 521.3,425.8 521.7,422.2 522,418.1 522.3,414.4 522.7,411.4 523,408 523.3,405.2 523.7,403 524,400.3 524.3,398 524.6,396.5 525,395.2 525.3,393.8 525.6,392.7 525.9,390.9 526.3,390.3 526.6,389.2 526.9,388.2 527.2,387.7 527.5,386.8 527.8,385.6 528.2,385.5 528.5,384.1 528.8,383.9 529.1,383.4 529.4,383.1 529.7,382.4 530,382.4 530.3,382.3 530.6,382.5 530.9,381.9 531.2,382 531.5,381.9 531.8,381.5 532.1,382.6 532.4,381.7 532.7,381.2 533,382.1 533.3,381.3 533.6,381.7 533.9,381.9 534.2,381.4 534.5,381.6 534.8,381.7 535.1,382.1 535.4,382 535.7,382.5 536,383.2 536.3,384 536.5,384.4 536.8,385.2 537.1,385.5 537.4,385.7 537.7,386.4 538,386.4 538.3,387.3 538.5,387.8 538.8,388.8 539.1,389.5 539.4,389.8 539.7,390.5 539.9,390.9 540.2,392.1 540.5,393.1 540.8,394 541,394.5 541.3,396.2 541.6,396.9 541.8,397.4 542.1,398.3 542.4,399.3 542.7,400.4 542.9,401.3 543.2,402.4 543.5,403.4 543.7,404.6 544,405.5 544.3,406.1 544.5,407.3 544.8,408.1 545.1,409.1 545.3,410.9 545.6,411.3 545.8,413.2 546.1,413.6 546.4,415 546.6,416.4 546.9,417.4 547.1,418.7 547.4,419.9 547.6,421.2 547.9,422.7 548.1,424 548.4,426.1 548.7,427.1 548.9,429.3 549.2,429.5 549.4,432 549.7,433.9 549.9,435.3 550.2,437.5 550.4,439.2 550.7,440.8 550.9,442.9 551.1,445.6 551.4,446.9 551.6,449.1 551.9,451 552.1,453.5 552.4,455.4 552.6,458.2 552.9,461.5 553.1,463.6 553.3,466.1 553.6,469 553.8,472.1 554.1,474.8 554.3,478.5 554.5,481.9 554.8,485.6 555,490.6 555.2,494.9 555.5,501.8 555.7,509.2 555.9,517.6 556.2,528.3" stroke="#111" stroke-width="1.0" marker-start="url(#mk)" marker-mid="url(#mk)" marker-end="url(#mk)"/>
<polyline points="480.5,529.3 481,515.4 481.5,492.9 482,470 482.5,453.8 483.1,441.2 483.6,430.8 484.1,422.2 484.6,416.4 485,411.5 485.5,407.1 486,404.3 486.5,401.4 487,399.1 487.5,396.4 488,394.2 488.4,392.3 488.9,390.3 489.4,389.7 489.9,387.8 490.3,386.7 490.8,386.1 491.2,385.7 491.7,384.6 492.2,383.5 492.6,383 493.1,382.8 493.5,382 494,381.2 494.4,380.8 494.9,380.5 495.3,380.3 495.8,378.8 496.2,378.4 496.6,377.8 497.1,376.9 497.5,376.8 497.9,376.4 498.4,376.7 498.8,376 499.2,375.3 499.6,375.7 500.1,375.2 500.5,374.6 500.9,374.7 501.3,374.5 501.7,374.3 502.1,374.4 502.6,373.7 503,374.2 503.4,374.6 503.8,374.6 504.2,374.6 504.6,374.6 505,374.7 505.4,374 505.8,374.6 506.2,373.7 506.6,374.1 507,373.7 507.4,374.6 507.7,374.7 508.1,374.2 508.5,375 508.9,374.5 509.3,375.3 509.7,375.9 510,376.2 510.4,377.4 510.8,378.7 511.2,378.6 511.6,380.1 511.9,380.8 512.3,382.7 512.7,383.7 513,385.2 513.4,386.8 513.8,388.4 514.1,389.6 514.5,392.3 514.9,393.4 515.2,396 515.6,398.4 515.9,400.3 516.3,403 516.6,405.9 517,408.2 517.3,410.8 517.7,413.3 518,417.1 518.4,420.6 518.7,424.1 519.1,427.5 519.4,431.4 519.8,434.8 520.1,438.8 520.5,443.1 520.8,446.6 521.1,450.7 521.5,455.2 521.8,458.3 522.1,461.2 522.5,465.1 522.8,468.6 523.1,471.8 523.5,474 523.8,475.7 524.1,477.4 524.4,479.4 524.8,480.7 525.1,481.7 525.4,483 525.7,483.9 526.1,485.2 526.4,485.6 526.7,486.8 527,487.6 527.3,488.2 527.6,488.5 528,489.8 528.3,489.7 528.6,490.5 528.9,490.6 529.2,490.6 529.5,491.5 529.8,491.8 530.1,491.9 530.4,492.3 530.7,492.2 531.1,492.4 531.4,492.8 531.7,493.6 532,493.4 532.3,493.2 532.6,493.7 532.9,493.5 533.2,493.7 533.5,494.2 533.7,493.9 534,493.7 534.3,494.1 534.6,494.5 534.9,494.6 535.2,495 535.5,494.5 535.8,495.1 536.1,495 536.4,495 536.7,495.3 536.9,495.3 537.2,495 537.5,495.7 537.8,495.1 538.1,495.6 538.4,495.7 538.6,495.9 538.9,495.7 539.2,496.1 539.5,496.2 539.8,496.7 540,496.4 540.3,496.9 540.6,497 540.9,496.9 541.1,498.4 541.4,497.8 541.7,497.6 542,498.8 542.2,498.3 542.5,499.1 542.8,499.6 543,499.6 543.3,500.1 543.6,500.5 543.8,501 544.1,500.9 544.4,501.4 544.6,502 544.9,502.6 545.1,502.6 545.4,502.9 545.7,502.6 545.9,502.1 546.2,502.1 546.4,501.3 546.7,501.4 547,501.1 547.2,501.2 547.5,501 547.7,500.3 548,499.9 548.2,499.2 548.5,499.2 548.7,498.9 549,498.4 549.3,497.4 549.5,497.4 549.8,496.3 550,495 550.3,493.8 550.5,492.7 550.7,491.7 551,490.4 551.2,489.3 551.5,488 551.7,486.6 552,484.8 552.2,482.5 552.5,480.6 552.7,478.3 552.9,476.1 553.2,474.6 553.4,471.7 553.7,470.1 553.9,466.9 554.1,464.4 554.4,462 554.6,458.9 554.9,456.2 555.1,453.2 555.3,450.3 555.6,447.5 555.8,444.5 556,442.1 556.3,438.4 556.5,435.8 556.7,431.4 557,429.1 557.2,426.2 557.4,423.2 557.7,420.9 557.9,418.2 558.1,415.4 558.3,413.1 558.6,411.4 558.8,408.3 559,406.1 559.2,403.7 559.5,401.9 559.7,399.7 559.9,398.4 560.1,397.7 560.4,395.8 560.6,394.3 560.8,393.1 561,392 561.3,390.4 561.5,389.7 561.7,388.3 561.9,387 562.1,386.4 562.4,384.2 562.6,383.9 562.8,383.2 563,382.1 563.2,381.5 563.4,380.6 563.7,379.8 563.9,380.1 564.1,378.8 564.3,377.9 564.5,377.7 564.7,376.6 564.9,376.3 565.2,375.6 565.4,375.5 565.6,374.1 565.8,374.3 566,373.7 566.2,372.9 566.4,373.2 566.6,372.3 566.8,372.7 567.1,372 567.3,371.8 567.5,371.2 567.7,371.2 567.9,370 568.1,370.3 568.3,369.9 568.5,369.9 568.7,369.6 568.9,369.6 569.1,369 569.3,369.6 569.5,369.6 569.7,368.8 569.9,368.8 570.1,368.9 570.3,369.2 570.5,369.4 570.7,368.5 570.9,368.7 571.1,368.6 571.3,368.6 571.5,368.5 571.7,369.2 571.9,368.8 572.1,369.7 572.3,369.6 572.5,369.1 572.7,369.1 572.9,369.3 573.1,370 573.3,369.4 573.5,369.3 573.7,369.8 573.9,370 574.1,369.8 574.3,370.6 574.5,370.2 574.7,370.4 574.8,370.1 575,370.4 575.2,370.4 575.4,369.9 575.6,370.7 575.8,370.2 576,370.8 576.2,370.4 576.4,371.6 576.6,371.2 576.7,371.4 576.9,371.5 577.1,371 577.3,370.8 577.5,371.5 577.7,372 577.9,371.8 578,372.2 578.2,372.3 578.4,371.7 578.6,372.4 578.8,373 579,372.4 579.2,372.1 579.3,372.8 579.5,373 579.7,373.4 579.9,373.2 580.1,373.8 580.2,373.3 580.4,374.5 580.6,375 580.8,375.2 581,374.6 581.2,375.5 581.3,374.8 581.5,376.1 581.7,376.3 581.9,376.3 582,377 582.2,377.2 582.4,377.8 582.6,377.8 582.8,378.2 582.9,377.9 583.1,378.4 583.3,379 583.5,379.6 583.6,379.8 583.8,380.7 584,380.3 584.2,380.9 584.3,381.4 584.5,381.6 584.7,382.2 584.8,382.3 585,383.3 585.2,383.1 585.4,383.9 585.5,384 585.7,384.8 585.9,384.3 586,385.2 586.2,385.3 586.4,385.9 586.6,386.5 586.7,386.2 586.9,386.5 587.1,386.9 587.2,387.7 587.4,387.4 587.6,388.4 587.7,388.3 587.9,388.7 588.1,389.3 588.2,389.9 588.4,389.9 588.6,390.3 588.7,390.8 588.9,391 589.1,390.6 589.2,391.5 589.4,392 589.6,392.5 589.7,393 589.9,392.8 590.1,392.8 590.2,392.7 590.4,393.2 590.5,393.6 590.7,393.9 590.9,393.4 591,393.9 591.2,394.2 591.4,394.7 591.5,394.5 591.7,394.4 591.8,394.6 592,395 592.2,395.2 592.3,396 592.5,396.5 592.6,396.8 592.8,397.4 593,397.4 593.1,398.2 593.3,398.6 593.4,399.4 593.6,400.3 593.7,400.6 593.9,400.8 594.1,401.9 594.2,402.5 594.4,403 594.5,403.9 594.7,405.2 594.8,406.1 595,406.3 595.1,407.5 595.3,408.4 595.5,408.5 595.6,409.7 595.8,410.6 595.9,411.6 596.1,412 596.2,413.4 596.4,414.8 596.5,415.9 596.7,417.1 596.8,417.6 597,419.4 597.1,420.2 597.3,420.7 597.4,422.6 597.6,423.6 597.7,425.2 597.9,426.5 598,428.4 598.2,429.6 598.3,431.1 598.5,433.1 598.6,434.5 598.8,436 598.9,438.1 599.1,439.3 599.2,440.8 599.4,442.5 599.5,443.8 599.7,445.7 599.8,448.1 600,448.9 600.1,450.9 600.3,452.3 600.4,454.2 600.6,456.6 600.7,458.3 600.9,459.8 601,461.9 601.1,463.8 601.3,466 601.4,468.2 601.6,470.6 601.7,473.5 601.9,476.2 602,478.8 602.2,481.3 602.3,483.7 602.4,487 602.6,489.6 602.7,493.2 602.9,496.2 603,499.6 603.2,502.6 603.3,505.7 603.4,510.2 603.6,514.1 603.7,517.4 603.9,522.2 604,526.9" stroke="#111" stroke-width="0.9" marker-start="url(#mb)" marker-mid="url(#mb)" marker-end="url(#mb)"/>
<polyline points="509,529.3 509.4,520.7 509.8,510.2 510.1,496.6 510.5,487.5 510.9,480.2 511.3,473.7 511.6,466.7 512,460.3 512.4,453.8 512.8,447.5 513.1,442.2 513.5,436.6 513.9,432 514.2,427.5 514.6,423.7 514.9,420.4 515.3,417.3 515.7,415.9 516,413.3 516.4,411.5 516.7,410.2 517.1,409.3 517.4,407.7 517.8,406.4 518.1,405.8 518.5,405.5 518.8,404.7 519.2,404 519.5,403.7 519.9,403.6 520.2,403.5 520.5,402.1 520.9,401.9 521.2,401.4 521.5,400.5 521.9,400.5 522.2,400 522.6,400.3 522.9,399.5 523.2,398.6 523.5,398.9 523.9,398.1 524.2,397.3 524.5,397.2 524.8,396.7 525.2,396.2 525.5,396 525.8,394.8 526.1,395 526.5,394.8 526.8,394.3 527.1,393.8 527.4,393.2 527.7,392.7 528,391.3 528.4,391.2 528.7,389.7 529,389.4 529.3,388.3 529.6,388.6 529.9,388.1 530.2,387 530.5,387.1 530.8,385.8 531.1,385.4 531.4,384.9 531.7,384 532,383.9 532.3,383.8 532.6,382.5 532.9,382.6 533.2,381.9 533.5,382.2 533.8,381.5 534.1,381.2 534.4,380.9 534.7,380.4 535,379.7 535.3,380.2 535.6,379.2 535.9,379.5 536.2,379.5 536.4,379 536.7,379.2 537,379.6 537.3,379.3 537.6,379.1 537.9,378.6 538.1,379.4 538.4,379.6 538.7,379.8 539,379.9 539.3,380.5 539.5,380.4 539.8,380.8 540.1,381.3 540.4,381.2 540.7,381.7 540.9,382.9 541.2,383 541.5,382.9 541.7,383.9 542,384.7 542.3,385.5 542.6,385.9 542.8,386.4 543.1,387.1 543.4,388.3 543.6,389.1 543.9,389.9 544.2,391.1 544.4,392.2 544.7,393.7 545,394.6 545.2,396.3 545.5,397.7 545.7,398.9 546,399.9 546.3,402 546.5,402.9 546.8,404.8 547,406 547.3,407.4 547.5,409.7 547.8,411.4 548.1,413 548.3,414.9 548.6,416.5 548.8,418.3 549.1,420.4 549.3,423.1 549.6,424.8 549.8,426.4 550.1,428.9 550.3,430.7 550.6,432.8 550.8,435.3 551.1,437.1 551.3,438.9 551.5,441.3 551.8,443.8 552,446 552.3,448.6 552.5,450.2 552.8,453 553,455.3 553.2,457.5 553.5,460.3 553.7,462.7 554,465 554.2,468.2 554.4,470.3 554.7,473.5 554.9,476.4 555.2,479.4 555.4,482 555.6,485.1 555.9,488 556.1,491.4 556.3,494 556.6,497.4 556.8,500.4 557,503.2 557.2,507.6 557.5,509.9 557.7,513.1 557.9,517.8 558.2,520.5 558.4,523.7 558.6,525.4 558.9,525.8 559.1,526.6 559.3,527.4 559.5,528 559.8,528.5 560,528.8 560.2,529.1 560.4,529.3 560.6,529.3 560.9,529.2 561.1,528.9 561.3,528.5 561.5,528 561.8,527.5 562,526.8 562.2,526.3 562.4,526.1 562.6,525.7 562.9,524.7 563.1,524.1 563.3,523.1 563.5,522.9 563.7,522.4 563.9,521.8 564.1,520.9 564.4,521.1 564.6,520.4 564.8,519.6 565,519 565.2,518.5 565.4,518.2 565.6,517.6 565.8,517.3 566.1,516.9 566.3,516.7 566.5,516.2 566.7,515.5 566.9,515.3 567.1,514.8 567.3,514.5 567.5,515.1 567.7,514.4 567.9,515.1 568.1,514.4 568.3,514.6 568.5,514.9 568.8,514.6 569,514.7 569.2,514.5 569.4,514.5 569.6,514.6 569.8,514.5 570,515.3 570.2,514.8 570.4,515.6 570.6,514.5 570.8,515.6 571,516.2 571.2,516.3 571.4,517.2 571.6,517.5 571.8,517.7 572,518.4 572.2,519.6 572.4,519.4 572.6,520.1 572.8,520.6 573,521.5 573.1,521.9 573.3,523 573.5,524.5 573.7,524.9 573.9,525.4 574.1,526.2 574.3,527 574.5,527.1 574.7,527.4 574.9,527.9 575.1,528.3 575.3,528.7 575.5,529.1" stroke="#111" stroke-width="0.9" marker-start="url(#mr)" marker-mid="url(#mr)" marker-end="url(#mr)"/>
<polyline points="604.6,529.3 604.7,529 604.9,528.7 605,528.4 605.2,528.1 605.3,527.8 605.4,527.5 605.6,527 605.7,526.8 605.9,526.4 606,525.7 606.1,526.1 606.3,525.7 606.4,525.6 606.5,524.7 606.7,524.2 606.8,523.7 607,523.1 607.1,523.4 607.2,522.4 607.4,522 607.5,521.8 607.6,521.9 607.8,521.1 607.9,520.3 608,520 608.2,520 608.3,519.3 608.4,518.7 608.6,518.4 608.7,518.2 608.9,518.1 609,516.7 609.1,516.4 609.3,515.8 609.4,514.8 609.5,514.7 609.7,514.1 609.8,514.2 609.9,513.2 610.1,512.1 610.2,512.2 610.3,511.2 610.4,510.1 610.6,509.6 610.7,508.8 610.8,507.9 611,507.3 611.1,505.7 611.2,505.4 611.4,504.8 611.5,503.8 611.6,502.9 611.8,501.9 611.9,501 612,499.2 612.1,498.7 612.3,496.9 612.4,496.2 612.5,494.8 612.7,494.7 612.8,493.8 612.9,492.3 613.1,491.8 613.2,490 613.3,489.2 613.4,488.1 613.6,486.6 613.7,485.9 613.8,485.2 613.9,483.2 614.1,482.6 614.2,481.1 614.3,480.5 614.5,478.9 614.6,477.7 614.7,476.4 614.8,475 615,473.2 615.1,472.7 615.2,470.5 615.3,469.6 615.5,468.3 615.6,466.5 615.7,465.3 615.8,464.2 616,462.3 616.1,460.6 616.2,458.5 616.3,457.6 616.5,456.3 616.6,454.9 616.7,453.3 616.8,452.2 616.9,450.5 617.1,449.2 617.2,447.9 617.3,446 617.4,444.6 617.6,443.9 617.7,442 617.8,439.9 617.9,438.7 618.1,437.5 618.2,436.2 618.3,434.5 618.4,432.8 618.5,431.4 618.7,430.4 618.8,429 618.9,427.4 619,426.2 619.1,424.8 619.3,423.9 619.4,422.2 619.5,421.3 619.6,420.1 619.7,418.7 619.9,417.1 620,416.5 620.1,414.6 620.2,413.7 620.3,412 620.5,410.4 620.6,409.7 620.7,408.4 620.8,406.9 620.9,405.6 621,403.9 621.2,402.4 621.3,401.2 621.4,400.4 621.5,398.7 621.6,396.9 621.8,395.9 621.9,394.3 622,393.2 622.1,392.4 622.2,391 622.3,389.7 622.5,389 622.6,388.4 622.7,387.6 622.8,387.1 622.9,385.7 623,385.4 623.2,384.6 623.3,383.7 623.4,383.2 623.5,382.5 623.6,381.4 623.7,381.3 623.8,380 624,379.8 624.1,379.1 624.2,378.7 624.3,377.8 624.4,377.4 624.5,376.8 624.6,376.6 624.8,375.5 624.9,375.3 625,374.7 625.1,373.8 625.2,374.5 625.3,373.2 625.4,372.3 625.5,372.7 625.7,371.5 625.8,371.5 625.9,371.2 626,370.4 626.1,370 626.2,369.6 626.3,369.4 626.4,368.6 626.6,368.4 626.7,368.4 626.8,368.4 626.9,368 627,368 627.1,367.4 627.2,366.8 627.3,366.7 627.4,365.8 627.5,365.9 627.7,365.6 627.8,365.8 627.9,365.7 628,365.1 628.1,364.8 628.2,364.3 628.3,364.6 628.4,364.5 628.5,364.3 628.6,363.7 628.8,364.4 628.9,363.9 629,363.4 629.1,363 629.2,362.9 629.3,362.9 629.4,362.6 629.5,362.6 629.6,362.5 629.7,362.5 629.8,362.2 629.9,361.6 630.1,361.6 630.2,361.2 630.3,360.9 630.4,361.5 630.5,360.6 630.6,361.1 630.7,360.2 630.8,360.2 630.9,360.3 631,359.8 631.1,359.8 631.2,359.4 631.3,359.2 631.4,359.1 631.5,358.8 631.6,359.4 631.8,358.7 631.9,359.2 632,357.8 632.1,358.5 632.2,358.6 632.3,358.3 632.4,358.6 632.5,358.4 632.6,358.1 632.7,358.3 632.8,359 632.9,358.2 633,358.2 633.1,358 633.2,358.1 633.3,357.7 633.4,358 633.5,358.7 633.6,358.3 633.7,358.2 633.8,358.3 633.9,358.5 634,358.1 634.1,358.5 634.3,358.2 634.4,357.9 634.5,358.4 634.6,357.1 634.7,357.7 634.8,357.9 634.9,357.5 635,357.8 635.1,357.6 635.2,357.6 635.3,358.6 635.4,357.9 635.5,357.7 635.6,358.1 635.7,357.7 635.8,358 635.9,357.8 636,358.2 636.1,357.3 636.2,357.9 636.3,357.7 636.4,357.3 636.5,358 636.6,357.4 636.7,358.1 636.8,357.8 636.9,357.8 637,357.6 637.1,357.9 637.2,357 637.3,357.6 637.4,357.4 637.5,357.7 637.6,357.6 637.7,357.7 637.8,357.3 637.9,358.1 638,358.2 638.1,357.5 638.2,357.5 638.3,357.6 638.4,357.9 638.5,358.1 638.6,357.1 638.7,357.3 638.8,357.1 638.9,357.1 639,356.9 639.1,357.5 639.2,357.1 639.3,357.9 639.4,357.7 639.5,357.1 639.6,357.1 639.7,357.2 639.8,357.8 639.9,357.1 640,356.9 640.1,357.3 640.2,357.5 640.3,357.1 640.4,357.8 640.5,357.4 640.6,357.4 640.7,357 640.8,357.3 640.9,357.2 641,356.6 641.1,357.4 641.2,356.7 641.3,357.3 641.4,356.8 641.5,357.9 641.6,357.3 641.7,357.5 641.8,357.5 641.9,356.8 642,356.5 642.1,357.1 642.2,357.5 642.3,357.2 642.4,357.5 642.5,357.5 642.6,356.8 642.7,357.3 642.8,357.8 642.9,357 643,356.6 643.1,357.1 643.2,357.1 643.3,357.3 643.4,356.9 643.5,357.2 643.6,356.5 643.7,357.5 643.8,357.7 643.9,357.6 644,356.8 644.1,357.3 644.2,356.3 644.3,357.3 644.4,357.2 644.5,356.9 644.6,357.3 644.7,357.3 644.8,357.5 644.9,357.3 645,357.3 645.1,356.7 645.2,356.9 645.3,357.1 645.4,357.4 645.5,357.3 645.6,357.7 645.7,357 645.8,357.2 645.9,357.4 646,357.3 646.1,357.5 646.2,357.2 646.3,357.8 646.4,357.3 646.5,357.7 646.6,357.4 646.7,357.8 646.8,357 646.9,357.6 647,357.3 647.1,357.5 647.2,357.8 647.3,357.1 647.4,357.1 647.5,357.2 647.6,357.6 647.7,356.9 647.8,357.6 647.9,357.2 648,357.2 648.1,357.5 648.2,357.7 648.3,357.4 648.4,357.5 648.5,357.6 648.6,357.6 648.7,356.9 648.8,357.5 648.9,357.7 649,358 649.1,358.3 649.2,357.9 649.3,357.8 649.4,357.5 649.5,357.8 649.6,358 649.7,358.2 649.8,357.6 649.9,357.9 650,358.1 650.1,358.4 650.2,358 650.3,357.8 650.4,357.7 650.5,357.9 650.6,357.8 650.7,358.3 650.8,358.4 650.9,358.3 651,358.5 651.1,358 651.2,358.3 651.3,358.1 651.4,358.2 651.5,358.6 651.6,358.3 651.7,357.8 651.8,358.3 651.9,358.2 652,358 652.1,358.3 652.2,358.8 652.3,359.1 652.4,358.5 652.5,359 652.6,359.1 652.7,358.4 652.8,358.8 652.9,358.9 653,359 653.1,358.5 653.2,359 653.3,359.4 653.4,359.6 653.5,359.8 653.6,359.2 653.7,359.9 653.8,359.6 653.9,359.1 654,359.8 654.1,359.6 654.2,359.9 654.3,359.9 654.4,360.4 654.5,360.3 654.6,360.3 654.7,360.9 654.8,360.9 654.9,360.9 655,361.6 655.1,361.4 655.2,361.5 655.3,361.8 655.4,361.8 655.5,362.3 655.6,363.3 655.7,362.7 655.8,363.2 655.9,363.1 656,363.5 656.1,364.4 656.2,364.4 656.3,364.2 656.4,364.6 656.5,364.6 656.6,364.8 656.7,365 656.8,365.3 656.9,365.9 657,366.2 657.1,366.5 657.2,366.5 657.3,366.4 657.4,367 657.5,367 657.6,367.8 657.7,367.9 657.8,368.1 657.9,367.9 658,367.6 658.1,368.5 658.2,368.6 658.3,367.9 658.4,368.3 658.5,368.7 658.6,368 658.7,368.8 658.8,368.2 658.9,367.9 659,368.7 659.1,368.3 659.2,368 659.3,368.5 659.4,367.6 659.5,368.7 659.6,367.9 659.7,368.2 659.8,367.9 659.9,368.2 660,368.3 660.1,367.7 660.2,368.2 660.3,367.8 660.4,367.7 660.5,367.8 660.6,367.5 660.7,367.5 660.8,368 660.9,367.6 661,367.9 661.1,367.6 661.2,367 661.3,366.6 661.4,366.8 661.5,366.9 661.6,366.7 661.7,366.2 661.8,366.6 661.9,365.5 662,365.5 662.1,365.7 662.2,366.1 662.3,365.4 662.4,364.7 662.5,365 662.6,364.9 662.7,364.8 662.8,364.2 662.9,364 663,364.2 663.1,364.2 663.2,364.5 663.3,364.6 663.4,363.8 663.5,363.9 663.6,364 663.7,364 663.8,364.2 663.9,364.3 664,364.2 664.1,364.6 664.2,364.2 664.3,364 664.4,363.9 664.5,364.1 664.6,364.2 664.7,364 664.8,364.8 664.9,364.8 665,364.7 665.1,364.6 665.2,364.5 665.3,364.8 665.4,365.7 665.5,364.6 665.6,365.4 665.7,365.6 665.8,365.5 665.9,365.5 666,365.9 666.1,365.5 666.2,366.1 666.3,366.4 666.4,365.8 666.5,366 666.6,366.3 666.7,366.7 666.8,366.9 666.9,366.8 667,366.5 667.1,366.4 667.2,367 667.3,367.1 667.4,366.7 667.5,367.2 667.6,367.4 667.7,367.7 667.8,367.2 667.9,367.8 668,367.4 668.1,367.7 668.2,368 668.3,368.6 668.4,369.2 668.5,368.4 668.6,368.6 668.7,368.9 668.8,368.4 668.9,369.1 669,368.7 669.1,369.7 669.2,369.8 669.3,369.6 669.4,369.4 669.5,370.3 669.6,370 669.7,370.1 669.8,370.4 669.9,369.9 670,370.7 670.1,371.1 670.2,371 670.3,371.2 670.4,371 670.5,371.7 670.6,371.7 670.7,371.9 670.8,371.9 670.9,372.5 671,372.8 671.1,372.8 671.2,373.1 671.3,373.5 671.4,373.7 671.5,373.6 671.6,373.6 671.7,373.8 671.8,374.1 671.9,374.5 672,374.9 672.1,374.7 672.2,375.1 672.3,375 672.4,375.9 672.5,375.6 672.6,376.1 672.7,376 672.8,376.3 672.9,376.5 673,377.4 673.1,377.3 673.2,377.4 673.3,377.4 673.4,377.7 673.5,378.3 673.6,378.9 673.7,378.3 673.8,378.7 673.9,379.2 674,379.4 674.1,379.4 674.2,380.3 674.3,380.8 674.4,380.5 674.5,381.4 674.6,382 674.7,382.4 674.8,382.5 674.9,383.8 675,383.7 675.1,383.9 675.2,384.9 675.3,384.8 675.4,386 675.5,385.9 675.6,387.2 675.7,387.3" stroke="#111" stroke-width="0.9" marker-start="url(#mr)" marker-mid="url(#mr)" marker-end="url(#mr)"/>
<polyline points="583.5,529.3 592.5,529.3" stroke="none" marker-start="url(#mr)" marker-end="url(#mr)"/>
</g>
<path d="M441.3 357V529.3H676.6M437.5 357H441.3M439.1 374.2H441.3M437.5 391.5H441.3M439.1 408.7H441.3M437.5 425.9H441.3M439.1 443.2H441.3M437.5 460.4H441.3M439.1 477.6H441.3M437.5 494.8H441.3M439.1 512.1H441.3M437.5 529.3H441.3M468.2 529.3V531.7M538.7 529.3V533.3M608.2 529.3V531.7M676.5 529.3V533.3" stroke="#1c1c1c" stroke-width="1.2" fill="none"/>
<text x="388.6" y="352.4" font-family="Liberation Sans, sans-serif" fill="#111" font-size="19" font-weight="bold">c</text>
<text x="434.0" y="360.4" font-family="Liberation Sans, sans-serif" fill="#111" font-size="11.8" stroke="#111" stroke-width="0.45" text-anchor="end">-10</text>
<text x="434.0" y="394.9" font-family="Liberation Sans, sans-serif" fill="#111" font-size="11.8" stroke="#111" stroke-width="0.45" text-anchor="end">-20</text>
<text x="434.0" y="429.3" font-family="Liberation Sans, sans-serif" fill="#111" font-size="11.8" stroke="#111" stroke-width="0.45" text-anchor="end">-30</text>
<text x="434.0" y="463.8" font-family="Liberation Sans, sans-serif" fill="#111" font-size="11.8" stroke="#111" stroke-width="0.45" text-anchor="end">-40</text>
<text x="434.0" y="498.2" font-family="Liberation Sans, sans-serif" fill="#111" font-size="11.8" stroke="#111" stroke-width="0.45" text-anchor="end">-50</text>
<text x="434.0" y="532.7" font-family="Liberation Sans, sans-serif" fill="#111" font-size="11.8" stroke="#111" stroke-width="0.45" text-anchor="end">-60</text>
<text x="539.2" y="545.2" font-family="Liberation Sans, sans-serif" fill="#111" font-size="13" stroke="#111" stroke-width="0.25" text-anchor="middle">1</text>
<text x="677.6" y="545.2" font-family="Liberation Sans, sans-serif" fill="#111" font-size="13" stroke="#111" stroke-width="0.25" text-anchor="middle">2</text>
<text x="573" y="561" font-family="Liberation Sans, sans-serif" fill="#111" font-size="17.5" text-anchor="middle">Frequency (GHz)</text>
<g transform="translate(403.2 473) rotate(-90)">
<path d="M0.9 -13.6V5.8M29.6 -13.6V5.8" stroke="#111" stroke-width="1.5" fill="none"/>
<text x="2.8" y="0" font-family="Liberation Sans, sans-serif" fill="#111" font-size="18">S</text>
<text x="16.4" y="5.2" font-family="Liberation Sans, sans-serif" fill="#111" font-size="8.6" stroke="#111" stroke-width="0.2">21</text>
<text x="35.2" y="0" font-family="Liberation Sans, sans-serif" fill="#111" font-size="17.6">(dB)</text>
</g>
<rect x="624.4" y="476.3" width="50.4" height="35.5" fill="#fff" stroke="#333" stroke-width="1"/>
<path d="M627.3 481.4H647.5" stroke="#222" stroke-width="1.1" fill="none"/>
<circle cx="637.5" cy="481.4" r="1.5" fill="#0c0c0c"/>
<text x="651.8" y="486" font-family="Liberation Sans, sans-serif" fill="#111" font-size="12.8" stroke="#111" stroke-width="0.25">6V</text>
<path d="M627.3 493.9H647.5" stroke="#222" stroke-width="1.1" fill="none"/>
<circle cx="637.5" cy="493.9" r="1.5" fill="#342c8c"/>
<text x="651.8" y="498.6" font-family="Liberation Sans, sans-serif" fill="#111" font-size="12.8" stroke="#111" stroke-width="0.25">11V</text>
<path d="M627.3 505.9H647.5" stroke="#222" stroke-width="1.1" fill="none"/>
<circle cx="637.5" cy="505.9" r="1.5" fill="#e8281e"/>
<text x="651.8" y="510.4" font-family="Liberation Sans, sans-serif" fill="#111" font-size="12.8" stroke="#111" stroke-width="0.25">24V</text>
</svg>
</body></html>
